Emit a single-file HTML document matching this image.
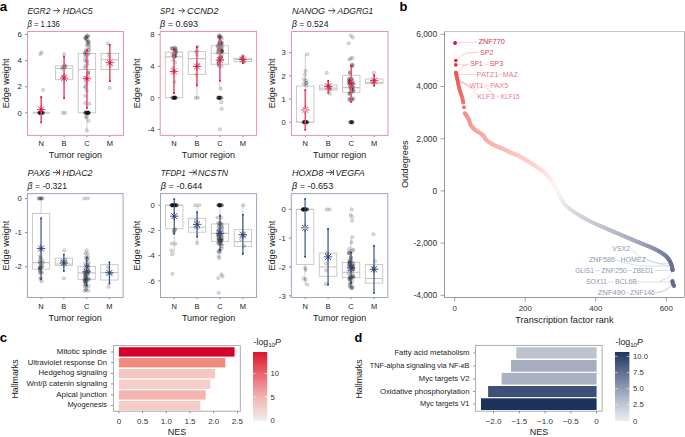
<!DOCTYPE html>
<html><head><meta charset="utf-8"><style>
html,body{margin:0;padding:0;background:#fff;}
body{width:685px;height:437px;overflow:hidden;}
svg{display:block;font-family:"Liberation Sans", sans-serif;}
</style></head><body>
<svg width="685" height="437" viewBox="0 0 685 437">
<rect width="685" height="437" fill="#fff"/>
<text x="-0.20" y="10.60" font-size="13.2" fill="#000" font-weight="bold" textLength="7.40" lengthAdjust="spacingAndGlyphs">a</text>
<text x="27.40" y="13.90" font-size="9.3" fill="#1a1a1a" font-style="italic" textLength="23.00" lengthAdjust="spacingAndGlyphs">EGR2</text>
<line x1="53.30" y1="10.70" x2="59.60" y2="10.70" stroke="#222" stroke-width="0.8"/>
<path d="M57.00,8.20 L59.60,10.70 L57.00,13.20" fill="none" stroke="#222" stroke-width="0.8"/>
<text x="62.80" y="13.90" font-size="9.3" fill="#1a1a1a" font-style="italic" textLength="29.90" lengthAdjust="spacingAndGlyphs">HDAC5</text>
<text x="27.40" y="27.10" font-size="9" fill="#1a1a1a" textLength="32.50" lengthAdjust="spacingAndGlyphs"><tspan font-style="italic">β</tspan> = 1.136</text>
<text x="9.30" y="83.45" font-size="9" fill="#1a1a1a" text-anchor="middle" textLength="49.80" lengthAdjust="spacingAndGlyphs" transform="rotate(-90 9.30 83.45)">Edge weight</text>
<line x1="25.20" y1="112.80" x2="27.50" y2="112.80" stroke="#333" stroke-width="0.6"/>
<text x="21.90" y="115.50" font-size="7.7" fill="#2a2a2a" text-anchor="end">0</text>
<line x1="25.20" y1="86.70" x2="27.50" y2="86.70" stroke="#333" stroke-width="0.6"/>
<text x="21.90" y="89.40" font-size="7.7" fill="#2a2a2a" text-anchor="end">2</text>
<line x1="25.20" y1="60.60" x2="27.50" y2="60.60" stroke="#333" stroke-width="0.6"/>
<text x="21.90" y="63.30" font-size="7.7" fill="#2a2a2a" text-anchor="end">4</text>
<line x1="25.20" y1="34.50" x2="27.50" y2="34.50" stroke="#333" stroke-width="0.6"/>
<text x="21.90" y="37.20" font-size="7.7" fill="#2a2a2a" text-anchor="end">6</text>
<line x1="41.21" y1="135.40" x2="41.21" y2="137.00" stroke="#333" stroke-width="0.6"/>
<text x="41.21" y="146.40" font-size="7.5" fill="#222" text-anchor="middle">N</text>
<line x1="64.07" y1="135.40" x2="64.07" y2="137.00" stroke="#333" stroke-width="0.6"/>
<text x="64.07" y="146.40" font-size="7.5" fill="#222" text-anchor="middle">B</text>
<line x1="86.93" y1="135.40" x2="86.93" y2="137.00" stroke="#333" stroke-width="0.6"/>
<text x="86.93" y="146.40" font-size="7.5" fill="#222" text-anchor="middle">C</text>
<line x1="109.79" y1="135.40" x2="109.79" y2="137.00" stroke="#333" stroke-width="0.6"/>
<text x="109.79" y="146.40" font-size="7.5" fill="#222" text-anchor="middle">M</text>
<text x="75.50" y="157.70" font-size="9.4" fill="#222" text-anchor="middle" textLength="53.30" lengthAdjust="spacingAndGlyphs">Tumor region</text>
<clipPath id="c1"><rect x="27.5" y="31.5" width="96.0" height="103.9"/></clipPath>
<g clip-path="url(#c1)">
<line x1="32.53" y1="112.80" x2="49.90" y2="112.80" stroke="#cfcfcf" stroke-width="2.0"/>
<circle cx="39.82" cy="112.75" r="1.65" fill="#000" fill-opacity="0.13" stroke="#000" stroke-opacity="0.26" stroke-width="0.55"/>
<circle cx="39.50" cy="112.85" r="1.65" fill="#000" fill-opacity="0.13" stroke="#000" stroke-opacity="0.26" stroke-width="0.55"/>
<circle cx="40.68" cy="112.81" r="1.65" fill="#000" fill-opacity="0.13" stroke="#000" stroke-opacity="0.26" stroke-width="0.55"/>
<circle cx="41.24" cy="112.67" r="1.65" fill="#000" fill-opacity="0.13" stroke="#000" stroke-opacity="0.26" stroke-width="0.55"/>
<circle cx="40.95" cy="112.66" r="1.65" fill="#000" fill-opacity="0.13" stroke="#000" stroke-opacity="0.26" stroke-width="0.55"/>
<circle cx="39.58" cy="112.67" r="1.65" fill="#000" fill-opacity="0.13" stroke="#000" stroke-opacity="0.26" stroke-width="0.55"/>
<circle cx="42.52" cy="112.78" r="1.65" fill="#000" fill-opacity="0.13" stroke="#000" stroke-opacity="0.26" stroke-width="0.55"/>
<circle cx="40.11" cy="112.69" r="1.65" fill="#000" fill-opacity="0.13" stroke="#000" stroke-opacity="0.26" stroke-width="0.55"/>
<circle cx="43.01" cy="112.84" r="1.65" fill="#000" fill-opacity="0.13" stroke="#000" stroke-opacity="0.26" stroke-width="0.55"/>
<circle cx="40.80" cy="112.82" r="1.65" fill="#000" fill-opacity="0.13" stroke="#000" stroke-opacity="0.26" stroke-width="0.55"/>
<circle cx="39.40" cy="112.94" r="1.65" fill="#000" fill-opacity="0.13" stroke="#000" stroke-opacity="0.26" stroke-width="0.55"/>
<circle cx="40.37" cy="112.91" r="1.65" fill="#000" fill-opacity="0.13" stroke="#000" stroke-opacity="0.26" stroke-width="0.55"/>
<circle cx="39.69" cy="112.69" r="1.65" fill="#000" fill-opacity="0.13" stroke="#000" stroke-opacity="0.26" stroke-width="0.55"/>
<circle cx="42.48" cy="112.74" r="1.65" fill="#000" fill-opacity="0.13" stroke="#000" stroke-opacity="0.26" stroke-width="0.55"/>
<circle cx="41.54" cy="112.70" r="1.65" fill="#000" fill-opacity="0.13" stroke="#000" stroke-opacity="0.26" stroke-width="0.55"/>
<circle cx="40.70" cy="112.84" r="1.65" fill="#000" fill-opacity="0.13" stroke="#000" stroke-opacity="0.26" stroke-width="0.55"/>
<circle cx="39.47" cy="112.81" r="1.65" fill="#000" fill-opacity="0.13" stroke="#000" stroke-opacity="0.26" stroke-width="0.55"/>
<circle cx="40.04" cy="112.67" r="1.65" fill="#000" fill-opacity="0.13" stroke="#000" stroke-opacity="0.26" stroke-width="0.55"/>
<circle cx="40.92" cy="112.85" r="1.65" fill="#000" fill-opacity="0.13" stroke="#000" stroke-opacity="0.26" stroke-width="0.55"/>
<circle cx="41.56" cy="112.74" r="1.65" fill="#000" fill-opacity="0.13" stroke="#000" stroke-opacity="0.26" stroke-width="0.55"/>
<circle cx="40.41" cy="112.79" r="1.65" fill="#000" fill-opacity="0.13" stroke="#000" stroke-opacity="0.26" stroke-width="0.55"/>
<circle cx="42.01" cy="112.89" r="1.65" fill="#000" fill-opacity="0.13" stroke="#000" stroke-opacity="0.26" stroke-width="0.55"/>
<circle cx="41.51" cy="112.72" r="1.65" fill="#000" fill-opacity="0.13" stroke="#000" stroke-opacity="0.26" stroke-width="0.55"/>
<circle cx="42.71" cy="112.81" r="1.65" fill="#000" fill-opacity="0.13" stroke="#000" stroke-opacity="0.26" stroke-width="0.55"/>
<circle cx="40.21" cy="54.07" r="1.65" fill="#000" fill-opacity="0.13" stroke="#000" stroke-opacity="0.26" stroke-width="0.55"/>
<circle cx="41.61" cy="52.51" r="1.65" fill="#000" fill-opacity="0.13" stroke="#000" stroke-opacity="0.26" stroke-width="0.55"/>
<circle cx="43.21" cy="89.96" r="1.65" fill="#000" fill-opacity="0.13" stroke="#000" stroke-opacity="0.26" stroke-width="0.55"/>
<rect x="55.39" y="65.82" width="17.37" height="13.83" fill="none" stroke="#c4c4c4" stroke-width="0.9"/>
<line x1="55.39" y1="68.43" x2="72.76" y2="68.43" stroke="#c4c4c4" stroke-width="1.1"/>
<circle cx="64.07" cy="54.07" r="1.65" fill="#000" fill-opacity="0.13" stroke="#000" stroke-opacity="0.26" stroke-width="0.55"/>
<circle cx="63.01" cy="67.55" r="1.65" fill="#000" fill-opacity="0.13" stroke="#000" stroke-opacity="0.26" stroke-width="0.55"/>
<circle cx="62.16" cy="68.37" r="1.65" fill="#000" fill-opacity="0.13" stroke="#000" stroke-opacity="0.26" stroke-width="0.55"/>
<circle cx="65.36" cy="66.53" r="1.65" fill="#000" fill-opacity="0.13" stroke="#000" stroke-opacity="0.26" stroke-width="0.55"/>
<circle cx="64.02" cy="65.66" r="1.65" fill="#000" fill-opacity="0.13" stroke="#000" stroke-opacity="0.26" stroke-width="0.55"/>
<circle cx="64.91" cy="65.30" r="1.65" fill="#000" fill-opacity="0.13" stroke="#000" stroke-opacity="0.26" stroke-width="0.55"/>
<circle cx="64.44" cy="67.66" r="1.65" fill="#000" fill-opacity="0.13" stroke="#000" stroke-opacity="0.26" stroke-width="0.55"/>
<circle cx="63.14" cy="76.75" r="1.65" fill="#000" fill-opacity="0.13" stroke="#000" stroke-opacity="0.26" stroke-width="0.55"/>
<circle cx="64.54" cy="75.58" r="1.65" fill="#000" fill-opacity="0.13" stroke="#000" stroke-opacity="0.26" stroke-width="0.55"/>
<circle cx="62.87" cy="112.80" r="1.65" fill="#000" fill-opacity="0.13" stroke="#000" stroke-opacity="0.26" stroke-width="0.55"/>
<circle cx="65.07" cy="112.80" r="1.65" fill="#000" fill-opacity="0.13" stroke="#000" stroke-opacity="0.26" stroke-width="0.55"/>
<line x1="86.93" y1="112.80" x2="86.93" y2="130.55" stroke="#c4c4c4" stroke-width="0.8"/>
<rect x="78.24" y="53.42" width="17.37" height="59.38" fill="none" stroke="#c4c4c4" stroke-width="0.9"/>
<line x1="78.24" y1="69.47" x2="95.61" y2="69.47" stroke="#c4c4c4" stroke-width="1.1"/>
<circle cx="86.73" cy="45.37" r="1.65" fill="#000" fill-opacity="0.13" stroke="#000" stroke-opacity="0.26" stroke-width="0.55"/>
<circle cx="88.97" cy="49.95" r="1.65" fill="#000" fill-opacity="0.13" stroke="#000" stroke-opacity="0.26" stroke-width="0.55"/>
<circle cx="87.68" cy="43.50" r="1.65" fill="#000" fill-opacity="0.13" stroke="#000" stroke-opacity="0.26" stroke-width="0.55"/>
<circle cx="87.86" cy="36.22" r="1.65" fill="#000" fill-opacity="0.13" stroke="#000" stroke-opacity="0.26" stroke-width="0.55"/>
<circle cx="89.20" cy="46.55" r="1.65" fill="#000" fill-opacity="0.13" stroke="#000" stroke-opacity="0.26" stroke-width="0.55"/>
<circle cx="85.94" cy="49.63" r="1.65" fill="#000" fill-opacity="0.13" stroke="#000" stroke-opacity="0.26" stroke-width="0.55"/>
<circle cx="87.70" cy="41.95" r="1.65" fill="#000" fill-opacity="0.13" stroke="#000" stroke-opacity="0.26" stroke-width="0.55"/>
<circle cx="86.75" cy="35.55" r="1.65" fill="#000" fill-opacity="0.13" stroke="#000" stroke-opacity="0.26" stroke-width="0.55"/>
<circle cx="85.17" cy="38.11" r="1.65" fill="#000" fill-opacity="0.13" stroke="#000" stroke-opacity="0.26" stroke-width="0.55"/>
<circle cx="88.16" cy="36.19" r="1.65" fill="#000" fill-opacity="0.13" stroke="#000" stroke-opacity="0.26" stroke-width="0.55"/>
<circle cx="85.77" cy="37.43" r="1.65" fill="#000" fill-opacity="0.13" stroke="#000" stroke-opacity="0.26" stroke-width="0.55"/>
<circle cx="88.64" cy="42.04" r="1.65" fill="#000" fill-opacity="0.13" stroke="#000" stroke-opacity="0.26" stroke-width="0.55"/>
<circle cx="86.69" cy="36.57" r="1.65" fill="#000" fill-opacity="0.13" stroke="#000" stroke-opacity="0.26" stroke-width="0.55"/>
<circle cx="88.69" cy="44.83" r="1.65" fill="#000" fill-opacity="0.13" stroke="#000" stroke-opacity="0.26" stroke-width="0.55"/>
<circle cx="88.60" cy="49.59" r="1.65" fill="#000" fill-opacity="0.13" stroke="#000" stroke-opacity="0.26" stroke-width="0.55"/>
<circle cx="86.54" cy="40.06" r="1.65" fill="#000" fill-opacity="0.13" stroke="#000" stroke-opacity="0.26" stroke-width="0.55"/>
<circle cx="88.70" cy="41.47" r="1.65" fill="#000" fill-opacity="0.13" stroke="#000" stroke-opacity="0.26" stroke-width="0.55"/>
<circle cx="85.32" cy="52.03" r="1.65" fill="#000" fill-opacity="0.13" stroke="#000" stroke-opacity="0.26" stroke-width="0.55"/>
<circle cx="85.70" cy="38.26" r="1.65" fill="#000" fill-opacity="0.13" stroke="#000" stroke-opacity="0.26" stroke-width="0.55"/>
<circle cx="86.86" cy="39.26" r="1.65" fill="#000" fill-opacity="0.13" stroke="#000" stroke-opacity="0.26" stroke-width="0.55"/>
<circle cx="85.84" cy="65.84" r="1.65" fill="#000" fill-opacity="0.13" stroke="#000" stroke-opacity="0.26" stroke-width="0.55"/>
<circle cx="86.56" cy="52.86" r="1.65" fill="#000" fill-opacity="0.13" stroke="#000" stroke-opacity="0.26" stroke-width="0.55"/>
<circle cx="87.23" cy="60.96" r="1.65" fill="#000" fill-opacity="0.13" stroke="#000" stroke-opacity="0.26" stroke-width="0.55"/>
<circle cx="87.80" cy="73.91" r="1.65" fill="#000" fill-opacity="0.13" stroke="#000" stroke-opacity="0.26" stroke-width="0.55"/>
<circle cx="87.47" cy="64.21" r="1.65" fill="#000" fill-opacity="0.13" stroke="#000" stroke-opacity="0.26" stroke-width="0.55"/>
<circle cx="84.88" cy="67.77" r="1.65" fill="#000" fill-opacity="0.13" stroke="#000" stroke-opacity="0.26" stroke-width="0.55"/>
<circle cx="88.22" cy="72.73" r="1.65" fill="#000" fill-opacity="0.13" stroke="#000" stroke-opacity="0.26" stroke-width="0.55"/>
<circle cx="88.30" cy="72.17" r="1.65" fill="#000" fill-opacity="0.13" stroke="#000" stroke-opacity="0.26" stroke-width="0.55"/>
<circle cx="86.46" cy="61.47" r="1.65" fill="#000" fill-opacity="0.13" stroke="#000" stroke-opacity="0.26" stroke-width="0.55"/>
<circle cx="87.55" cy="55.07" r="1.65" fill="#000" fill-opacity="0.13" stroke="#000" stroke-opacity="0.26" stroke-width="0.55"/>
<circle cx="84.94" cy="54.15" r="1.65" fill="#000" fill-opacity="0.13" stroke="#000" stroke-opacity="0.26" stroke-width="0.55"/>
<circle cx="85.38" cy="57.40" r="1.65" fill="#000" fill-opacity="0.13" stroke="#000" stroke-opacity="0.26" stroke-width="0.55"/>
<circle cx="84.87" cy="60.31" r="1.65" fill="#000" fill-opacity="0.13" stroke="#000" stroke-opacity="0.26" stroke-width="0.55"/>
<circle cx="85.32" cy="52.78" r="1.65" fill="#000" fill-opacity="0.13" stroke="#000" stroke-opacity="0.26" stroke-width="0.55"/>
<circle cx="86.30" cy="55.02" r="1.65" fill="#000" fill-opacity="0.13" stroke="#000" stroke-opacity="0.26" stroke-width="0.55"/>
<circle cx="88.65" cy="53.34" r="1.65" fill="#000" fill-opacity="0.13" stroke="#000" stroke-opacity="0.26" stroke-width="0.55"/>
<circle cx="85.31" cy="95.79" r="1.65" fill="#000" fill-opacity="0.13" stroke="#000" stroke-opacity="0.26" stroke-width="0.55"/>
<circle cx="86.23" cy="83.51" r="1.65" fill="#000" fill-opacity="0.13" stroke="#000" stroke-opacity="0.26" stroke-width="0.55"/>
<circle cx="85.19" cy="87.31" r="1.65" fill="#000" fill-opacity="0.13" stroke="#000" stroke-opacity="0.26" stroke-width="0.55"/>
<circle cx="89.20" cy="103.76" r="1.65" fill="#000" fill-opacity="0.13" stroke="#000" stroke-opacity="0.26" stroke-width="0.55"/>
<circle cx="86.85" cy="90.77" r="1.65" fill="#000" fill-opacity="0.13" stroke="#000" stroke-opacity="0.26" stroke-width="0.55"/>
<circle cx="85.10" cy="77.87" r="1.65" fill="#000" fill-opacity="0.13" stroke="#000" stroke-opacity="0.26" stroke-width="0.55"/>
<circle cx="85.85" cy="86.58" r="1.65" fill="#000" fill-opacity="0.13" stroke="#000" stroke-opacity="0.26" stroke-width="0.55"/>
<circle cx="85.37" cy="103.08" r="1.65" fill="#000" fill-opacity="0.13" stroke="#000" stroke-opacity="0.26" stroke-width="0.55"/>
<circle cx="88.55" cy="112.66" r="1.65" fill="#000" fill-opacity="0.13" stroke="#000" stroke-opacity="0.26" stroke-width="0.55"/>
<circle cx="85.66" cy="112.81" r="1.65" fill="#000" fill-opacity="0.13" stroke="#000" stroke-opacity="0.26" stroke-width="0.55"/>
<circle cx="85.23" cy="112.81" r="1.65" fill="#000" fill-opacity="0.13" stroke="#000" stroke-opacity="0.26" stroke-width="0.55"/>
<circle cx="88.65" cy="112.81" r="1.65" fill="#000" fill-opacity="0.13" stroke="#000" stroke-opacity="0.26" stroke-width="0.55"/>
<circle cx="87.63" cy="112.91" r="1.65" fill="#000" fill-opacity="0.13" stroke="#000" stroke-opacity="0.26" stroke-width="0.55"/>
<circle cx="86.45" cy="112.73" r="1.65" fill="#000" fill-opacity="0.13" stroke="#000" stroke-opacity="0.26" stroke-width="0.55"/>
<circle cx="87.91" cy="112.70" r="1.65" fill="#000" fill-opacity="0.13" stroke="#000" stroke-opacity="0.26" stroke-width="0.55"/>
<circle cx="87.93" cy="112.81" r="1.65" fill="#000" fill-opacity="0.13" stroke="#000" stroke-opacity="0.26" stroke-width="0.55"/>
<circle cx="85.93" cy="112.75" r="1.65" fill="#000" fill-opacity="0.13" stroke="#000" stroke-opacity="0.26" stroke-width="0.55"/>
<circle cx="88.67" cy="112.89" r="1.65" fill="#000" fill-opacity="0.13" stroke="#000" stroke-opacity="0.26" stroke-width="0.55"/>
<circle cx="88.03" cy="112.91" r="1.65" fill="#000" fill-opacity="0.13" stroke="#000" stroke-opacity="0.26" stroke-width="0.55"/>
<circle cx="87.79" cy="112.90" r="1.65" fill="#000" fill-opacity="0.13" stroke="#000" stroke-opacity="0.26" stroke-width="0.55"/>
<circle cx="86.99" cy="112.72" r="1.65" fill="#000" fill-opacity="0.13" stroke="#000" stroke-opacity="0.26" stroke-width="0.55"/>
<circle cx="85.23" cy="112.76" r="1.65" fill="#000" fill-opacity="0.13" stroke="#000" stroke-opacity="0.26" stroke-width="0.55"/>
<circle cx="86.13" cy="112.66" r="1.65" fill="#000" fill-opacity="0.13" stroke="#000" stroke-opacity="0.26" stroke-width="0.55"/>
<circle cx="87.62" cy="112.73" r="1.65" fill="#000" fill-opacity="0.13" stroke="#000" stroke-opacity="0.26" stroke-width="0.55"/>
<circle cx="86.74" cy="112.94" r="1.65" fill="#000" fill-opacity="0.13" stroke="#000" stroke-opacity="0.26" stroke-width="0.55"/>
<circle cx="88.69" cy="112.93" r="1.65" fill="#000" fill-opacity="0.13" stroke="#000" stroke-opacity="0.26" stroke-width="0.55"/>
<circle cx="86.93" cy="116.72" r="1.65" fill="#000" fill-opacity="0.13" stroke="#000" stroke-opacity="0.26" stroke-width="0.55"/>
<circle cx="85.73" cy="117.37" r="1.65" fill="#000" fill-opacity="0.13" stroke="#000" stroke-opacity="0.26" stroke-width="0.55"/>
<circle cx="88.53" cy="120.63" r="1.65" fill="#000" fill-opacity="0.13" stroke="#000" stroke-opacity="0.26" stroke-width="0.55"/>
<circle cx="86.93" cy="130.55" r="1.65" fill="#000" fill-opacity="0.13" stroke="#000" stroke-opacity="0.26" stroke-width="0.55"/>
<rect x="101.10" y="53.42" width="17.37" height="16.05" fill="none" stroke="#c4c4c4" stroke-width="0.9"/>
<line x1="101.10" y1="59.82" x2="118.47" y2="59.82" stroke="#c4c4c4" stroke-width="1.1"/>
<circle cx="107.79" cy="43.63" r="1.65" fill="#000" fill-opacity="0.13" stroke="#000" stroke-opacity="0.26" stroke-width="0.55"/>
<circle cx="109.79" cy="88.00" r="1.65" fill="#000" fill-opacity="0.13" stroke="#000" stroke-opacity="0.26" stroke-width="0.55"/>
<circle cx="109.38" cy="56.51" r="1.65" fill="#000" fill-opacity="0.13" stroke="#000" stroke-opacity="0.26" stroke-width="0.55"/>
<circle cx="108.97" cy="53.63" r="1.65" fill="#000" fill-opacity="0.13" stroke="#000" stroke-opacity="0.26" stroke-width="0.55"/>
<circle cx="110.79" cy="65.82" r="1.65" fill="#000" fill-opacity="0.13" stroke="#000" stroke-opacity="0.26" stroke-width="0.55"/>
<line x1="41.21" y1="96.62" x2="41.21" y2="122.85" stroke="#e4587a" stroke-width="1.6"/>
<line x1="41.21" y1="96.32" x2="41.21" y2="97.92" stroke="#d7153f" stroke-width="1.7"/>
<line x1="41.21" y1="121.55" x2="41.21" y2="123.15" stroke="#d7153f" stroke-width="1.7"/>
<path d="M37.01,109.41L45.41,109.41M38.24,106.44L44.18,112.38M41.21,105.21L41.21,113.61M44.18,106.44L38.24,112.38" stroke="#e02a50" stroke-width="0.95" fill="none"/>
<circle cx="41.21" cy="109.41" r="1.15" fill="#d7153f"/>
<line x1="64.07" y1="56.16" x2="64.07" y2="98.58" stroke="#e4587a" stroke-width="1.6"/>
<line x1="64.07" y1="55.86" x2="64.07" y2="57.46" stroke="#d7153f" stroke-width="1.7"/>
<line x1="64.07" y1="97.28" x2="64.07" y2="98.88" stroke="#d7153f" stroke-width="1.7"/>
<path d="M59.87,78.09L68.27,78.09M61.10,75.12L67.04,81.06M64.07,73.89L64.07,82.29M67.04,75.12L61.10,81.06" stroke="#e02a50" stroke-width="0.95" fill="none"/>
<circle cx="64.07" cy="78.09" r="1.15" fill="#d7153f"/>
<line x1="86.93" y1="49.64" x2="86.93" y2="108.49" stroke="#e4587a" stroke-width="1.6"/>
<line x1="86.93" y1="49.34" x2="86.93" y2="50.94" stroke="#d7153f" stroke-width="1.7"/>
<line x1="86.93" y1="107.19" x2="86.93" y2="108.79" stroke="#d7153f" stroke-width="1.7"/>
<path d="M82.73,78.74L91.13,78.74M83.96,75.77L89.90,81.71M86.93,74.54L86.93,82.94M89.90,75.77L83.96,81.71" stroke="#e02a50" stroke-width="0.95" fill="none"/>
<circle cx="86.93" cy="78.74" r="1.15" fill="#d7153f"/>
<line x1="109.79" y1="44.42" x2="109.79" y2="81.61" stroke="#e4587a" stroke-width="1.6"/>
<line x1="109.79" y1="44.12" x2="109.79" y2="45.72" stroke="#d7153f" stroke-width="1.7"/>
<line x1="109.79" y1="80.31" x2="109.79" y2="81.91" stroke="#d7153f" stroke-width="1.7"/>
<path d="M105.59,62.69L113.99,62.69M106.82,59.72L112.76,65.66M109.79,58.49L109.79,66.89M112.76,59.72L106.82,65.66" stroke="#e02a50" stroke-width="0.95" fill="none"/>
<circle cx="109.79" cy="62.69" r="1.15" fill="#d7153f"/>
</g>
<rect x="27.50" y="31.50" width="96.00" height="103.90" fill="none" stroke="#eb93a7" stroke-width="1"/>
<text x="160.10" y="13.90" font-size="9.3" fill="#1a1a1a" font-style="italic" textLength="14.60" lengthAdjust="spacingAndGlyphs">SP1</text>
<line x1="178.40" y1="10.70" x2="184.60" y2="10.70" stroke="#222" stroke-width="0.8"/>
<path d="M182.00,8.20 L184.60,10.70 L182.00,13.20" fill="none" stroke="#222" stroke-width="0.8"/>
<text x="187.10" y="13.90" font-size="9.3" fill="#1a1a1a" font-style="italic" textLength="31.40" lengthAdjust="spacingAndGlyphs">CCND2</text>
<text x="160.10" y="27.10" font-size="9" fill="#1a1a1a" textLength="38.00" lengthAdjust="spacingAndGlyphs"><tspan font-style="italic">β</tspan> = 0.693</text>
<text x="140.20" y="83.45" font-size="9" fill="#1a1a1a" text-anchor="middle" textLength="49.80" lengthAdjust="spacingAndGlyphs" transform="rotate(-90 140.20 83.45)">Edge weight</text>
<line x1="157.90" y1="129.40" x2="160.20" y2="129.40" stroke="#333" stroke-width="0.6"/>
<text x="154.60" y="132.10" font-size="7.7" fill="#2a2a2a" text-anchor="end">-4</text>
<line x1="157.90" y1="97.80" x2="160.20" y2="97.80" stroke="#333" stroke-width="0.6"/>
<text x="154.60" y="100.50" font-size="7.7" fill="#2a2a2a" text-anchor="end">0</text>
<line x1="157.90" y1="66.20" x2="160.20" y2="66.20" stroke="#333" stroke-width="0.6"/>
<text x="154.60" y="68.90" font-size="7.7" fill="#2a2a2a" text-anchor="end">4</text>
<line x1="157.90" y1="34.60" x2="160.20" y2="34.60" stroke="#333" stroke-width="0.6"/>
<text x="154.60" y="37.30" font-size="7.7" fill="#2a2a2a" text-anchor="end">8</text>
<line x1="173.97" y1="135.40" x2="173.97" y2="137.00" stroke="#333" stroke-width="0.6"/>
<text x="173.97" y="146.40" font-size="7.5" fill="#222" text-anchor="middle">N</text>
<line x1="196.92" y1="135.40" x2="196.92" y2="137.00" stroke="#333" stroke-width="0.6"/>
<text x="196.92" y="146.40" font-size="7.5" fill="#222" text-anchor="middle">B</text>
<line x1="219.88" y1="135.40" x2="219.88" y2="137.00" stroke="#333" stroke-width="0.6"/>
<text x="219.88" y="146.40" font-size="7.5" fill="#222" text-anchor="middle">C</text>
<line x1="242.83" y1="135.40" x2="242.83" y2="137.00" stroke="#333" stroke-width="0.6"/>
<text x="242.83" y="146.40" font-size="7.5" fill="#222" text-anchor="middle">M</text>
<text x="208.40" y="157.70" font-size="9.4" fill="#222" text-anchor="middle" textLength="53.30" lengthAdjust="spacingAndGlyphs">Tumor region</text>
<clipPath id="c2"><rect x="160.2" y="31.5" width="96.40000000000003" height="103.9"/></clipPath>
<g clip-path="url(#c2)">
<rect x="165.25" y="52.14" width="17.44" height="45.66" fill="none" stroke="#c4c4c4" stroke-width="0.9"/>
<line x1="165.25" y1="56.88" x2="182.69" y2="56.88" stroke="#c4c4c4" stroke-width="1.1"/>
<circle cx="172.61" cy="48.79" r="1.65" fill="#000" fill-opacity="0.13" stroke="#000" stroke-opacity="0.26" stroke-width="0.55"/>
<circle cx="175.81" cy="53.01" r="1.65" fill="#000" fill-opacity="0.13" stroke="#000" stroke-opacity="0.26" stroke-width="0.55"/>
<circle cx="173.88" cy="55.14" r="1.65" fill="#000" fill-opacity="0.13" stroke="#000" stroke-opacity="0.26" stroke-width="0.55"/>
<circle cx="175.35" cy="53.29" r="1.65" fill="#000" fill-opacity="0.13" stroke="#000" stroke-opacity="0.26" stroke-width="0.55"/>
<circle cx="174.71" cy="47.68" r="1.65" fill="#000" fill-opacity="0.13" stroke="#000" stroke-opacity="0.26" stroke-width="0.55"/>
<circle cx="175.27" cy="55.83" r="1.65" fill="#000" fill-opacity="0.13" stroke="#000" stroke-opacity="0.26" stroke-width="0.55"/>
<circle cx="173.87" cy="54.25" r="1.65" fill="#000" fill-opacity="0.13" stroke="#000" stroke-opacity="0.26" stroke-width="0.55"/>
<circle cx="175.30" cy="48.61" r="1.65" fill="#000" fill-opacity="0.13" stroke="#000" stroke-opacity="0.26" stroke-width="0.55"/>
<circle cx="175.36" cy="50.13" r="1.65" fill="#000" fill-opacity="0.13" stroke="#000" stroke-opacity="0.26" stroke-width="0.55"/>
<circle cx="173.49" cy="56.44" r="1.65" fill="#000" fill-opacity="0.13" stroke="#000" stroke-opacity="0.26" stroke-width="0.55"/>
<circle cx="176.03" cy="50.81" r="1.65" fill="#000" fill-opacity="0.13" stroke="#000" stroke-opacity="0.26" stroke-width="0.55"/>
<circle cx="172.45" cy="54.00" r="1.65" fill="#000" fill-opacity="0.13" stroke="#000" stroke-opacity="0.26" stroke-width="0.55"/>
<circle cx="172.37" cy="48.10" r="1.65" fill="#000" fill-opacity="0.13" stroke="#000" stroke-opacity="0.26" stroke-width="0.55"/>
<circle cx="175.38" cy="55.78" r="1.65" fill="#000" fill-opacity="0.13" stroke="#000" stroke-opacity="0.26" stroke-width="0.55"/>
<circle cx="175.47" cy="48.29" r="1.65" fill="#000" fill-opacity="0.13" stroke="#000" stroke-opacity="0.26" stroke-width="0.55"/>
<circle cx="174.69" cy="56.53" r="1.65" fill="#000" fill-opacity="0.13" stroke="#000" stroke-opacity="0.26" stroke-width="0.55"/>
<circle cx="174.20" cy="50.31" r="1.65" fill="#000" fill-opacity="0.13" stroke="#000" stroke-opacity="0.26" stroke-width="0.55"/>
<circle cx="171.74" cy="48.14" r="1.65" fill="#000" fill-opacity="0.13" stroke="#000" stroke-opacity="0.26" stroke-width="0.55"/>
<circle cx="174.66" cy="56.43" r="1.65" fill="#000" fill-opacity="0.13" stroke="#000" stroke-opacity="0.26" stroke-width="0.55"/>
<circle cx="175.97" cy="52.04" r="1.65" fill="#000" fill-opacity="0.13" stroke="#000" stroke-opacity="0.26" stroke-width="0.55"/>
<circle cx="175.09" cy="62.55" r="1.65" fill="#000" fill-opacity="0.13" stroke="#000" stroke-opacity="0.26" stroke-width="0.55"/>
<circle cx="173.10" cy="67.82" r="1.65" fill="#000" fill-opacity="0.13" stroke="#000" stroke-opacity="0.26" stroke-width="0.55"/>
<circle cx="173.35" cy="60.10" r="1.65" fill="#000" fill-opacity="0.13" stroke="#000" stroke-opacity="0.26" stroke-width="0.55"/>
<circle cx="174.47" cy="82.00" r="1.65" fill="#000" fill-opacity="0.13" stroke="#000" stroke-opacity="0.26" stroke-width="0.55"/>
<circle cx="174.32" cy="97.72" r="1.65" fill="#000" fill-opacity="0.13" stroke="#000" stroke-opacity="0.26" stroke-width="0.55"/>
<circle cx="173.65" cy="97.73" r="1.65" fill="#000" fill-opacity="0.13" stroke="#000" stroke-opacity="0.26" stroke-width="0.55"/>
<circle cx="175.61" cy="97.69" r="1.65" fill="#000" fill-opacity="0.13" stroke="#000" stroke-opacity="0.26" stroke-width="0.55"/>
<circle cx="173.80" cy="97.76" r="1.65" fill="#000" fill-opacity="0.13" stroke="#000" stroke-opacity="0.26" stroke-width="0.55"/>
<circle cx="175.59" cy="97.83" r="1.65" fill="#000" fill-opacity="0.13" stroke="#000" stroke-opacity="0.26" stroke-width="0.55"/>
<circle cx="175.64" cy="97.78" r="1.65" fill="#000" fill-opacity="0.13" stroke="#000" stroke-opacity="0.26" stroke-width="0.55"/>
<circle cx="174.10" cy="97.80" r="1.65" fill="#000" fill-opacity="0.13" stroke="#000" stroke-opacity="0.26" stroke-width="0.55"/>
<circle cx="172.05" cy="97.81" r="1.65" fill="#000" fill-opacity="0.13" stroke="#000" stroke-opacity="0.26" stroke-width="0.55"/>
<circle cx="172.70" cy="97.78" r="1.65" fill="#000" fill-opacity="0.13" stroke="#000" stroke-opacity="0.26" stroke-width="0.55"/>
<circle cx="175.17" cy="97.65" r="1.65" fill="#000" fill-opacity="0.13" stroke="#000" stroke-opacity="0.26" stroke-width="0.55"/>
<circle cx="173.87" cy="97.70" r="1.65" fill="#000" fill-opacity="0.13" stroke="#000" stroke-opacity="0.26" stroke-width="0.55"/>
<circle cx="174.20" cy="97.87" r="1.65" fill="#000" fill-opacity="0.13" stroke="#000" stroke-opacity="0.26" stroke-width="0.55"/>
<circle cx="174.04" cy="97.75" r="1.65" fill="#000" fill-opacity="0.13" stroke="#000" stroke-opacity="0.26" stroke-width="0.55"/>
<circle cx="175.11" cy="97.82" r="1.65" fill="#000" fill-opacity="0.13" stroke="#000" stroke-opacity="0.26" stroke-width="0.55"/>
<line x1="196.92" y1="97.80" x2="196.92" y2="74.42" stroke="#c4c4c4" stroke-width="0.8"/>
<rect x="188.20" y="51.66" width="17.44" height="22.75" fill="none" stroke="#c4c4c4" stroke-width="0.9"/>
<line x1="188.20" y1="58.62" x2="205.65" y2="58.62" stroke="#c4c4c4" stroke-width="1.1"/>
<circle cx="197.42" cy="46.45" r="1.65" fill="#000" fill-opacity="0.13" stroke="#000" stroke-opacity="0.26" stroke-width="0.55"/>
<circle cx="197.16" cy="50.99" r="1.65" fill="#000" fill-opacity="0.13" stroke="#000" stroke-opacity="0.26" stroke-width="0.55"/>
<circle cx="196.03" cy="51.77" r="1.65" fill="#000" fill-opacity="0.13" stroke="#000" stroke-opacity="0.26" stroke-width="0.55"/>
<circle cx="196.95" cy="54.67" r="1.65" fill="#000" fill-opacity="0.13" stroke="#000" stroke-opacity="0.26" stroke-width="0.55"/>
<circle cx="198.42" cy="64.62" r="1.65" fill="#000" fill-opacity="0.13" stroke="#000" stroke-opacity="0.26" stroke-width="0.55"/>
<circle cx="196.42" cy="74.49" r="1.65" fill="#000" fill-opacity="0.13" stroke="#000" stroke-opacity="0.26" stroke-width="0.55"/>
<circle cx="195.62" cy="97.80" r="1.65" fill="#000" fill-opacity="0.13" stroke="#000" stroke-opacity="0.26" stroke-width="0.55"/>
<circle cx="197.92" cy="97.80" r="1.65" fill="#000" fill-opacity="0.13" stroke="#000" stroke-opacity="0.26" stroke-width="0.55"/>
<line x1="219.88" y1="88.87" x2="219.88" y2="81.37" stroke="#c4c4c4" stroke-width="0.8"/>
<rect x="211.15" y="45.74" width="17.44" height="18.49" fill="none" stroke="#c4c4c4" stroke-width="0.9"/>
<line x1="211.15" y1="53.32" x2="228.60" y2="53.32" stroke="#c4c4c4" stroke-width="1.1"/>
<circle cx="221.07" cy="43.65" r="1.65" fill="#000" fill-opacity="0.13" stroke="#000" stroke-opacity="0.26" stroke-width="0.55"/>
<circle cx="219.62" cy="49.05" r="1.65" fill="#000" fill-opacity="0.13" stroke="#000" stroke-opacity="0.26" stroke-width="0.55"/>
<circle cx="219.90" cy="44.43" r="1.65" fill="#000" fill-opacity="0.13" stroke="#000" stroke-opacity="0.26" stroke-width="0.55"/>
<circle cx="220.76" cy="42.88" r="1.65" fill="#000" fill-opacity="0.13" stroke="#000" stroke-opacity="0.26" stroke-width="0.55"/>
<circle cx="220.03" cy="41.96" r="1.65" fill="#000" fill-opacity="0.13" stroke="#000" stroke-opacity="0.26" stroke-width="0.55"/>
<circle cx="221.91" cy="42.36" r="1.65" fill="#000" fill-opacity="0.13" stroke="#000" stroke-opacity="0.26" stroke-width="0.55"/>
<circle cx="221.61" cy="45.77" r="1.65" fill="#000" fill-opacity="0.13" stroke="#000" stroke-opacity="0.26" stroke-width="0.55"/>
<circle cx="218.77" cy="49.51" r="1.65" fill="#000" fill-opacity="0.13" stroke="#000" stroke-opacity="0.26" stroke-width="0.55"/>
<circle cx="221.92" cy="43.61" r="1.65" fill="#000" fill-opacity="0.13" stroke="#000" stroke-opacity="0.26" stroke-width="0.55"/>
<circle cx="218.21" cy="47.94" r="1.65" fill="#000" fill-opacity="0.13" stroke="#000" stroke-opacity="0.26" stroke-width="0.55"/>
<circle cx="219.61" cy="36.87" r="1.65" fill="#000" fill-opacity="0.13" stroke="#000" stroke-opacity="0.26" stroke-width="0.55"/>
<circle cx="218.68" cy="36.11" r="1.65" fill="#000" fill-opacity="0.13" stroke="#000" stroke-opacity="0.26" stroke-width="0.55"/>
<circle cx="220.66" cy="36.12" r="1.65" fill="#000" fill-opacity="0.13" stroke="#000" stroke-opacity="0.26" stroke-width="0.55"/>
<circle cx="221.70" cy="47.07" r="1.65" fill="#000" fill-opacity="0.13" stroke="#000" stroke-opacity="0.26" stroke-width="0.55"/>
<circle cx="220.87" cy="37.37" r="1.65" fill="#000" fill-opacity="0.13" stroke="#000" stroke-opacity="0.26" stroke-width="0.55"/>
<circle cx="218.23" cy="45.17" r="1.65" fill="#000" fill-opacity="0.13" stroke="#000" stroke-opacity="0.26" stroke-width="0.55"/>
<circle cx="222.03" cy="48.60" r="1.65" fill="#000" fill-opacity="0.13" stroke="#000" stroke-opacity="0.26" stroke-width="0.55"/>
<circle cx="221.96" cy="38.38" r="1.65" fill="#000" fill-opacity="0.13" stroke="#000" stroke-opacity="0.26" stroke-width="0.55"/>
<circle cx="219.82" cy="41.13" r="1.65" fill="#000" fill-opacity="0.13" stroke="#000" stroke-opacity="0.26" stroke-width="0.55"/>
<circle cx="221.41" cy="50.24" r="1.65" fill="#000" fill-opacity="0.13" stroke="#000" stroke-opacity="0.26" stroke-width="0.55"/>
<circle cx="219.56" cy="37.48" r="1.65" fill="#000" fill-opacity="0.13" stroke="#000" stroke-opacity="0.26" stroke-width="0.55"/>
<circle cx="219.14" cy="42.94" r="1.65" fill="#000" fill-opacity="0.13" stroke="#000" stroke-opacity="0.26" stroke-width="0.55"/>
<circle cx="219.04" cy="38.01" r="1.65" fill="#000" fill-opacity="0.13" stroke="#000" stroke-opacity="0.26" stroke-width="0.55"/>
<circle cx="217.67" cy="46.12" r="1.65" fill="#000" fill-opacity="0.13" stroke="#000" stroke-opacity="0.26" stroke-width="0.55"/>
<circle cx="219.60" cy="43.53" r="1.65" fill="#000" fill-opacity="0.13" stroke="#000" stroke-opacity="0.26" stroke-width="0.55"/>
<circle cx="219.10" cy="35.27" r="1.65" fill="#000" fill-opacity="0.13" stroke="#000" stroke-opacity="0.26" stroke-width="0.55"/>
<circle cx="219.93" cy="57.30" r="1.65" fill="#000" fill-opacity="0.13" stroke="#000" stroke-opacity="0.26" stroke-width="0.55"/>
<circle cx="222.11" cy="51.11" r="1.65" fill="#000" fill-opacity="0.13" stroke="#000" stroke-opacity="0.26" stroke-width="0.55"/>
<circle cx="222.05" cy="59.12" r="1.65" fill="#000" fill-opacity="0.13" stroke="#000" stroke-opacity="0.26" stroke-width="0.55"/>
<circle cx="218.80" cy="51.56" r="1.65" fill="#000" fill-opacity="0.13" stroke="#000" stroke-opacity="0.26" stroke-width="0.55"/>
<circle cx="221.16" cy="50.84" r="1.65" fill="#000" fill-opacity="0.13" stroke="#000" stroke-opacity="0.26" stroke-width="0.55"/>
<circle cx="218.17" cy="53.39" r="1.65" fill="#000" fill-opacity="0.13" stroke="#000" stroke-opacity="0.26" stroke-width="0.55"/>
<circle cx="221.77" cy="55.07" r="1.65" fill="#000" fill-opacity="0.13" stroke="#000" stroke-opacity="0.26" stroke-width="0.55"/>
<circle cx="218.77" cy="59.46" r="1.65" fill="#000" fill-opacity="0.13" stroke="#000" stroke-opacity="0.26" stroke-width="0.55"/>
<circle cx="221.80" cy="52.05" r="1.65" fill="#000" fill-opacity="0.13" stroke="#000" stroke-opacity="0.26" stroke-width="0.55"/>
<circle cx="220.80" cy="56.71" r="1.65" fill="#000" fill-opacity="0.13" stroke="#000" stroke-opacity="0.26" stroke-width="0.55"/>
<circle cx="217.84" cy="51.39" r="1.65" fill="#000" fill-opacity="0.13" stroke="#000" stroke-opacity="0.26" stroke-width="0.55"/>
<circle cx="219.53" cy="58.01" r="1.65" fill="#000" fill-opacity="0.13" stroke="#000" stroke-opacity="0.26" stroke-width="0.55"/>
<circle cx="221.89" cy="51.20" r="1.65" fill="#000" fill-opacity="0.13" stroke="#000" stroke-opacity="0.26" stroke-width="0.55"/>
<circle cx="221.26" cy="57.42" r="1.65" fill="#000" fill-opacity="0.13" stroke="#000" stroke-opacity="0.26" stroke-width="0.55"/>
<circle cx="221.51" cy="51.33" r="1.65" fill="#000" fill-opacity="0.13" stroke="#000" stroke-opacity="0.26" stroke-width="0.55"/>
<circle cx="221.54" cy="51.14" r="1.65" fill="#000" fill-opacity="0.13" stroke="#000" stroke-opacity="0.26" stroke-width="0.55"/>
<circle cx="219.23" cy="65.40" r="1.65" fill="#000" fill-opacity="0.13" stroke="#000" stroke-opacity="0.26" stroke-width="0.55"/>
<circle cx="221.58" cy="66.27" r="1.65" fill="#000" fill-opacity="0.13" stroke="#000" stroke-opacity="0.26" stroke-width="0.55"/>
<circle cx="218.39" cy="63.79" r="1.65" fill="#000" fill-opacity="0.13" stroke="#000" stroke-opacity="0.26" stroke-width="0.55"/>
<circle cx="218.83" cy="66.04" r="1.65" fill="#000" fill-opacity="0.13" stroke="#000" stroke-opacity="0.26" stroke-width="0.55"/>
<circle cx="218.52" cy="62.41" r="1.65" fill="#000" fill-opacity="0.13" stroke="#000" stroke-opacity="0.26" stroke-width="0.55"/>
<circle cx="218.68" cy="61.90" r="1.65" fill="#000" fill-opacity="0.13" stroke="#000" stroke-opacity="0.26" stroke-width="0.55"/>
<circle cx="220.68" cy="88.87" r="1.65" fill="#000" fill-opacity="0.13" stroke="#000" stroke-opacity="0.26" stroke-width="0.55"/>
<circle cx="219.17" cy="97.74" r="1.65" fill="#000" fill-opacity="0.13" stroke="#000" stroke-opacity="0.26" stroke-width="0.55"/>
<circle cx="219.12" cy="97.88" r="1.65" fill="#000" fill-opacity="0.13" stroke="#000" stroke-opacity="0.26" stroke-width="0.55"/>
<circle cx="218.72" cy="97.80" r="1.65" fill="#000" fill-opacity="0.13" stroke="#000" stroke-opacity="0.26" stroke-width="0.55"/>
<circle cx="218.14" cy="97.75" r="1.65" fill="#000" fill-opacity="0.13" stroke="#000" stroke-opacity="0.26" stroke-width="0.55"/>
<circle cx="218.13" cy="97.73" r="1.65" fill="#000" fill-opacity="0.13" stroke="#000" stroke-opacity="0.26" stroke-width="0.55"/>
<circle cx="220.06" cy="97.87" r="1.65" fill="#000" fill-opacity="0.13" stroke="#000" stroke-opacity="0.26" stroke-width="0.55"/>
<circle cx="219.79" cy="97.71" r="1.65" fill="#000" fill-opacity="0.13" stroke="#000" stroke-opacity="0.26" stroke-width="0.55"/>
<circle cx="218.46" cy="97.93" r="1.65" fill="#000" fill-opacity="0.13" stroke="#000" stroke-opacity="0.26" stroke-width="0.55"/>
<circle cx="219.63" cy="97.90" r="1.65" fill="#000" fill-opacity="0.13" stroke="#000" stroke-opacity="0.26" stroke-width="0.55"/>
<circle cx="221.08" cy="97.80" r="1.65" fill="#000" fill-opacity="0.13" stroke="#000" stroke-opacity="0.26" stroke-width="0.55"/>
<circle cx="219.90" cy="97.77" r="1.65" fill="#000" fill-opacity="0.13" stroke="#000" stroke-opacity="0.26" stroke-width="0.55"/>
<circle cx="221.61" cy="97.86" r="1.65" fill="#000" fill-opacity="0.13" stroke="#000" stroke-opacity="0.26" stroke-width="0.55"/>
<circle cx="221.38" cy="102.14" r="1.65" fill="#000" fill-opacity="0.13" stroke="#000" stroke-opacity="0.26" stroke-width="0.55"/>
<circle cx="221.68" cy="108.78" r="1.65" fill="#000" fill-opacity="0.13" stroke="#000" stroke-opacity="0.26" stroke-width="0.55"/>
<circle cx="219.88" cy="129.32" r="1.65" fill="#000" fill-opacity="0.13" stroke="#000" stroke-opacity="0.26" stroke-width="0.55"/>
<rect x="234.11" y="58.30" width="17.44" height="3.16" fill="none" stroke="#c4c4c4" stroke-width="0.9"/>
<line x1="234.11" y1="59.56" x2="251.55" y2="59.56" stroke="#c4c4c4" stroke-width="1.1"/>
<circle cx="242.83" cy="55.93" r="1.65" fill="#000" fill-opacity="0.13" stroke="#000" stroke-opacity="0.26" stroke-width="0.55"/>
<circle cx="243.83" cy="61.73" r="1.65" fill="#000" fill-opacity="0.13" stroke="#000" stroke-opacity="0.26" stroke-width="0.55"/>
<circle cx="243.24" cy="62.02" r="1.65" fill="#000" fill-opacity="0.13" stroke="#000" stroke-opacity="0.26" stroke-width="0.55"/>
<circle cx="242.22" cy="58.62" r="1.65" fill="#000" fill-opacity="0.13" stroke="#000" stroke-opacity="0.26" stroke-width="0.55"/>
<circle cx="241.35" cy="58.34" r="1.65" fill="#000" fill-opacity="0.13" stroke="#000" stroke-opacity="0.26" stroke-width="0.55"/>
<line x1="173.97" y1="49.53" x2="173.97" y2="93.61" stroke="#e4587a" stroke-width="1.6"/>
<line x1="173.97" y1="49.23" x2="173.97" y2="50.83" stroke="#d7153f" stroke-width="1.7"/>
<line x1="173.97" y1="92.31" x2="173.97" y2="93.91" stroke="#d7153f" stroke-width="1.7"/>
<path d="M169.77,71.41L178.17,71.41M171.00,68.44L176.94,74.38M173.97,67.21L173.97,75.61M176.94,68.44L171.00,74.38" stroke="#e02a50" stroke-width="0.95" fill="none"/>
<circle cx="173.97" cy="71.41" r="1.15" fill="#d7153f"/>
<line x1="196.92" y1="46.61" x2="196.92" y2="86.03" stroke="#e4587a" stroke-width="1.6"/>
<line x1="196.92" y1="46.31" x2="196.92" y2="47.91" stroke="#d7153f" stroke-width="1.7"/>
<line x1="196.92" y1="84.73" x2="196.92" y2="86.33" stroke="#d7153f" stroke-width="1.7"/>
<path d="M192.72,66.44L201.12,66.44M193.95,63.47L199.89,69.41M196.92,62.24L196.92,70.64M199.89,63.47L193.95,69.41" stroke="#e02a50" stroke-width="0.95" fill="none"/>
<circle cx="196.92" cy="66.44" r="1.15" fill="#d7153f"/>
<line x1="219.88" y1="38.23" x2="219.88" y2="81.37" stroke="#e4587a" stroke-width="1.6"/>
<line x1="219.88" y1="37.93" x2="219.88" y2="39.53" stroke="#d7153f" stroke-width="1.7"/>
<line x1="219.88" y1="80.07" x2="219.88" y2="81.67" stroke="#d7153f" stroke-width="1.7"/>
<path d="M215.68,60.04L224.08,60.04M216.91,57.07L222.85,63.01M219.88,55.84L219.88,64.24M222.85,57.07L216.91,63.01" stroke="#e02a50" stroke-width="0.95" fill="none"/>
<circle cx="219.88" cy="60.04" r="1.15" fill="#d7153f"/>
<line x1="242.83" y1="55.77" x2="242.83" y2="63.67" stroke="#e4587a" stroke-width="1.6"/>
<line x1="242.83" y1="55.47" x2="242.83" y2="57.07" stroke="#d7153f" stroke-width="1.7"/>
<line x1="242.83" y1="62.37" x2="242.83" y2="63.97" stroke="#d7153f" stroke-width="1.7"/>
<path d="M238.63,59.56L247.03,59.56M239.86,56.59L245.80,62.53M242.83,55.36L242.83,63.76M245.80,56.59L239.86,62.53" stroke="#e02a50" stroke-width="0.95" fill="none"/>
<circle cx="242.83" cy="59.56" r="1.15" fill="#d7153f"/>
</g>
<rect x="160.20" y="31.50" width="96.40" height="103.90" fill="none" stroke="#eb93a7" stroke-width="1"/>
<text x="292.00" y="13.90" font-size="9.3" fill="#1a1a1a" font-style="italic" textLength="33.10" lengthAdjust="spacingAndGlyphs">NANOG</text>
<line x1="328.10" y1="10.70" x2="335.10" y2="10.70" stroke="#222" stroke-width="0.8"/>
<path d="M332.50,8.20 L335.10,10.70 L332.50,13.20" fill="none" stroke="#222" stroke-width="0.8"/>
<text x="337.60" y="13.90" font-size="9.3" fill="#1a1a1a" font-style="italic" textLength="35.70" lengthAdjust="spacingAndGlyphs">ADGRG1</text>
<text x="292.00" y="27.10" font-size="9" fill="#1a1a1a" textLength="36.50" lengthAdjust="spacingAndGlyphs"><tspan font-style="italic">β</tspan> = 0.524</text>
<text x="275.10" y="83.45" font-size="9" fill="#1a1a1a" text-anchor="middle" textLength="49.80" lengthAdjust="spacingAndGlyphs" transform="rotate(-90 275.10 83.45)">Edge weight</text>
<line x1="289.20" y1="122.20" x2="291.50" y2="122.20" stroke="#333" stroke-width="0.6"/>
<text x="285.90" y="124.90" font-size="7.7" fill="#2a2a2a" text-anchor="end">0</text>
<line x1="289.20" y1="99.00" x2="291.50" y2="99.00" stroke="#333" stroke-width="0.6"/>
<text x="285.90" y="101.70" font-size="7.7" fill="#2a2a2a" text-anchor="end">1</text>
<line x1="289.20" y1="75.80" x2="291.50" y2="75.80" stroke="#333" stroke-width="0.6"/>
<text x="285.90" y="78.50" font-size="7.7" fill="#2a2a2a" text-anchor="end">2</text>
<line x1="289.20" y1="52.60" x2="291.50" y2="52.60" stroke="#333" stroke-width="0.6"/>
<text x="285.90" y="55.30" font-size="7.7" fill="#2a2a2a" text-anchor="end">3</text>
<line x1="305.29" y1="135.40" x2="305.29" y2="137.00" stroke="#333" stroke-width="0.6"/>
<text x="305.29" y="146.40" font-size="7.5" fill="#222" text-anchor="middle">N</text>
<line x1="328.26" y1="135.40" x2="328.26" y2="137.00" stroke="#333" stroke-width="0.6"/>
<text x="328.26" y="146.40" font-size="7.5" fill="#222" text-anchor="middle">B</text>
<line x1="351.24" y1="135.40" x2="351.24" y2="137.00" stroke="#333" stroke-width="0.6"/>
<text x="351.24" y="146.40" font-size="7.5" fill="#222" text-anchor="middle">C</text>
<line x1="374.21" y1="135.40" x2="374.21" y2="137.00" stroke="#333" stroke-width="0.6"/>
<text x="374.21" y="146.40" font-size="7.5" fill="#222" text-anchor="middle">M</text>
<text x="339.75" y="157.70" font-size="9.4" fill="#222" text-anchor="middle" textLength="53.30" lengthAdjust="spacingAndGlyphs">Tumor region</text>
<clipPath id="c3"><rect x="291.5" y="31.5" width="96.5" height="103.9"/></clipPath>
<g clip-path="url(#c3)">
<line x1="305.29" y1="86.01" x2="305.29" y2="54.46" stroke="#c4c4c4" stroke-width="0.8"/>
<rect x="296.55" y="86.01" width="17.46" height="36.19" fill="none" stroke="#c4c4c4" stroke-width="0.9"/>
<line x1="296.55" y1="122.20" x2="314.02" y2="122.20" stroke="#c4c4c4" stroke-width="1.1"/>
<circle cx="307.09" cy="54.46" r="1.65" fill="#000" fill-opacity="0.13" stroke="#000" stroke-opacity="0.26" stroke-width="0.55"/>
<circle cx="305.49" cy="70.93" r="1.65" fill="#000" fill-opacity="0.13" stroke="#000" stroke-opacity="0.26" stroke-width="0.55"/>
<circle cx="304.99" cy="74.64" r="1.65" fill="#000" fill-opacity="0.13" stroke="#000" stroke-opacity="0.26" stroke-width="0.55"/>
<circle cx="303.99" cy="79.28" r="1.65" fill="#000" fill-opacity="0.13" stroke="#000" stroke-opacity="0.26" stroke-width="0.55"/>
<circle cx="306.09" cy="80.44" r="1.65" fill="#000" fill-opacity="0.13" stroke="#000" stroke-opacity="0.26" stroke-width="0.55"/>
<circle cx="306.25" cy="83.01" r="1.65" fill="#000" fill-opacity="0.13" stroke="#000" stroke-opacity="0.26" stroke-width="0.55"/>
<circle cx="303.94" cy="83.65" r="1.65" fill="#000" fill-opacity="0.13" stroke="#000" stroke-opacity="0.26" stroke-width="0.55"/>
<circle cx="306.65" cy="83.05" r="1.65" fill="#000" fill-opacity="0.13" stroke="#000" stroke-opacity="0.26" stroke-width="0.55"/>
<circle cx="305.97" cy="85.79" r="1.65" fill="#000" fill-opacity="0.13" stroke="#000" stroke-opacity="0.26" stroke-width="0.55"/>
<circle cx="304.25" cy="122.13" r="1.65" fill="#000" fill-opacity="0.13" stroke="#000" stroke-opacity="0.26" stroke-width="0.55"/>
<circle cx="305.12" cy="122.14" r="1.65" fill="#000" fill-opacity="0.13" stroke="#000" stroke-opacity="0.26" stroke-width="0.55"/>
<circle cx="305.07" cy="122.10" r="1.65" fill="#000" fill-opacity="0.13" stroke="#000" stroke-opacity="0.26" stroke-width="0.55"/>
<circle cx="307.13" cy="122.13" r="1.65" fill="#000" fill-opacity="0.13" stroke="#000" stroke-opacity="0.26" stroke-width="0.55"/>
<circle cx="305.47" cy="122.34" r="1.65" fill="#000" fill-opacity="0.13" stroke="#000" stroke-opacity="0.26" stroke-width="0.55"/>
<circle cx="307.15" cy="122.12" r="1.65" fill="#000" fill-opacity="0.13" stroke="#000" stroke-opacity="0.26" stroke-width="0.55"/>
<circle cx="304.71" cy="122.14" r="1.65" fill="#000" fill-opacity="0.13" stroke="#000" stroke-opacity="0.26" stroke-width="0.55"/>
<circle cx="304.81" cy="122.05" r="1.65" fill="#000" fill-opacity="0.13" stroke="#000" stroke-opacity="0.26" stroke-width="0.55"/>
<circle cx="305.30" cy="122.19" r="1.65" fill="#000" fill-opacity="0.13" stroke="#000" stroke-opacity="0.26" stroke-width="0.55"/>
<circle cx="305.30" cy="122.11" r="1.65" fill="#000" fill-opacity="0.13" stroke="#000" stroke-opacity="0.26" stroke-width="0.55"/>
<circle cx="304.34" cy="122.05" r="1.65" fill="#000" fill-opacity="0.13" stroke="#000" stroke-opacity="0.26" stroke-width="0.55"/>
<circle cx="304.88" cy="122.08" r="1.65" fill="#000" fill-opacity="0.13" stroke="#000" stroke-opacity="0.26" stroke-width="0.55"/>
<circle cx="303.38" cy="122.06" r="1.65" fill="#000" fill-opacity="0.13" stroke="#000" stroke-opacity="0.26" stroke-width="0.55"/>
<circle cx="304.22" cy="122.14" r="1.65" fill="#000" fill-opacity="0.13" stroke="#000" stroke-opacity="0.26" stroke-width="0.55"/>
<circle cx="305.40" cy="122.23" r="1.65" fill="#000" fill-opacity="0.13" stroke="#000" stroke-opacity="0.26" stroke-width="0.55"/>
<circle cx="305.92" cy="122.28" r="1.65" fill="#000" fill-opacity="0.13" stroke="#000" stroke-opacity="0.26" stroke-width="0.55"/>
<circle cx="306.80" cy="122.26" r="1.65" fill="#000" fill-opacity="0.13" stroke="#000" stroke-opacity="0.26" stroke-width="0.55"/>
<circle cx="304.59" cy="122.17" r="1.65" fill="#000" fill-opacity="0.13" stroke="#000" stroke-opacity="0.26" stroke-width="0.55"/>
<circle cx="303.88" cy="122.35" r="1.65" fill="#000" fill-opacity="0.13" stroke="#000" stroke-opacity="0.26" stroke-width="0.55"/>
<circle cx="305.86" cy="122.27" r="1.65" fill="#000" fill-opacity="0.13" stroke="#000" stroke-opacity="0.26" stroke-width="0.55"/>
<circle cx="306.63" cy="122.06" r="1.65" fill="#000" fill-opacity="0.13" stroke="#000" stroke-opacity="0.26" stroke-width="0.55"/>
<circle cx="305.80" cy="122.32" r="1.65" fill="#000" fill-opacity="0.13" stroke="#000" stroke-opacity="0.26" stroke-width="0.55"/>
<rect x="319.53" y="85.08" width="17.46" height="4.87" fill="none" stroke="#c4c4c4" stroke-width="0.9"/>
<line x1="319.53" y1="88.10" x2="336.99" y2="88.10" stroke="#c4c4c4" stroke-width="1.1"/>
<circle cx="326.76" cy="72.78" r="1.65" fill="#000" fill-opacity="0.13" stroke="#000" stroke-opacity="0.26" stroke-width="0.55"/>
<circle cx="329.51" cy="89.03" r="1.65" fill="#000" fill-opacity="0.13" stroke="#000" stroke-opacity="0.26" stroke-width="0.55"/>
<circle cx="328.36" cy="84.89" r="1.65" fill="#000" fill-opacity="0.13" stroke="#000" stroke-opacity="0.26" stroke-width="0.55"/>
<circle cx="329.60" cy="87.43" r="1.65" fill="#000" fill-opacity="0.13" stroke="#000" stroke-opacity="0.26" stroke-width="0.55"/>
<circle cx="329.57" cy="89.52" r="1.65" fill="#000" fill-opacity="0.13" stroke="#000" stroke-opacity="0.26" stroke-width="0.55"/>
<circle cx="329.76" cy="93.66" r="1.65" fill="#000" fill-opacity="0.13" stroke="#000" stroke-opacity="0.26" stroke-width="0.55"/>
<rect x="342.51" y="75.34" width="17.46" height="16.94" fill="none" stroke="#c4c4c4" stroke-width="0.9"/>
<line x1="342.51" y1="87.63" x2="359.97" y2="87.63" stroke="#c4c4c4" stroke-width="1.1"/>
<circle cx="350.74" cy="35.43" r="1.65" fill="#000" fill-opacity="0.13" stroke="#000" stroke-opacity="0.26" stroke-width="0.55"/>
<circle cx="352.74" cy="37.52" r="1.65" fill="#000" fill-opacity="0.13" stroke="#000" stroke-opacity="0.26" stroke-width="0.55"/>
<circle cx="348.74" cy="43.32" r="1.65" fill="#000" fill-opacity="0.13" stroke="#000" stroke-opacity="0.26" stroke-width="0.55"/>
<circle cx="352.81" cy="64.98" r="1.65" fill="#000" fill-opacity="0.13" stroke="#000" stroke-opacity="0.26" stroke-width="0.55"/>
<circle cx="352.01" cy="66.45" r="1.65" fill="#000" fill-opacity="0.13" stroke="#000" stroke-opacity="0.26" stroke-width="0.55"/>
<circle cx="349.36" cy="59.73" r="1.65" fill="#000" fill-opacity="0.13" stroke="#000" stroke-opacity="0.26" stroke-width="0.55"/>
<circle cx="350.68" cy="58.29" r="1.65" fill="#000" fill-opacity="0.13" stroke="#000" stroke-opacity="0.26" stroke-width="0.55"/>
<circle cx="352.58" cy="57.87" r="1.65" fill="#000" fill-opacity="0.13" stroke="#000" stroke-opacity="0.26" stroke-width="0.55"/>
<circle cx="351.75" cy="64.61" r="1.65" fill="#000" fill-opacity="0.13" stroke="#000" stroke-opacity="0.26" stroke-width="0.55"/>
<circle cx="351.96" cy="65.61" r="1.65" fill="#000" fill-opacity="0.13" stroke="#000" stroke-opacity="0.26" stroke-width="0.55"/>
<circle cx="348.85" cy="79.11" r="1.65" fill="#000" fill-opacity="0.13" stroke="#000" stroke-opacity="0.26" stroke-width="0.55"/>
<circle cx="352.43" cy="84.11" r="1.65" fill="#000" fill-opacity="0.13" stroke="#000" stroke-opacity="0.26" stroke-width="0.55"/>
<circle cx="351.41" cy="79.33" r="1.65" fill="#000" fill-opacity="0.13" stroke="#000" stroke-opacity="0.26" stroke-width="0.55"/>
<circle cx="349.16" cy="81.87" r="1.65" fill="#000" fill-opacity="0.13" stroke="#000" stroke-opacity="0.26" stroke-width="0.55"/>
<circle cx="350.05" cy="83.13" r="1.65" fill="#000" fill-opacity="0.13" stroke="#000" stroke-opacity="0.26" stroke-width="0.55"/>
<circle cx="350.11" cy="72.37" r="1.65" fill="#000" fill-opacity="0.13" stroke="#000" stroke-opacity="0.26" stroke-width="0.55"/>
<circle cx="349.82" cy="83.00" r="1.65" fill="#000" fill-opacity="0.13" stroke="#000" stroke-opacity="0.26" stroke-width="0.55"/>
<circle cx="353.52" cy="83.17" r="1.65" fill="#000" fill-opacity="0.13" stroke="#000" stroke-opacity="0.26" stroke-width="0.55"/>
<circle cx="350.67" cy="79.18" r="1.65" fill="#000" fill-opacity="0.13" stroke="#000" stroke-opacity="0.26" stroke-width="0.55"/>
<circle cx="352.12" cy="78.94" r="1.65" fill="#000" fill-opacity="0.13" stroke="#000" stroke-opacity="0.26" stroke-width="0.55"/>
<circle cx="351.80" cy="83.62" r="1.65" fill="#000" fill-opacity="0.13" stroke="#000" stroke-opacity="0.26" stroke-width="0.55"/>
<circle cx="349.21" cy="81.60" r="1.65" fill="#000" fill-opacity="0.13" stroke="#000" stroke-opacity="0.26" stroke-width="0.55"/>
<circle cx="350.06" cy="73.55" r="1.65" fill="#000" fill-opacity="0.13" stroke="#000" stroke-opacity="0.26" stroke-width="0.55"/>
<circle cx="350.30" cy="83.23" r="1.65" fill="#000" fill-opacity="0.13" stroke="#000" stroke-opacity="0.26" stroke-width="0.55"/>
<circle cx="348.90" cy="80.38" r="1.65" fill="#000" fill-opacity="0.13" stroke="#000" stroke-opacity="0.26" stroke-width="0.55"/>
<circle cx="350.13" cy="72.15" r="1.65" fill="#000" fill-opacity="0.13" stroke="#000" stroke-opacity="0.26" stroke-width="0.55"/>
<circle cx="352.16" cy="82.07" r="1.65" fill="#000" fill-opacity="0.13" stroke="#000" stroke-opacity="0.26" stroke-width="0.55"/>
<circle cx="350.23" cy="82.13" r="1.65" fill="#000" fill-opacity="0.13" stroke="#000" stroke-opacity="0.26" stroke-width="0.55"/>
<circle cx="351.07" cy="79.55" r="1.65" fill="#000" fill-opacity="0.13" stroke="#000" stroke-opacity="0.26" stroke-width="0.55"/>
<circle cx="349.41" cy="78.73" r="1.65" fill="#000" fill-opacity="0.13" stroke="#000" stroke-opacity="0.26" stroke-width="0.55"/>
<circle cx="349.79" cy="85.67" r="1.65" fill="#000" fill-opacity="0.13" stroke="#000" stroke-opacity="0.26" stroke-width="0.55"/>
<circle cx="353.33" cy="87.04" r="1.65" fill="#000" fill-opacity="0.13" stroke="#000" stroke-opacity="0.26" stroke-width="0.55"/>
<circle cx="351.04" cy="87.64" r="1.65" fill="#000" fill-opacity="0.13" stroke="#000" stroke-opacity="0.26" stroke-width="0.55"/>
<circle cx="353.49" cy="98.43" r="1.65" fill="#000" fill-opacity="0.13" stroke="#000" stroke-opacity="0.26" stroke-width="0.55"/>
<circle cx="350.13" cy="93.45" r="1.65" fill="#000" fill-opacity="0.13" stroke="#000" stroke-opacity="0.26" stroke-width="0.55"/>
<circle cx="353.38" cy="90.22" r="1.65" fill="#000" fill-opacity="0.13" stroke="#000" stroke-opacity="0.26" stroke-width="0.55"/>
<circle cx="351.63" cy="90.24" r="1.65" fill="#000" fill-opacity="0.13" stroke="#000" stroke-opacity="0.26" stroke-width="0.55"/>
<circle cx="351.35" cy="89.31" r="1.65" fill="#000" fill-opacity="0.13" stroke="#000" stroke-opacity="0.26" stroke-width="0.55"/>
<circle cx="349.47" cy="100.22" r="1.65" fill="#000" fill-opacity="0.13" stroke="#000" stroke-opacity="0.26" stroke-width="0.55"/>
<circle cx="351.28" cy="98.44" r="1.65" fill="#000" fill-opacity="0.13" stroke="#000" stroke-opacity="0.26" stroke-width="0.55"/>
<circle cx="352.21" cy="99.33" r="1.65" fill="#000" fill-opacity="0.13" stroke="#000" stroke-opacity="0.26" stroke-width="0.55"/>
<circle cx="353.15" cy="90.51" r="1.65" fill="#000" fill-opacity="0.13" stroke="#000" stroke-opacity="0.26" stroke-width="0.55"/>
<circle cx="348.96" cy="93.94" r="1.65" fill="#000" fill-opacity="0.13" stroke="#000" stroke-opacity="0.26" stroke-width="0.55"/>
<circle cx="351.20" cy="87.45" r="1.65" fill="#000" fill-opacity="0.13" stroke="#000" stroke-opacity="0.26" stroke-width="0.55"/>
<circle cx="350.29" cy="93.47" r="1.65" fill="#000" fill-opacity="0.13" stroke="#000" stroke-opacity="0.26" stroke-width="0.55"/>
<circle cx="350.49" cy="89.29" r="1.65" fill="#000" fill-opacity="0.13" stroke="#000" stroke-opacity="0.26" stroke-width="0.55"/>
<circle cx="352.87" cy="91.65" r="1.65" fill="#000" fill-opacity="0.13" stroke="#000" stroke-opacity="0.26" stroke-width="0.55"/>
<circle cx="352.44" cy="87.42" r="1.65" fill="#000" fill-opacity="0.13" stroke="#000" stroke-opacity="0.26" stroke-width="0.55"/>
<circle cx="349.41" cy="98.69" r="1.65" fill="#000" fill-opacity="0.13" stroke="#000" stroke-opacity="0.26" stroke-width="0.55"/>
<circle cx="352.26" cy="99.87" r="1.65" fill="#000" fill-opacity="0.13" stroke="#000" stroke-opacity="0.26" stroke-width="0.55"/>
<circle cx="350.23" cy="99.53" r="1.65" fill="#000" fill-opacity="0.13" stroke="#000" stroke-opacity="0.26" stroke-width="0.55"/>
<circle cx="350.72" cy="92.41" r="1.65" fill="#000" fill-opacity="0.13" stroke="#000" stroke-opacity="0.26" stroke-width="0.55"/>
<circle cx="351.45" cy="122.35" r="1.65" fill="#000" fill-opacity="0.13" stroke="#000" stroke-opacity="0.26" stroke-width="0.55"/>
<circle cx="351.07" cy="122.16" r="1.65" fill="#000" fill-opacity="0.13" stroke="#000" stroke-opacity="0.26" stroke-width="0.55"/>
<circle cx="350.15" cy="122.13" r="1.65" fill="#000" fill-opacity="0.13" stroke="#000" stroke-opacity="0.26" stroke-width="0.55"/>
<circle cx="352.04" cy="122.08" r="1.65" fill="#000" fill-opacity="0.13" stroke="#000" stroke-opacity="0.26" stroke-width="0.55"/>
<circle cx="352.28" cy="122.14" r="1.65" fill="#000" fill-opacity="0.13" stroke="#000" stroke-opacity="0.26" stroke-width="0.55"/>
<circle cx="350.68" cy="122.12" r="1.65" fill="#000" fill-opacity="0.13" stroke="#000" stroke-opacity="0.26" stroke-width="0.55"/>
<circle cx="350.49" cy="122.20" r="1.65" fill="#000" fill-opacity="0.13" stroke="#000" stroke-opacity="0.26" stroke-width="0.55"/>
<circle cx="352.33" cy="122.16" r="1.65" fill="#000" fill-opacity="0.13" stroke="#000" stroke-opacity="0.26" stroke-width="0.55"/>
<circle cx="351.99" cy="122.32" r="1.65" fill="#000" fill-opacity="0.13" stroke="#000" stroke-opacity="0.26" stroke-width="0.55"/>
<circle cx="352.23" cy="122.24" r="1.65" fill="#000" fill-opacity="0.13" stroke="#000" stroke-opacity="0.26" stroke-width="0.55"/>
<rect x="365.48" y="79.05" width="17.46" height="4.64" fill="none" stroke="#c4c4c4" stroke-width="0.9"/>
<line x1="365.48" y1="82.30" x2="382.95" y2="82.30" stroke="#c4c4c4" stroke-width="1.1"/>
<circle cx="373.91" cy="72.55" r="1.65" fill="#000" fill-opacity="0.13" stroke="#000" stroke-opacity="0.26" stroke-width="0.55"/>
<circle cx="374.41" cy="82.62" r="1.65" fill="#000" fill-opacity="0.13" stroke="#000" stroke-opacity="0.26" stroke-width="0.55"/>
<circle cx="372.41" cy="82.11" r="1.65" fill="#000" fill-opacity="0.13" stroke="#000" stroke-opacity="0.26" stroke-width="0.55"/>
<line x1="305.29" y1="89.49" x2="305.29" y2="130.32" stroke="#e4587a" stroke-width="1.6"/>
<line x1="305.29" y1="89.19" x2="305.29" y2="90.79" stroke="#d7153f" stroke-width="1.7"/>
<line x1="305.29" y1="129.02" x2="305.29" y2="130.62" stroke="#d7153f" stroke-width="1.7"/>
<path d="M301.09,109.90L309.49,109.90M302.32,106.93L308.26,112.87M305.29,105.70L305.29,114.10M308.26,106.93L302.32,112.87" stroke="#e02a50" stroke-width="0.9" fill="none"/>
<circle cx="305.29" cy="109.90" r="1.6" fill="#fff" fill-opacity="0.55"/>
<line x1="328.26" y1="80.21" x2="328.26" y2="93.20" stroke="#e4587a" stroke-width="1.6"/>
<line x1="328.26" y1="79.91" x2="328.26" y2="81.51" stroke="#d7153f" stroke-width="1.7"/>
<line x1="328.26" y1="91.90" x2="328.26" y2="93.50" stroke="#d7153f" stroke-width="1.7"/>
<path d="M324.06,86.47L332.46,86.47M325.29,83.50L331.23,89.44M328.26,82.27L328.26,90.67M331.23,83.50L325.29,89.44" stroke="#e02a50" stroke-width="0.95" fill="none"/>
<circle cx="328.26" cy="86.47" r="1.15" fill="#d7153f"/>
<line x1="351.24" y1="65.59" x2="351.24" y2="102.48" stroke="#e4587a" stroke-width="1.6"/>
<line x1="351.24" y1="65.29" x2="351.24" y2="66.89" stroke="#d7153f" stroke-width="1.7"/>
<line x1="351.24" y1="101.18" x2="351.24" y2="102.78" stroke="#d7153f" stroke-width="1.7"/>
<path d="M347.04,83.92L355.44,83.92M348.27,80.95L354.21,86.89M351.24,79.72L351.24,88.12M354.21,80.95L348.27,86.89" stroke="#e02a50" stroke-width="0.95" fill="none"/>
<circle cx="351.24" cy="83.92" r="1.15" fill="#d7153f"/>
<line x1="374.21" y1="74.64" x2="374.21" y2="86.24" stroke="#e4587a" stroke-width="1.6"/>
<line x1="374.21" y1="74.34" x2="374.21" y2="75.94" stroke="#d7153f" stroke-width="1.7"/>
<line x1="374.21" y1="84.94" x2="374.21" y2="86.54" stroke="#d7153f" stroke-width="1.7"/>
<path d="M370.01,80.67L378.41,80.67M371.24,77.70L377.18,83.64M374.21,76.47L374.21,84.87M377.18,77.70L371.24,83.64" stroke="#e02a50" stroke-width="0.95" fill="none"/>
<circle cx="374.21" cy="80.67" r="1.15" fill="#d7153f"/>
</g>
<rect x="291.50" y="31.50" width="96.50" height="103.90" fill="none" stroke="#eb93a7" stroke-width="1"/>
<text x="27.60" y="175.60" font-size="9.3" fill="#1a1a1a" font-style="italic" textLength="22.30" lengthAdjust="spacingAndGlyphs">PAX6</text>
<line x1="52.80" y1="172.40" x2="58.70" y2="172.40" stroke="#222" stroke-width="0.8"/>
<path d="M56.10,170.00 L58.70,172.40 L56.10,174.80" fill="none" stroke="#222" stroke-width="0.8"/>
<line x1="59.60" y1="169.60" x2="59.60" y2="175.20" stroke="#222" stroke-width="0.9"/>
<text x="62.30" y="175.60" font-size="9.3" fill="#1a1a1a" font-style="italic" textLength="30.30" lengthAdjust="spacingAndGlyphs">HDAC2</text>
<text x="27.60" y="188.80" font-size="9" fill="#1a1a1a" textLength="39.40" lengthAdjust="spacingAndGlyphs"><tspan font-style="italic">β</tspan> = -0.321</text>
<text x="9.30" y="245.55" font-size="9" fill="#1a1a1a" text-anchor="middle" textLength="49.80" lengthAdjust="spacingAndGlyphs" transform="rotate(-90 9.30 245.55)">Edge weight</text>
<line x1="25.10" y1="266.70" x2="27.40" y2="266.70" stroke="#333" stroke-width="0.6"/>
<text x="21.80" y="269.40" font-size="7.7" fill="#2a2a2a" text-anchor="end">-2</text>
<line x1="25.10" y1="232.55" x2="27.40" y2="232.55" stroke="#333" stroke-width="0.6"/>
<text x="21.80" y="235.25" font-size="7.7" fill="#2a2a2a" text-anchor="end">-1</text>
<line x1="25.10" y1="198.40" x2="27.40" y2="198.40" stroke="#333" stroke-width="0.6"/>
<text x="21.80" y="201.10" font-size="7.7" fill="#2a2a2a" text-anchor="end">0</text>
<line x1="41.07" y1="297.50" x2="41.07" y2="299.10" stroke="#333" stroke-width="0.6"/>
<text x="41.07" y="308.50" font-size="7.5" fill="#222" text-anchor="middle">N</text>
<line x1="63.86" y1="297.50" x2="63.86" y2="299.10" stroke="#333" stroke-width="0.6"/>
<text x="63.86" y="308.50" font-size="7.5" fill="#222" text-anchor="middle">B</text>
<line x1="86.64" y1="297.50" x2="86.64" y2="299.10" stroke="#333" stroke-width="0.6"/>
<text x="86.64" y="308.50" font-size="7.5" fill="#222" text-anchor="middle">C</text>
<line x1="109.43" y1="297.50" x2="109.43" y2="299.10" stroke="#333" stroke-width="0.6"/>
<text x="109.43" y="308.50" font-size="7.5" fill="#222" text-anchor="middle">M</text>
<text x="75.25" y="320.80" font-size="9.4" fill="#222" text-anchor="middle" textLength="53.30" lengthAdjust="spacingAndGlyphs">Tumor region</text>
<clipPath id="c4"><rect x="27.4" y="193.6" width="95.69999999999999" height="103.9"/></clipPath>
<g clip-path="url(#c4)">
<line x1="41.07" y1="213.43" x2="41.07" y2="198.40" stroke="#c4c4c4" stroke-width="0.8"/>
<rect x="32.41" y="213.43" width="17.32" height="55.66" fill="none" stroke="#c4c4c4" stroke-width="0.9"/>
<line x1="32.41" y1="262.60" x2="49.73" y2="262.60" stroke="#c4c4c4" stroke-width="1.1"/>
<circle cx="40.82" cy="198.47" r="1.65" fill="#000" fill-opacity="0.13" stroke="#000" stroke-opacity="0.26" stroke-width="0.55"/>
<circle cx="41.82" cy="198.48" r="1.65" fill="#000" fill-opacity="0.13" stroke="#000" stroke-opacity="0.26" stroke-width="0.55"/>
<circle cx="38.73" cy="198.34" r="1.65" fill="#000" fill-opacity="0.13" stroke="#000" stroke-opacity="0.26" stroke-width="0.55"/>
<circle cx="39.13" cy="198.53" r="1.65" fill="#000" fill-opacity="0.13" stroke="#000" stroke-opacity="0.26" stroke-width="0.55"/>
<circle cx="40.26" cy="198.39" r="1.65" fill="#000" fill-opacity="0.13" stroke="#000" stroke-opacity="0.26" stroke-width="0.55"/>
<circle cx="42.31" cy="198.34" r="1.65" fill="#000" fill-opacity="0.13" stroke="#000" stroke-opacity="0.26" stroke-width="0.55"/>
<circle cx="40.30" cy="255.24" r="1.65" fill="#000" fill-opacity="0.13" stroke="#000" stroke-opacity="0.26" stroke-width="0.55"/>
<circle cx="40.43" cy="257.32" r="1.65" fill="#000" fill-opacity="0.13" stroke="#000" stroke-opacity="0.26" stroke-width="0.55"/>
<circle cx="40.73" cy="257.96" r="1.65" fill="#000" fill-opacity="0.13" stroke="#000" stroke-opacity="0.26" stroke-width="0.55"/>
<circle cx="39.99" cy="260.49" r="1.65" fill="#000" fill-opacity="0.13" stroke="#000" stroke-opacity="0.26" stroke-width="0.55"/>
<circle cx="42.37" cy="260.23" r="1.65" fill="#000" fill-opacity="0.13" stroke="#000" stroke-opacity="0.26" stroke-width="0.55"/>
<circle cx="40.12" cy="266.73" r="1.65" fill="#000" fill-opacity="0.13" stroke="#000" stroke-opacity="0.26" stroke-width="0.55"/>
<circle cx="42.76" cy="262.54" r="1.65" fill="#000" fill-opacity="0.13" stroke="#000" stroke-opacity="0.26" stroke-width="0.55"/>
<circle cx="39.85" cy="267.21" r="1.65" fill="#000" fill-opacity="0.13" stroke="#000" stroke-opacity="0.26" stroke-width="0.55"/>
<circle cx="39.68" cy="269.85" r="1.65" fill="#000" fill-opacity="0.13" stroke="#000" stroke-opacity="0.26" stroke-width="0.55"/>
<circle cx="39.68" cy="268.32" r="1.65" fill="#000" fill-opacity="0.13" stroke="#000" stroke-opacity="0.26" stroke-width="0.55"/>
<circle cx="40.25" cy="269.37" r="1.65" fill="#000" fill-opacity="0.13" stroke="#000" stroke-opacity="0.26" stroke-width="0.55"/>
<circle cx="42.39" cy="265.99" r="1.65" fill="#000" fill-opacity="0.13" stroke="#000" stroke-opacity="0.26" stroke-width="0.55"/>
<circle cx="40.77" cy="264.14" r="1.65" fill="#000" fill-opacity="0.13" stroke="#000" stroke-opacity="0.26" stroke-width="0.55"/>
<circle cx="41.15" cy="267.58" r="1.65" fill="#000" fill-opacity="0.13" stroke="#000" stroke-opacity="0.26" stroke-width="0.55"/>
<circle cx="40.52" cy="267.96" r="1.65" fill="#000" fill-opacity="0.13" stroke="#000" stroke-opacity="0.26" stroke-width="0.55"/>
<circle cx="40.31" cy="271.19" r="1.65" fill="#000" fill-opacity="0.13" stroke="#000" stroke-opacity="0.26" stroke-width="0.55"/>
<circle cx="39.80" cy="261.91" r="1.65" fill="#000" fill-opacity="0.13" stroke="#000" stroke-opacity="0.26" stroke-width="0.55"/>
<circle cx="41.51" cy="266.67" r="1.65" fill="#000" fill-opacity="0.13" stroke="#000" stroke-opacity="0.26" stroke-width="0.55"/>
<circle cx="40.11" cy="262.98" r="1.65" fill="#000" fill-opacity="0.13" stroke="#000" stroke-opacity="0.26" stroke-width="0.55"/>
<circle cx="40.32" cy="279.04" r="1.65" fill="#000" fill-opacity="0.13" stroke="#000" stroke-opacity="0.26" stroke-width="0.55"/>
<circle cx="40.91" cy="277.77" r="1.65" fill="#000" fill-opacity="0.13" stroke="#000" stroke-opacity="0.26" stroke-width="0.55"/>
<circle cx="42.12" cy="272.28" r="1.65" fill="#000" fill-opacity="0.13" stroke="#000" stroke-opacity="0.26" stroke-width="0.55"/>
<circle cx="39.64" cy="273.08" r="1.65" fill="#000" fill-opacity="0.13" stroke="#000" stroke-opacity="0.26" stroke-width="0.55"/>
<circle cx="41.70" cy="281.41" r="1.65" fill="#000" fill-opacity="0.13" stroke="#000" stroke-opacity="0.26" stroke-width="0.55"/>
<circle cx="40.99" cy="272.86" r="1.65" fill="#000" fill-opacity="0.13" stroke="#000" stroke-opacity="0.26" stroke-width="0.55"/>
<rect x="55.20" y="258.16" width="17.32" height="7.17" fill="none" stroke="#c4c4c4" stroke-width="0.9"/>
<line x1="55.20" y1="263.97" x2="72.52" y2="263.97" stroke="#c4c4c4" stroke-width="1.1"/>
<circle cx="64.46" cy="250.31" r="1.65" fill="#000" fill-opacity="0.13" stroke="#000" stroke-opacity="0.26" stroke-width="0.55"/>
<circle cx="63.86" cy="278.31" r="1.65" fill="#000" fill-opacity="0.13" stroke="#000" stroke-opacity="0.26" stroke-width="0.55"/>
<circle cx="61.86" cy="260.98" r="1.65" fill="#000" fill-opacity="0.13" stroke="#000" stroke-opacity="0.26" stroke-width="0.55"/>
<circle cx="65.56" cy="262.32" r="1.65" fill="#000" fill-opacity="0.13" stroke="#000" stroke-opacity="0.26" stroke-width="0.55"/>
<circle cx="65.28" cy="259.35" r="1.65" fill="#000" fill-opacity="0.13" stroke="#000" stroke-opacity="0.26" stroke-width="0.55"/>
<rect x="77.98" y="266.36" width="17.32" height="12.98" fill="none" stroke="#c4c4c4" stroke-width="0.9"/>
<line x1="77.98" y1="272.85" x2="95.30" y2="272.85" stroke="#c4c4c4" stroke-width="1.1"/>
<circle cx="84.34" cy="198.40" r="1.65" fill="#000" fill-opacity="0.13" stroke="#000" stroke-opacity="0.26" stroke-width="0.55"/>
<circle cx="87.84" cy="198.40" r="1.65" fill="#000" fill-opacity="0.13" stroke="#000" stroke-opacity="0.26" stroke-width="0.55"/>
<circle cx="86.64" cy="250.31" r="1.65" fill="#000" fill-opacity="0.13" stroke="#000" stroke-opacity="0.26" stroke-width="0.55"/>
<circle cx="85.49" cy="253.37" r="1.65" fill="#000" fill-opacity="0.13" stroke="#000" stroke-opacity="0.26" stroke-width="0.55"/>
<circle cx="85.05" cy="263.69" r="1.65" fill="#000" fill-opacity="0.13" stroke="#000" stroke-opacity="0.26" stroke-width="0.55"/>
<circle cx="87.48" cy="258.75" r="1.65" fill="#000" fill-opacity="0.13" stroke="#000" stroke-opacity="0.26" stroke-width="0.55"/>
<circle cx="87.66" cy="253.74" r="1.65" fill="#000" fill-opacity="0.13" stroke="#000" stroke-opacity="0.26" stroke-width="0.55"/>
<circle cx="87.86" cy="257.26" r="1.65" fill="#000" fill-opacity="0.13" stroke="#000" stroke-opacity="0.26" stroke-width="0.55"/>
<circle cx="86.88" cy="259.53" r="1.65" fill="#000" fill-opacity="0.13" stroke="#000" stroke-opacity="0.26" stroke-width="0.55"/>
<circle cx="87.94" cy="264.52" r="1.65" fill="#000" fill-opacity="0.13" stroke="#000" stroke-opacity="0.26" stroke-width="0.55"/>
<circle cx="88.57" cy="262.21" r="1.65" fill="#000" fill-opacity="0.13" stroke="#000" stroke-opacity="0.26" stroke-width="0.55"/>
<circle cx="85.74" cy="257.28" r="1.65" fill="#000" fill-opacity="0.13" stroke="#000" stroke-opacity="0.26" stroke-width="0.55"/>
<circle cx="85.50" cy="281.37" r="1.65" fill="#000" fill-opacity="0.13" stroke="#000" stroke-opacity="0.26" stroke-width="0.55"/>
<circle cx="87.56" cy="271.82" r="1.65" fill="#000" fill-opacity="0.13" stroke="#000" stroke-opacity="0.26" stroke-width="0.55"/>
<circle cx="84.67" cy="281.67" r="1.65" fill="#000" fill-opacity="0.13" stroke="#000" stroke-opacity="0.26" stroke-width="0.55"/>
<circle cx="87.02" cy="273.92" r="1.65" fill="#000" fill-opacity="0.13" stroke="#000" stroke-opacity="0.26" stroke-width="0.55"/>
<circle cx="85.37" cy="276.49" r="1.65" fill="#000" fill-opacity="0.13" stroke="#000" stroke-opacity="0.26" stroke-width="0.55"/>
<circle cx="84.39" cy="272.49" r="1.65" fill="#000" fill-opacity="0.13" stroke="#000" stroke-opacity="0.26" stroke-width="0.55"/>
<circle cx="86.46" cy="278.11" r="1.65" fill="#000" fill-opacity="0.13" stroke="#000" stroke-opacity="0.26" stroke-width="0.55"/>
<circle cx="87.31" cy="265.76" r="1.65" fill="#000" fill-opacity="0.13" stroke="#000" stroke-opacity="0.26" stroke-width="0.55"/>
<circle cx="86.53" cy="267.18" r="1.65" fill="#000" fill-opacity="0.13" stroke="#000" stroke-opacity="0.26" stroke-width="0.55"/>
<circle cx="85.48" cy="279.37" r="1.65" fill="#000" fill-opacity="0.13" stroke="#000" stroke-opacity="0.26" stroke-width="0.55"/>
<circle cx="87.58" cy="265.73" r="1.65" fill="#000" fill-opacity="0.13" stroke="#000" stroke-opacity="0.26" stroke-width="0.55"/>
<circle cx="84.44" cy="278.00" r="1.65" fill="#000" fill-opacity="0.13" stroke="#000" stroke-opacity="0.26" stroke-width="0.55"/>
<circle cx="87.45" cy="274.42" r="1.65" fill="#000" fill-opacity="0.13" stroke="#000" stroke-opacity="0.26" stroke-width="0.55"/>
<circle cx="85.53" cy="275.89" r="1.65" fill="#000" fill-opacity="0.13" stroke="#000" stroke-opacity="0.26" stroke-width="0.55"/>
<circle cx="88.60" cy="271.24" r="1.65" fill="#000" fill-opacity="0.13" stroke="#000" stroke-opacity="0.26" stroke-width="0.55"/>
<circle cx="84.50" cy="279.52" r="1.65" fill="#000" fill-opacity="0.13" stroke="#000" stroke-opacity="0.26" stroke-width="0.55"/>
<circle cx="86.28" cy="277.43" r="1.65" fill="#000" fill-opacity="0.13" stroke="#000" stroke-opacity="0.26" stroke-width="0.55"/>
<circle cx="85.25" cy="270.95" r="1.65" fill="#000" fill-opacity="0.13" stroke="#000" stroke-opacity="0.26" stroke-width="0.55"/>
<circle cx="87.74" cy="268.80" r="1.65" fill="#000" fill-opacity="0.13" stroke="#000" stroke-opacity="0.26" stroke-width="0.55"/>
<circle cx="85.29" cy="274.29" r="1.65" fill="#000" fill-opacity="0.13" stroke="#000" stroke-opacity="0.26" stroke-width="0.55"/>
<circle cx="85.78" cy="265.56" r="1.65" fill="#000" fill-opacity="0.13" stroke="#000" stroke-opacity="0.26" stroke-width="0.55"/>
<circle cx="85.40" cy="268.37" r="1.65" fill="#000" fill-opacity="0.13" stroke="#000" stroke-opacity="0.26" stroke-width="0.55"/>
<circle cx="87.84" cy="279.62" r="1.65" fill="#000" fill-opacity="0.13" stroke="#000" stroke-opacity="0.26" stroke-width="0.55"/>
<circle cx="88.72" cy="278.24" r="1.65" fill="#000" fill-opacity="0.13" stroke="#000" stroke-opacity="0.26" stroke-width="0.55"/>
<circle cx="85.20" cy="274.46" r="1.65" fill="#000" fill-opacity="0.13" stroke="#000" stroke-opacity="0.26" stroke-width="0.55"/>
<circle cx="86.26" cy="279.58" r="1.65" fill="#000" fill-opacity="0.13" stroke="#000" stroke-opacity="0.26" stroke-width="0.55"/>
<circle cx="88.71" cy="271.28" r="1.65" fill="#000" fill-opacity="0.13" stroke="#000" stroke-opacity="0.26" stroke-width="0.55"/>
<circle cx="86.15" cy="281.03" r="1.65" fill="#000" fill-opacity="0.13" stroke="#000" stroke-opacity="0.26" stroke-width="0.55"/>
<circle cx="88.82" cy="279.78" r="1.65" fill="#000" fill-opacity="0.13" stroke="#000" stroke-opacity="0.26" stroke-width="0.55"/>
<circle cx="84.58" cy="281.11" r="1.65" fill="#000" fill-opacity="0.13" stroke="#000" stroke-opacity="0.26" stroke-width="0.55"/>
<circle cx="86.15" cy="282.65" r="1.65" fill="#000" fill-opacity="0.13" stroke="#000" stroke-opacity="0.26" stroke-width="0.55"/>
<circle cx="88.41" cy="266.91" r="1.65" fill="#000" fill-opacity="0.13" stroke="#000" stroke-opacity="0.26" stroke-width="0.55"/>
<circle cx="88.63" cy="286.06" r="1.65" fill="#000" fill-opacity="0.13" stroke="#000" stroke-opacity="0.26" stroke-width="0.55"/>
<circle cx="85.96" cy="284.36" r="1.65" fill="#000" fill-opacity="0.13" stroke="#000" stroke-opacity="0.26" stroke-width="0.55"/>
<circle cx="88.39" cy="290.73" r="1.65" fill="#000" fill-opacity="0.13" stroke="#000" stroke-opacity="0.26" stroke-width="0.55"/>
<circle cx="84.77" cy="285.94" r="1.65" fill="#000" fill-opacity="0.13" stroke="#000" stroke-opacity="0.26" stroke-width="0.55"/>
<circle cx="86.16" cy="286.64" r="1.65" fill="#000" fill-opacity="0.13" stroke="#000" stroke-opacity="0.26" stroke-width="0.55"/>
<circle cx="85.97" cy="289.12" r="1.65" fill="#000" fill-opacity="0.13" stroke="#000" stroke-opacity="0.26" stroke-width="0.55"/>
<circle cx="84.65" cy="290.87" r="1.65" fill="#000" fill-opacity="0.13" stroke="#000" stroke-opacity="0.26" stroke-width="0.55"/>
<circle cx="86.05" cy="289.92" r="1.65" fill="#000" fill-opacity="0.13" stroke="#000" stroke-opacity="0.26" stroke-width="0.55"/>
<circle cx="85.14" cy="284.15" r="1.65" fill="#000" fill-opacity="0.13" stroke="#000" stroke-opacity="0.26" stroke-width="0.55"/>
<rect x="100.77" y="264.65" width="17.32" height="15.37" fill="none" stroke="#c4c4c4" stroke-width="0.9"/>
<line x1="100.77" y1="272.51" x2="118.09" y2="272.51" stroke="#c4c4c4" stroke-width="1.1"/>
<circle cx="108.53" cy="286.85" r="1.65" fill="#000" fill-opacity="0.13" stroke="#000" stroke-opacity="0.26" stroke-width="0.55"/>
<circle cx="108.26" cy="267.07" r="1.65" fill="#000" fill-opacity="0.13" stroke="#000" stroke-opacity="0.26" stroke-width="0.55"/>
<circle cx="110.71" cy="273.29" r="1.65" fill="#000" fill-opacity="0.13" stroke="#000" stroke-opacity="0.26" stroke-width="0.55"/>
<line x1="41.07" y1="217.87" x2="41.07" y2="279.34" stroke="#3a5583" stroke-width="1.2"/>
<line x1="41.07" y1="217.57" x2="41.07" y2="219.17" stroke="#284372" stroke-width="1.7"/>
<line x1="41.07" y1="278.04" x2="41.07" y2="279.64" stroke="#284372" stroke-width="1.7"/>
<path d="M36.87,248.60L45.27,248.60M38.10,245.63L44.04,251.57M41.07,244.40L41.07,252.80M44.04,245.63L38.10,251.57" stroke="#2c4775" stroke-width="0.95" fill="none"/>
<circle cx="41.07" cy="248.60" r="1.15" fill="#284372"/>
<line x1="63.86" y1="254.06" x2="63.86" y2="271.48" stroke="#3a5583" stroke-width="1.2"/>
<line x1="63.86" y1="253.76" x2="63.86" y2="255.36" stroke="#284372" stroke-width="1.7"/>
<line x1="63.86" y1="270.18" x2="63.86" y2="271.78" stroke="#284372" stroke-width="1.7"/>
<path d="M59.66,262.94L68.06,262.94M60.89,259.97L66.83,265.91M63.86,258.74L63.86,267.14M66.83,259.97L60.89,265.91" stroke="#2c4775" stroke-width="0.95" fill="none"/>
<circle cx="63.86" cy="262.94" r="1.15" fill="#284372"/>
<line x1="86.64" y1="256.80" x2="86.64" y2="286.17" stroke="#3a5583" stroke-width="1.2"/>
<line x1="86.64" y1="256.50" x2="86.64" y2="258.10" stroke="#284372" stroke-width="1.7"/>
<line x1="86.64" y1="284.87" x2="86.64" y2="286.47" stroke="#284372" stroke-width="1.7"/>
<path d="M82.44,271.82L90.84,271.82M83.67,268.85L89.61,274.79M86.64,267.62L86.64,276.02M89.61,268.85L83.67,274.79" stroke="#2c4775" stroke-width="0.95" fill="none"/>
<circle cx="86.64" cy="271.82" r="1.15" fill="#284372"/>
<line x1="109.43" y1="261.92" x2="109.43" y2="284.12" stroke="#3a5583" stroke-width="1.2"/>
<line x1="109.43" y1="261.62" x2="109.43" y2="263.22" stroke="#284372" stroke-width="1.7"/>
<line x1="109.43" y1="282.82" x2="109.43" y2="284.42" stroke="#284372" stroke-width="1.7"/>
<path d="M105.23,272.85L113.63,272.85M106.46,269.88L112.40,275.82M109.43,268.65L109.43,277.05M112.40,269.88L106.46,275.82" stroke="#2c4775" stroke-width="0.95" fill="none"/>
<circle cx="109.43" cy="272.85" r="1.15" fill="#284372"/>
</g>
<rect x="27.40" y="193.60" width="95.70" height="103.90" fill="none" stroke="#9ba7bf" stroke-width="1"/>
<text x="160.80" y="175.60" font-size="9.3" fill="#1a1a1a" font-style="italic" textLength="24.90" lengthAdjust="spacingAndGlyphs">TFDP1</text>
<line x1="188.90" y1="172.40" x2="195.20" y2="172.40" stroke="#222" stroke-width="0.8"/>
<path d="M192.60,170.00 L195.20,172.40 L192.60,174.80" fill="none" stroke="#222" stroke-width="0.8"/>
<line x1="196.10" y1="169.60" x2="196.10" y2="175.20" stroke="#222" stroke-width="0.9"/>
<text x="198.00" y="175.60" font-size="9.3" fill="#1a1a1a" font-style="italic" textLength="30.00" lengthAdjust="spacingAndGlyphs">NCSTN</text>
<text x="160.80" y="188.80" font-size="9" fill="#1a1a1a" textLength="41.60" lengthAdjust="spacingAndGlyphs"><tspan font-style="italic">β</tspan> = -0.644</text>
<text x="140.20" y="245.55" font-size="9" fill="#1a1a1a" text-anchor="middle" textLength="49.80" lengthAdjust="spacingAndGlyphs" transform="rotate(-90 140.20 245.55)">Edge weight</text>
<line x1="158.20" y1="280.80" x2="160.50" y2="280.80" stroke="#333" stroke-width="0.6"/>
<text x="154.90" y="283.50" font-size="7.7" fill="#2a2a2a" text-anchor="end">-6</text>
<line x1="158.20" y1="255.60" x2="160.50" y2="255.60" stroke="#333" stroke-width="0.6"/>
<text x="154.90" y="258.30" font-size="7.7" fill="#2a2a2a" text-anchor="end">-4</text>
<line x1="158.20" y1="230.40" x2="160.50" y2="230.40" stroke="#333" stroke-width="0.6"/>
<text x="154.90" y="233.10" font-size="7.7" fill="#2a2a2a" text-anchor="end">-2</text>
<line x1="158.20" y1="205.20" x2="160.50" y2="205.20" stroke="#333" stroke-width="0.6"/>
<text x="154.90" y="207.90" font-size="7.7" fill="#2a2a2a" text-anchor="end">0</text>
<line x1="174.23" y1="297.50" x2="174.23" y2="299.10" stroke="#333" stroke-width="0.6"/>
<text x="174.23" y="308.50" font-size="7.5" fill="#222" text-anchor="middle">N</text>
<line x1="197.11" y1="297.50" x2="197.11" y2="299.10" stroke="#333" stroke-width="0.6"/>
<text x="197.11" y="308.50" font-size="7.5" fill="#222" text-anchor="middle">B</text>
<line x1="219.99" y1="297.50" x2="219.99" y2="299.10" stroke="#333" stroke-width="0.6"/>
<text x="219.99" y="308.50" font-size="7.5" fill="#222" text-anchor="middle">C</text>
<line x1="242.87" y1="297.50" x2="242.87" y2="299.10" stroke="#333" stroke-width="0.6"/>
<text x="242.87" y="308.50" font-size="7.5" fill="#222" text-anchor="middle">M</text>
<text x="208.55" y="320.80" font-size="9.4" fill="#222" text-anchor="middle" textLength="53.30" lengthAdjust="spacingAndGlyphs">Tumor region</text>
<clipPath id="c5"><rect x="160.5" y="193.6" width="96.10000000000002" height="103.9"/></clipPath>
<g clip-path="url(#c5)">
<line x1="174.23" y1="228.76" x2="174.23" y2="254.34" stroke="#c4c4c4" stroke-width="0.8"/>
<rect x="165.53" y="205.20" width="17.39" height="23.56" fill="none" stroke="#c4c4c4" stroke-width="0.9"/>
<line x1="165.53" y1="205.20" x2="182.92" y2="205.20" stroke="#c4c4c4" stroke-width="1.1"/>
<circle cx="173.85" cy="205.30" r="1.65" fill="#000" fill-opacity="0.13" stroke="#000" stroke-opacity="0.26" stroke-width="0.55"/>
<circle cx="174.08" cy="205.06" r="1.65" fill="#000" fill-opacity="0.13" stroke="#000" stroke-opacity="0.26" stroke-width="0.55"/>
<circle cx="176.58" cy="205.16" r="1.65" fill="#000" fill-opacity="0.13" stroke="#000" stroke-opacity="0.26" stroke-width="0.55"/>
<circle cx="173.47" cy="205.11" r="1.65" fill="#000" fill-opacity="0.13" stroke="#000" stroke-opacity="0.26" stroke-width="0.55"/>
<circle cx="171.60" cy="205.32" r="1.65" fill="#000" fill-opacity="0.13" stroke="#000" stroke-opacity="0.26" stroke-width="0.55"/>
<circle cx="175.97" cy="205.17" r="1.65" fill="#000" fill-opacity="0.13" stroke="#000" stroke-opacity="0.26" stroke-width="0.55"/>
<circle cx="171.66" cy="205.28" r="1.65" fill="#000" fill-opacity="0.13" stroke="#000" stroke-opacity="0.26" stroke-width="0.55"/>
<circle cx="171.78" cy="205.06" r="1.65" fill="#000" fill-opacity="0.13" stroke="#000" stroke-opacity="0.26" stroke-width="0.55"/>
<circle cx="172.87" cy="205.33" r="1.65" fill="#000" fill-opacity="0.13" stroke="#000" stroke-opacity="0.26" stroke-width="0.55"/>
<circle cx="176.46" cy="205.27" r="1.65" fill="#000" fill-opacity="0.13" stroke="#000" stroke-opacity="0.26" stroke-width="0.55"/>
<circle cx="172.95" cy="205.15" r="1.65" fill="#000" fill-opacity="0.13" stroke="#000" stroke-opacity="0.26" stroke-width="0.55"/>
<circle cx="174.88" cy="205.34" r="1.65" fill="#000" fill-opacity="0.13" stroke="#000" stroke-opacity="0.26" stroke-width="0.55"/>
<circle cx="175.44" cy="205.13" r="1.65" fill="#000" fill-opacity="0.13" stroke="#000" stroke-opacity="0.26" stroke-width="0.55"/>
<circle cx="172.97" cy="205.14" r="1.65" fill="#000" fill-opacity="0.13" stroke="#000" stroke-opacity="0.26" stroke-width="0.55"/>
<circle cx="175.66" cy="205.05" r="1.65" fill="#000" fill-opacity="0.13" stroke="#000" stroke-opacity="0.26" stroke-width="0.55"/>
<circle cx="174.98" cy="205.32" r="1.65" fill="#000" fill-opacity="0.13" stroke="#000" stroke-opacity="0.26" stroke-width="0.55"/>
<circle cx="171.56" cy="205.33" r="1.65" fill="#000" fill-opacity="0.13" stroke="#000" stroke-opacity="0.26" stroke-width="0.55"/>
<circle cx="174.09" cy="205.12" r="1.65" fill="#000" fill-opacity="0.13" stroke="#000" stroke-opacity="0.26" stroke-width="0.55"/>
<circle cx="176.77" cy="205.34" r="1.65" fill="#000" fill-opacity="0.13" stroke="#000" stroke-opacity="0.26" stroke-width="0.55"/>
<circle cx="172.83" cy="205.17" r="1.65" fill="#000" fill-opacity="0.13" stroke="#000" stroke-opacity="0.26" stroke-width="0.55"/>
<circle cx="174.19" cy="205.18" r="1.65" fill="#000" fill-opacity="0.13" stroke="#000" stroke-opacity="0.26" stroke-width="0.55"/>
<circle cx="172.45" cy="205.33" r="1.65" fill="#000" fill-opacity="0.13" stroke="#000" stroke-opacity="0.26" stroke-width="0.55"/>
<circle cx="174.94" cy="229.63" r="1.65" fill="#000" fill-opacity="0.13" stroke="#000" stroke-opacity="0.26" stroke-width="0.55"/>
<circle cx="175.05" cy="229.51" r="1.65" fill="#000" fill-opacity="0.13" stroke="#000" stroke-opacity="0.26" stroke-width="0.55"/>
<circle cx="173.71" cy="230.74" r="1.65" fill="#000" fill-opacity="0.13" stroke="#000" stroke-opacity="0.26" stroke-width="0.55"/>
<circle cx="173.81" cy="232.37" r="1.65" fill="#000" fill-opacity="0.13" stroke="#000" stroke-opacity="0.26" stroke-width="0.55"/>
<circle cx="171.73" cy="243.63" r="1.65" fill="#000" fill-opacity="0.13" stroke="#000" stroke-opacity="0.26" stroke-width="0.55"/>
<circle cx="175.23" cy="243.63" r="1.65" fill="#000" fill-opacity="0.13" stroke="#000" stroke-opacity="0.26" stroke-width="0.55"/>
<circle cx="171.43" cy="250.56" r="1.65" fill="#000" fill-opacity="0.13" stroke="#000" stroke-opacity="0.26" stroke-width="0.55"/>
<circle cx="172.03" cy="254.34" r="1.65" fill="#000" fill-opacity="0.13" stroke="#000" stroke-opacity="0.26" stroke-width="0.55"/>
<circle cx="172.43" cy="273.87" r="1.65" fill="#000" fill-opacity="0.13" stroke="#000" stroke-opacity="0.26" stroke-width="0.55"/>
<line x1="197.11" y1="205.20" x2="197.11" y2="218.30" stroke="#c4c4c4" stroke-width="0.8"/>
<line x1="197.11" y1="232.16" x2="197.11" y2="243.00" stroke="#c4c4c4" stroke-width="0.8"/>
<rect x="188.41" y="218.30" width="17.39" height="13.86" fill="none" stroke="#c4c4c4" stroke-width="0.9"/>
<line x1="188.41" y1="227.25" x2="205.80" y2="227.25" stroke="#c4c4c4" stroke-width="1.1"/>
<circle cx="195.11" cy="205.20" r="1.65" fill="#000" fill-opacity="0.13" stroke="#000" stroke-opacity="0.26" stroke-width="0.55"/>
<circle cx="199.11" cy="205.20" r="1.65" fill="#000" fill-opacity="0.13" stroke="#000" stroke-opacity="0.26" stroke-width="0.55"/>
<circle cx="197.11" cy="243.00" r="1.65" fill="#000" fill-opacity="0.13" stroke="#000" stroke-opacity="0.26" stroke-width="0.55"/>
<circle cx="195.43" cy="220.54" r="1.65" fill="#000" fill-opacity="0.13" stroke="#000" stroke-opacity="0.26" stroke-width="0.55"/>
<circle cx="198.12" cy="227.91" r="1.65" fill="#000" fill-opacity="0.13" stroke="#000" stroke-opacity="0.26" stroke-width="0.55"/>
<circle cx="195.37" cy="227.28" r="1.65" fill="#000" fill-opacity="0.13" stroke="#000" stroke-opacity="0.26" stroke-width="0.55"/>
<line x1="219.99" y1="205.20" x2="219.99" y2="223.97" stroke="#c4c4c4" stroke-width="0.8"/>
<rect x="211.30" y="223.97" width="17.39" height="17.39" fill="none" stroke="#c4c4c4" stroke-width="0.9"/>
<line x1="211.30" y1="233.42" x2="228.69" y2="233.42" stroke="#c4c4c4" stroke-width="1.1"/>
<circle cx="220.20" cy="205.06" r="1.65" fill="#000" fill-opacity="0.13" stroke="#000" stroke-opacity="0.26" stroke-width="0.55"/>
<circle cx="221.91" cy="205.15" r="1.65" fill="#000" fill-opacity="0.13" stroke="#000" stroke-opacity="0.26" stroke-width="0.55"/>
<circle cx="221.94" cy="205.32" r="1.65" fill="#000" fill-opacity="0.13" stroke="#000" stroke-opacity="0.26" stroke-width="0.55"/>
<circle cx="218.33" cy="205.13" r="1.65" fill="#000" fill-opacity="0.13" stroke="#000" stroke-opacity="0.26" stroke-width="0.55"/>
<circle cx="219.98" cy="205.08" r="1.65" fill="#000" fill-opacity="0.13" stroke="#000" stroke-opacity="0.26" stroke-width="0.55"/>
<circle cx="219.78" cy="205.26" r="1.65" fill="#000" fill-opacity="0.13" stroke="#000" stroke-opacity="0.26" stroke-width="0.55"/>
<circle cx="219.66" cy="205.12" r="1.65" fill="#000" fill-opacity="0.13" stroke="#000" stroke-opacity="0.26" stroke-width="0.55"/>
<circle cx="220.69" cy="205.24" r="1.65" fill="#000" fill-opacity="0.13" stroke="#000" stroke-opacity="0.26" stroke-width="0.55"/>
<circle cx="221.38" cy="205.27" r="1.65" fill="#000" fill-opacity="0.13" stroke="#000" stroke-opacity="0.26" stroke-width="0.55"/>
<circle cx="218.48" cy="205.25" r="1.65" fill="#000" fill-opacity="0.13" stroke="#000" stroke-opacity="0.26" stroke-width="0.55"/>
<circle cx="219.17" cy="205.30" r="1.65" fill="#000" fill-opacity="0.13" stroke="#000" stroke-opacity="0.26" stroke-width="0.55"/>
<circle cx="219.48" cy="205.22" r="1.65" fill="#000" fill-opacity="0.13" stroke="#000" stroke-opacity="0.26" stroke-width="0.55"/>
<circle cx="218.79" cy="205.27" r="1.65" fill="#000" fill-opacity="0.13" stroke="#000" stroke-opacity="0.26" stroke-width="0.55"/>
<circle cx="218.97" cy="205.12" r="1.65" fill="#000" fill-opacity="0.13" stroke="#000" stroke-opacity="0.26" stroke-width="0.55"/>
<circle cx="217.49" cy="217.55" r="1.65" fill="#000" fill-opacity="0.13" stroke="#000" stroke-opacity="0.26" stroke-width="0.55"/>
<circle cx="221.29" cy="217.55" r="1.65" fill="#000" fill-opacity="0.13" stroke="#000" stroke-opacity="0.26" stroke-width="0.55"/>
<circle cx="221.76" cy="229.24" r="1.65" fill="#000" fill-opacity="0.13" stroke="#000" stroke-opacity="0.26" stroke-width="0.55"/>
<circle cx="219.19" cy="226.03" r="1.65" fill="#000" fill-opacity="0.13" stroke="#000" stroke-opacity="0.26" stroke-width="0.55"/>
<circle cx="222.26" cy="227.41" r="1.65" fill="#000" fill-opacity="0.13" stroke="#000" stroke-opacity="0.26" stroke-width="0.55"/>
<circle cx="218.75" cy="226.56" r="1.65" fill="#000" fill-opacity="0.13" stroke="#000" stroke-opacity="0.26" stroke-width="0.55"/>
<circle cx="220.70" cy="224.29" r="1.65" fill="#000" fill-opacity="0.13" stroke="#000" stroke-opacity="0.26" stroke-width="0.55"/>
<circle cx="218.16" cy="222.91" r="1.65" fill="#000" fill-opacity="0.13" stroke="#000" stroke-opacity="0.26" stroke-width="0.55"/>
<circle cx="221.46" cy="226.81" r="1.65" fill="#000" fill-opacity="0.13" stroke="#000" stroke-opacity="0.26" stroke-width="0.55"/>
<circle cx="221.90" cy="224.05" r="1.65" fill="#000" fill-opacity="0.13" stroke="#000" stroke-opacity="0.26" stroke-width="0.55"/>
<circle cx="219.04" cy="230.09" r="1.65" fill="#000" fill-opacity="0.13" stroke="#000" stroke-opacity="0.26" stroke-width="0.55"/>
<circle cx="218.56" cy="229.50" r="1.65" fill="#000" fill-opacity="0.13" stroke="#000" stroke-opacity="0.26" stroke-width="0.55"/>
<circle cx="220.37" cy="223.04" r="1.65" fill="#000" fill-opacity="0.13" stroke="#000" stroke-opacity="0.26" stroke-width="0.55"/>
<circle cx="219.40" cy="223.37" r="1.65" fill="#000" fill-opacity="0.13" stroke="#000" stroke-opacity="0.26" stroke-width="0.55"/>
<circle cx="219.76" cy="232.26" r="1.65" fill="#000" fill-opacity="0.13" stroke="#000" stroke-opacity="0.26" stroke-width="0.55"/>
<circle cx="221.27" cy="240.66" r="1.65" fill="#000" fill-opacity="0.13" stroke="#000" stroke-opacity="0.26" stroke-width="0.55"/>
<circle cx="218.18" cy="231.15" r="1.65" fill="#000" fill-opacity="0.13" stroke="#000" stroke-opacity="0.26" stroke-width="0.55"/>
<circle cx="220.54" cy="236.00" r="1.65" fill="#000" fill-opacity="0.13" stroke="#000" stroke-opacity="0.26" stroke-width="0.55"/>
<circle cx="219.39" cy="241.24" r="1.65" fill="#000" fill-opacity="0.13" stroke="#000" stroke-opacity="0.26" stroke-width="0.55"/>
<circle cx="218.63" cy="242.30" r="1.65" fill="#000" fill-opacity="0.13" stroke="#000" stroke-opacity="0.26" stroke-width="0.55"/>
<circle cx="220.45" cy="240.73" r="1.65" fill="#000" fill-opacity="0.13" stroke="#000" stroke-opacity="0.26" stroke-width="0.55"/>
<circle cx="218.63" cy="235.23" r="1.65" fill="#000" fill-opacity="0.13" stroke="#000" stroke-opacity="0.26" stroke-width="0.55"/>
<circle cx="219.20" cy="244.10" r="1.65" fill="#000" fill-opacity="0.13" stroke="#000" stroke-opacity="0.26" stroke-width="0.55"/>
<circle cx="218.54" cy="234.86" r="1.65" fill="#000" fill-opacity="0.13" stroke="#000" stroke-opacity="0.26" stroke-width="0.55"/>
<circle cx="218.63" cy="239.93" r="1.65" fill="#000" fill-opacity="0.13" stroke="#000" stroke-opacity="0.26" stroke-width="0.55"/>
<circle cx="220.21" cy="233.24" r="1.65" fill="#000" fill-opacity="0.13" stroke="#000" stroke-opacity="0.26" stroke-width="0.55"/>
<circle cx="218.16" cy="243.38" r="1.65" fill="#000" fill-opacity="0.13" stroke="#000" stroke-opacity="0.26" stroke-width="0.55"/>
<circle cx="220.22" cy="238.78" r="1.65" fill="#000" fill-opacity="0.13" stroke="#000" stroke-opacity="0.26" stroke-width="0.55"/>
<circle cx="218.11" cy="235.40" r="1.65" fill="#000" fill-opacity="0.13" stroke="#000" stroke-opacity="0.26" stroke-width="0.55"/>
<circle cx="220.89" cy="241.99" r="1.65" fill="#000" fill-opacity="0.13" stroke="#000" stroke-opacity="0.26" stroke-width="0.55"/>
<circle cx="218.99" cy="238.58" r="1.65" fill="#000" fill-opacity="0.13" stroke="#000" stroke-opacity="0.26" stroke-width="0.55"/>
<circle cx="222.08" cy="240.00" r="1.65" fill="#000" fill-opacity="0.13" stroke="#000" stroke-opacity="0.26" stroke-width="0.55"/>
<circle cx="220.30" cy="239.93" r="1.65" fill="#000" fill-opacity="0.13" stroke="#000" stroke-opacity="0.26" stroke-width="0.55"/>
<circle cx="219.61" cy="239.31" r="1.65" fill="#000" fill-opacity="0.13" stroke="#000" stroke-opacity="0.26" stroke-width="0.55"/>
<circle cx="222.27" cy="232.28" r="1.65" fill="#000" fill-opacity="0.13" stroke="#000" stroke-opacity="0.26" stroke-width="0.55"/>
<circle cx="218.60" cy="239.22" r="1.65" fill="#000" fill-opacity="0.13" stroke="#000" stroke-opacity="0.26" stroke-width="0.55"/>
<circle cx="218.63" cy="234.17" r="1.65" fill="#000" fill-opacity="0.13" stroke="#000" stroke-opacity="0.26" stroke-width="0.55"/>
<circle cx="221.84" cy="244.18" r="1.65" fill="#000" fill-opacity="0.13" stroke="#000" stroke-opacity="0.26" stroke-width="0.55"/>
<circle cx="221.46" cy="238.39" r="1.65" fill="#000" fill-opacity="0.13" stroke="#000" stroke-opacity="0.26" stroke-width="0.55"/>
<circle cx="221.75" cy="238.63" r="1.65" fill="#000" fill-opacity="0.13" stroke="#000" stroke-opacity="0.26" stroke-width="0.55"/>
<circle cx="218.44" cy="237.87" r="1.65" fill="#000" fill-opacity="0.13" stroke="#000" stroke-opacity="0.26" stroke-width="0.55"/>
<circle cx="220.23" cy="244.05" r="1.65" fill="#000" fill-opacity="0.13" stroke="#000" stroke-opacity="0.26" stroke-width="0.55"/>
<circle cx="221.88" cy="235.38" r="1.65" fill="#000" fill-opacity="0.13" stroke="#000" stroke-opacity="0.26" stroke-width="0.55"/>
<circle cx="220.55" cy="243.03" r="1.65" fill="#000" fill-opacity="0.13" stroke="#000" stroke-opacity="0.26" stroke-width="0.55"/>
<circle cx="220.01" cy="249.81" r="1.65" fill="#000" fill-opacity="0.13" stroke="#000" stroke-opacity="0.26" stroke-width="0.55"/>
<circle cx="219.12" cy="251.79" r="1.65" fill="#000" fill-opacity="0.13" stroke="#000" stroke-opacity="0.26" stroke-width="0.55"/>
<circle cx="221.69" cy="248.48" r="1.65" fill="#000" fill-opacity="0.13" stroke="#000" stroke-opacity="0.26" stroke-width="0.55"/>
<circle cx="219.95" cy="252.12" r="1.65" fill="#000" fill-opacity="0.13" stroke="#000" stroke-opacity="0.26" stroke-width="0.55"/>
<circle cx="221.86" cy="245.98" r="1.65" fill="#000" fill-opacity="0.13" stroke="#000" stroke-opacity="0.26" stroke-width="0.55"/>
<circle cx="218.50" cy="251.34" r="1.65" fill="#000" fill-opacity="0.13" stroke="#000" stroke-opacity="0.26" stroke-width="0.55"/>
<circle cx="218.79" cy="256.23" r="1.65" fill="#000" fill-opacity="0.13" stroke="#000" stroke-opacity="0.26" stroke-width="0.55"/>
<circle cx="219.19" cy="258.12" r="1.65" fill="#000" fill-opacity="0.13" stroke="#000" stroke-opacity="0.26" stroke-width="0.55"/>
<circle cx="221.19" cy="274.50" r="1.65" fill="#000" fill-opacity="0.13" stroke="#000" stroke-opacity="0.26" stroke-width="0.55"/>
<circle cx="218.19" cy="278.03" r="1.65" fill="#000" fill-opacity="0.13" stroke="#000" stroke-opacity="0.26" stroke-width="0.55"/>
<circle cx="222.59" cy="276.39" r="1.65" fill="#000" fill-opacity="0.13" stroke="#000" stroke-opacity="0.26" stroke-width="0.55"/>
<circle cx="218.69" cy="292.77" r="1.65" fill="#000" fill-opacity="0.13" stroke="#000" stroke-opacity="0.26" stroke-width="0.55"/>
<line x1="242.87" y1="205.20" x2="242.87" y2="229.64" stroke="#c4c4c4" stroke-width="0.8"/>
<rect x="234.18" y="229.64" width="17.39" height="16.76" fill="none" stroke="#c4c4c4" stroke-width="0.9"/>
<line x1="234.18" y1="241.61" x2="251.57" y2="241.61" stroke="#c4c4c4" stroke-width="1.1"/>
<circle cx="243.17" cy="205.20" r="1.65" fill="#000" fill-opacity="0.13" stroke="#000" stroke-opacity="0.26" stroke-width="0.55"/>
<circle cx="244.07" cy="246.02" r="1.65" fill="#000" fill-opacity="0.13" stroke="#000" stroke-opacity="0.26" stroke-width="0.55"/>
<circle cx="244.77" cy="235.87" r="1.65" fill="#000" fill-opacity="0.13" stroke="#000" stroke-opacity="0.26" stroke-width="0.55"/>
<circle cx="241.08" cy="239.35" r="1.65" fill="#000" fill-opacity="0.13" stroke="#000" stroke-opacity="0.26" stroke-width="0.55"/>
<circle cx="242.42" cy="236.00" r="1.65" fill="#000" fill-opacity="0.13" stroke="#000" stroke-opacity="0.26" stroke-width="0.55"/>
<line x1="174.23" y1="198.65" x2="174.23" y2="234.31" stroke="#3a5583" stroke-width="1.2"/>
<line x1="174.23" y1="198.35" x2="174.23" y2="199.95" stroke="#284372" stroke-width="1.7"/>
<line x1="174.23" y1="233.01" x2="174.23" y2="234.61" stroke="#284372" stroke-width="1.7"/>
<path d="M170.03,216.16L178.43,216.16M171.26,213.19L177.20,219.13M174.23,211.96L174.23,220.36M177.20,213.19L171.26,219.13" stroke="#2c4775" stroke-width="0.95" fill="none"/>
<circle cx="174.23" cy="216.16" r="1.15" fill="#284372"/>
<line x1="197.11" y1="211.75" x2="197.11" y2="237.20" stroke="#3a5583" stroke-width="1.2"/>
<line x1="197.11" y1="211.45" x2="197.11" y2="213.05" stroke="#284372" stroke-width="1.7"/>
<line x1="197.11" y1="235.90" x2="197.11" y2="237.50" stroke="#284372" stroke-width="1.7"/>
<path d="M192.91,224.35L201.31,224.35M194.14,221.38L200.08,227.32M197.11,220.15L197.11,228.55M200.08,221.38L194.14,227.32" stroke="#2c4775" stroke-width="0.95" fill="none"/>
<circle cx="197.11" cy="224.35" r="1.15" fill="#284372"/>
<line x1="219.99" y1="215.15" x2="219.99" y2="250.43" stroke="#3a5583" stroke-width="1.2"/>
<line x1="219.99" y1="214.85" x2="219.99" y2="216.45" stroke="#284372" stroke-width="1.7"/>
<line x1="219.99" y1="249.13" x2="219.99" y2="250.73" stroke="#284372" stroke-width="1.7"/>
<path d="M215.79,233.42L224.19,233.42M217.02,230.45L222.96,236.39M219.99,229.22L219.99,237.62M222.96,230.45L217.02,236.39" stroke="#2c4775" stroke-width="0.95" fill="none"/>
<circle cx="219.99" cy="233.42" r="1.15" fill="#284372"/>
<line x1="242.87" y1="214.27" x2="242.87" y2="254.34" stroke="#3a5583" stroke-width="1.2"/>
<line x1="242.87" y1="213.97" x2="242.87" y2="215.57" stroke="#284372" stroke-width="1.7"/>
<line x1="242.87" y1="253.04" x2="242.87" y2="254.64" stroke="#284372" stroke-width="1.7"/>
<path d="M238.67,234.68L247.07,234.68M239.90,231.71L245.84,237.65M242.87,230.48L242.87,238.88M245.84,231.71L239.90,237.65" stroke="#2c4775" stroke-width="0.95" fill="none"/>
<circle cx="242.87" cy="234.68" r="1.15" fill="#284372"/>
</g>
<rect x="160.50" y="193.60" width="96.10" height="103.90" fill="none" stroke="#9ba7bf" stroke-width="1"/>
<text x="292.00" y="175.60" font-size="9.3" fill="#1a1a1a" font-style="italic" textLength="31.20" lengthAdjust="spacingAndGlyphs">HOXD8</text>
<line x1="326.20" y1="172.40" x2="332.50" y2="172.40" stroke="#222" stroke-width="0.8"/>
<path d="M329.90,170.00 L332.50,172.40 L329.90,174.80" fill="none" stroke="#222" stroke-width="0.8"/>
<line x1="333.40" y1="169.60" x2="333.40" y2="175.20" stroke="#222" stroke-width="0.9"/>
<text x="335.40" y="175.60" font-size="9.3" fill="#1a1a1a" font-style="italic" textLength="29.20" lengthAdjust="spacingAndGlyphs">VEGFA</text>
<text x="292.00" y="188.80" font-size="9" fill="#1a1a1a" textLength="41.20" lengthAdjust="spacingAndGlyphs"><tspan font-style="italic">β</tspan> = -0.653</text>
<text x="275.10" y="245.55" font-size="9" fill="#1a1a1a" text-anchor="middle" textLength="49.80" lengthAdjust="spacingAndGlyphs" transform="rotate(-90 275.10 245.55)">Edge weight</text>
<line x1="289.00" y1="295.80" x2="291.30" y2="295.80" stroke="#333" stroke-width="0.6"/>
<text x="285.70" y="298.50" font-size="7.7" fill="#2a2a2a" text-anchor="end">-3</text>
<line x1="289.00" y1="267.00" x2="291.30" y2="267.00" stroke="#333" stroke-width="0.6"/>
<text x="285.70" y="269.70" font-size="7.7" fill="#2a2a2a" text-anchor="end">-2</text>
<line x1="289.00" y1="238.20" x2="291.30" y2="238.20" stroke="#333" stroke-width="0.6"/>
<text x="285.70" y="240.90" font-size="7.7" fill="#2a2a2a" text-anchor="end">-1</text>
<line x1="289.00" y1="209.40" x2="291.30" y2="209.40" stroke="#333" stroke-width="0.6"/>
<text x="285.70" y="212.10" font-size="7.7" fill="#2a2a2a" text-anchor="end">0</text>
<line x1="305.09" y1="297.50" x2="305.09" y2="299.10" stroke="#333" stroke-width="0.6"/>
<text x="305.09" y="308.50" font-size="7.5" fill="#222" text-anchor="middle">N</text>
<line x1="328.06" y1="297.50" x2="328.06" y2="299.10" stroke="#333" stroke-width="0.6"/>
<text x="328.06" y="308.50" font-size="7.5" fill="#222" text-anchor="middle">B</text>
<line x1="351.04" y1="297.50" x2="351.04" y2="299.10" stroke="#333" stroke-width="0.6"/>
<text x="351.04" y="308.50" font-size="7.5" fill="#222" text-anchor="middle">C</text>
<line x1="374.01" y1="297.50" x2="374.01" y2="299.10" stroke="#333" stroke-width="0.6"/>
<text x="374.01" y="308.50" font-size="7.5" fill="#222" text-anchor="middle">M</text>
<text x="339.55" y="320.80" font-size="9.4" fill="#222" text-anchor="middle" textLength="53.30" lengthAdjust="spacingAndGlyphs">Tumor region</text>
<clipPath id="c6"><rect x="291.3" y="193.6" width="96.5" height="103.9"/></clipPath>
<g clip-path="url(#c6)">
<line x1="305.09" y1="264.41" x2="305.09" y2="284.57" stroke="#c4c4c4" stroke-width="0.8"/>
<rect x="296.35" y="209.40" width="17.46" height="55.01" fill="none" stroke="#c4c4c4" stroke-width="0.9"/>
<line x1="296.35" y1="209.40" x2="313.82" y2="209.40" stroke="#c4c4c4" stroke-width="1.1"/>
<circle cx="305.76" cy="209.52" r="1.65" fill="#000" fill-opacity="0.13" stroke="#000" stroke-opacity="0.26" stroke-width="0.55"/>
<circle cx="303.18" cy="209.50" r="1.65" fill="#000" fill-opacity="0.13" stroke="#000" stroke-opacity="0.26" stroke-width="0.55"/>
<circle cx="303.53" cy="209.49" r="1.65" fill="#000" fill-opacity="0.13" stroke="#000" stroke-opacity="0.26" stroke-width="0.55"/>
<circle cx="307.03" cy="209.37" r="1.65" fill="#000" fill-opacity="0.13" stroke="#000" stroke-opacity="0.26" stroke-width="0.55"/>
<circle cx="303.31" cy="209.50" r="1.65" fill="#000" fill-opacity="0.13" stroke="#000" stroke-opacity="0.26" stroke-width="0.55"/>
<circle cx="304.52" cy="209.32" r="1.65" fill="#000" fill-opacity="0.13" stroke="#000" stroke-opacity="0.26" stroke-width="0.55"/>
<circle cx="304.43" cy="209.41" r="1.65" fill="#000" fill-opacity="0.13" stroke="#000" stroke-opacity="0.26" stroke-width="0.55"/>
<circle cx="303.67" cy="209.29" r="1.65" fill="#000" fill-opacity="0.13" stroke="#000" stroke-opacity="0.26" stroke-width="0.55"/>
<circle cx="307.31" cy="209.47" r="1.65" fill="#000" fill-opacity="0.13" stroke="#000" stroke-opacity="0.26" stroke-width="0.55"/>
<circle cx="305.43" cy="209.26" r="1.65" fill="#000" fill-opacity="0.13" stroke="#000" stroke-opacity="0.26" stroke-width="0.55"/>
<circle cx="302.50" cy="209.48" r="1.65" fill="#000" fill-opacity="0.13" stroke="#000" stroke-opacity="0.26" stroke-width="0.55"/>
<circle cx="302.95" cy="209.50" r="1.65" fill="#000" fill-opacity="0.13" stroke="#000" stroke-opacity="0.26" stroke-width="0.55"/>
<circle cx="305.37" cy="209.43" r="1.65" fill="#000" fill-opacity="0.13" stroke="#000" stroke-opacity="0.26" stroke-width="0.55"/>
<circle cx="304.00" cy="209.44" r="1.65" fill="#000" fill-opacity="0.13" stroke="#000" stroke-opacity="0.26" stroke-width="0.55"/>
<circle cx="305.55" cy="209.38" r="1.65" fill="#000" fill-opacity="0.13" stroke="#000" stroke-opacity="0.26" stroke-width="0.55"/>
<circle cx="305.98" cy="209.38" r="1.65" fill="#000" fill-opacity="0.13" stroke="#000" stroke-opacity="0.26" stroke-width="0.55"/>
<circle cx="304.74" cy="209.38" r="1.65" fill="#000" fill-opacity="0.13" stroke="#000" stroke-opacity="0.26" stroke-width="0.55"/>
<circle cx="305.75" cy="209.26" r="1.65" fill="#000" fill-opacity="0.13" stroke="#000" stroke-opacity="0.26" stroke-width="0.55"/>
<circle cx="303.60" cy="209.40" r="1.65" fill="#000" fill-opacity="0.13" stroke="#000" stroke-opacity="0.26" stroke-width="0.55"/>
<circle cx="306.65" cy="209.48" r="1.65" fill="#000" fill-opacity="0.13" stroke="#000" stroke-opacity="0.26" stroke-width="0.55"/>
<circle cx="303.29" cy="209.39" r="1.65" fill="#000" fill-opacity="0.13" stroke="#000" stroke-opacity="0.26" stroke-width="0.55"/>
<circle cx="302.89" cy="209.39" r="1.65" fill="#000" fill-opacity="0.13" stroke="#000" stroke-opacity="0.26" stroke-width="0.55"/>
<circle cx="305.19" cy="267.86" r="1.65" fill="#000" fill-opacity="0.13" stroke="#000" stroke-opacity="0.26" stroke-width="0.55"/>
<circle cx="305.69" cy="269.88" r="1.65" fill="#000" fill-opacity="0.13" stroke="#000" stroke-opacity="0.26" stroke-width="0.55"/>
<circle cx="303.69" cy="278.52" r="1.65" fill="#000" fill-opacity="0.13" stroke="#000" stroke-opacity="0.26" stroke-width="0.55"/>
<circle cx="305.69" cy="279.67" r="1.65" fill="#000" fill-opacity="0.13" stroke="#000" stroke-opacity="0.26" stroke-width="0.55"/>
<circle cx="307.19" cy="284.57" r="1.65" fill="#000" fill-opacity="0.13" stroke="#000" stroke-opacity="0.26" stroke-width="0.55"/>
<rect x="319.33" y="253.18" width="17.46" height="23.04" fill="none" stroke="#c4c4c4" stroke-width="0.9"/>
<line x1="319.33" y1="267.00" x2="336.79" y2="267.00" stroke="#c4c4c4" stroke-width="1.1"/>
<circle cx="326.76" cy="209.40" r="1.65" fill="#000" fill-opacity="0.13" stroke="#000" stroke-opacity="0.26" stroke-width="0.55"/>
<circle cx="329.56" cy="209.40" r="1.65" fill="#000" fill-opacity="0.13" stroke="#000" stroke-opacity="0.26" stroke-width="0.55"/>
<circle cx="327.16" cy="253.18" r="1.65" fill="#000" fill-opacity="0.13" stroke="#000" stroke-opacity="0.26" stroke-width="0.55"/>
<circle cx="326.16" cy="263.54" r="1.65" fill="#000" fill-opacity="0.13" stroke="#000" stroke-opacity="0.26" stroke-width="0.55"/>
<circle cx="326.16" cy="270.46" r="1.65" fill="#000" fill-opacity="0.13" stroke="#000" stroke-opacity="0.26" stroke-width="0.55"/>
<circle cx="325.66" cy="283.99" r="1.65" fill="#000" fill-opacity="0.13" stroke="#000" stroke-opacity="0.26" stroke-width="0.55"/>
<line x1="351.04" y1="252.02" x2="351.04" y2="237.62" stroke="#c4c4c4" stroke-width="0.8"/>
<rect x="342.31" y="262.39" width="17.46" height="15.26" fill="none" stroke="#c4c4c4" stroke-width="0.9"/>
<line x1="342.31" y1="272.18" x2="359.77" y2="272.18" stroke="#c4c4c4" stroke-width="1.1"/>
<circle cx="351.54" cy="209.40" r="1.65" fill="#000" fill-opacity="0.13" stroke="#000" stroke-opacity="0.26" stroke-width="0.55"/>
<circle cx="350.54" cy="214.87" r="1.65" fill="#000" fill-opacity="0.13" stroke="#000" stroke-opacity="0.26" stroke-width="0.55"/>
<circle cx="352.04" cy="216.89" r="1.65" fill="#000" fill-opacity="0.13" stroke="#000" stroke-opacity="0.26" stroke-width="0.55"/>
<circle cx="352.04" cy="220.63" r="1.65" fill="#000" fill-opacity="0.13" stroke="#000" stroke-opacity="0.26" stroke-width="0.55"/>
<circle cx="352.54" cy="237.05" r="1.65" fill="#000" fill-opacity="0.13" stroke="#000" stroke-opacity="0.26" stroke-width="0.55"/>
<circle cx="351.54" cy="242.23" r="1.65" fill="#000" fill-opacity="0.13" stroke="#000" stroke-opacity="0.26" stroke-width="0.55"/>
<circle cx="350.72" cy="257.07" r="1.65" fill="#000" fill-opacity="0.13" stroke="#000" stroke-opacity="0.26" stroke-width="0.55"/>
<circle cx="350.77" cy="257.44" r="1.65" fill="#000" fill-opacity="0.13" stroke="#000" stroke-opacity="0.26" stroke-width="0.55"/>
<circle cx="348.93" cy="253.22" r="1.65" fill="#000" fill-opacity="0.13" stroke="#000" stroke-opacity="0.26" stroke-width="0.55"/>
<circle cx="349.12" cy="251.94" r="1.65" fill="#000" fill-opacity="0.13" stroke="#000" stroke-opacity="0.26" stroke-width="0.55"/>
<circle cx="352.32" cy="250.97" r="1.65" fill="#000" fill-opacity="0.13" stroke="#000" stroke-opacity="0.26" stroke-width="0.55"/>
<circle cx="348.99" cy="253.20" r="1.65" fill="#000" fill-opacity="0.13" stroke="#000" stroke-opacity="0.26" stroke-width="0.55"/>
<circle cx="350.48" cy="253.28" r="1.65" fill="#000" fill-opacity="0.13" stroke="#000" stroke-opacity="0.26" stroke-width="0.55"/>
<circle cx="349.36" cy="248.78" r="1.65" fill="#000" fill-opacity="0.13" stroke="#000" stroke-opacity="0.26" stroke-width="0.55"/>
<circle cx="353.32" cy="249.72" r="1.65" fill="#000" fill-opacity="0.13" stroke="#000" stroke-opacity="0.26" stroke-width="0.55"/>
<circle cx="352.49" cy="264.15" r="1.65" fill="#000" fill-opacity="0.13" stroke="#000" stroke-opacity="0.26" stroke-width="0.55"/>
<circle cx="353.25" cy="275.78" r="1.65" fill="#000" fill-opacity="0.13" stroke="#000" stroke-opacity="0.26" stroke-width="0.55"/>
<circle cx="353.14" cy="269.34" r="1.65" fill="#000" fill-opacity="0.13" stroke="#000" stroke-opacity="0.26" stroke-width="0.55"/>
<circle cx="349.50" cy="260.17" r="1.65" fill="#000" fill-opacity="0.13" stroke="#000" stroke-opacity="0.26" stroke-width="0.55"/>
<circle cx="353.02" cy="262.93" r="1.65" fill="#000" fill-opacity="0.13" stroke="#000" stroke-opacity="0.26" stroke-width="0.55"/>
<circle cx="350.35" cy="278.54" r="1.65" fill="#000" fill-opacity="0.13" stroke="#000" stroke-opacity="0.26" stroke-width="0.55"/>
<circle cx="349.47" cy="263.63" r="1.65" fill="#000" fill-opacity="0.13" stroke="#000" stroke-opacity="0.26" stroke-width="0.55"/>
<circle cx="350.00" cy="260.59" r="1.65" fill="#000" fill-opacity="0.13" stroke="#000" stroke-opacity="0.26" stroke-width="0.55"/>
<circle cx="349.40" cy="262.34" r="1.65" fill="#000" fill-opacity="0.13" stroke="#000" stroke-opacity="0.26" stroke-width="0.55"/>
<circle cx="352.97" cy="269.11" r="1.65" fill="#000" fill-opacity="0.13" stroke="#000" stroke-opacity="0.26" stroke-width="0.55"/>
<circle cx="349.95" cy="275.46" r="1.65" fill="#000" fill-opacity="0.13" stroke="#000" stroke-opacity="0.26" stroke-width="0.55"/>
<circle cx="350.21" cy="269.03" r="1.65" fill="#000" fill-opacity="0.13" stroke="#000" stroke-opacity="0.26" stroke-width="0.55"/>
<circle cx="349.58" cy="279.16" r="1.65" fill="#000" fill-opacity="0.13" stroke="#000" stroke-opacity="0.26" stroke-width="0.55"/>
<circle cx="353.05" cy="276.48" r="1.65" fill="#000" fill-opacity="0.13" stroke="#000" stroke-opacity="0.26" stroke-width="0.55"/>
<circle cx="352.86" cy="265.28" r="1.65" fill="#000" fill-opacity="0.13" stroke="#000" stroke-opacity="0.26" stroke-width="0.55"/>
<circle cx="352.35" cy="276.32" r="1.65" fill="#000" fill-opacity="0.13" stroke="#000" stroke-opacity="0.26" stroke-width="0.55"/>
<circle cx="351.18" cy="277.47" r="1.65" fill="#000" fill-opacity="0.13" stroke="#000" stroke-opacity="0.26" stroke-width="0.55"/>
<circle cx="350.39" cy="266.22" r="1.65" fill="#000" fill-opacity="0.13" stroke="#000" stroke-opacity="0.26" stroke-width="0.55"/>
<circle cx="351.29" cy="261.10" r="1.65" fill="#000" fill-opacity="0.13" stroke="#000" stroke-opacity="0.26" stroke-width="0.55"/>
<circle cx="352.80" cy="267.43" r="1.65" fill="#000" fill-opacity="0.13" stroke="#000" stroke-opacity="0.26" stroke-width="0.55"/>
<circle cx="353.31" cy="277.70" r="1.65" fill="#000" fill-opacity="0.13" stroke="#000" stroke-opacity="0.26" stroke-width="0.55"/>
<circle cx="350.55" cy="266.36" r="1.65" fill="#000" fill-opacity="0.13" stroke="#000" stroke-opacity="0.26" stroke-width="0.55"/>
<circle cx="349.96" cy="262.73" r="1.65" fill="#000" fill-opacity="0.13" stroke="#000" stroke-opacity="0.26" stroke-width="0.55"/>
<circle cx="351.39" cy="258.57" r="1.65" fill="#000" fill-opacity="0.13" stroke="#000" stroke-opacity="0.26" stroke-width="0.55"/>
<circle cx="352.26" cy="272.18" r="1.65" fill="#000" fill-opacity="0.13" stroke="#000" stroke-opacity="0.26" stroke-width="0.55"/>
<circle cx="349.55" cy="270.41" r="1.65" fill="#000" fill-opacity="0.13" stroke="#000" stroke-opacity="0.26" stroke-width="0.55"/>
<circle cx="348.96" cy="263.90" r="1.65" fill="#000" fill-opacity="0.13" stroke="#000" stroke-opacity="0.26" stroke-width="0.55"/>
<circle cx="349.90" cy="262.25" r="1.65" fill="#000" fill-opacity="0.13" stroke="#000" stroke-opacity="0.26" stroke-width="0.55"/>
<circle cx="353.26" cy="266.15" r="1.65" fill="#000" fill-opacity="0.13" stroke="#000" stroke-opacity="0.26" stroke-width="0.55"/>
<circle cx="351.79" cy="267.31" r="1.65" fill="#000" fill-opacity="0.13" stroke="#000" stroke-opacity="0.26" stroke-width="0.55"/>
<circle cx="348.75" cy="273.21" r="1.65" fill="#000" fill-opacity="0.13" stroke="#000" stroke-opacity="0.26" stroke-width="0.55"/>
<circle cx="349.43" cy="279.23" r="1.65" fill="#000" fill-opacity="0.13" stroke="#000" stroke-opacity="0.26" stroke-width="0.55"/>
<circle cx="350.73" cy="266.65" r="1.65" fill="#000" fill-opacity="0.13" stroke="#000" stroke-opacity="0.26" stroke-width="0.55"/>
<circle cx="352.86" cy="268.89" r="1.65" fill="#000" fill-opacity="0.13" stroke="#000" stroke-opacity="0.26" stroke-width="0.55"/>
<circle cx="349.78" cy="277.11" r="1.65" fill="#000" fill-opacity="0.13" stroke="#000" stroke-opacity="0.26" stroke-width="0.55"/>
<circle cx="348.84" cy="265.85" r="1.65" fill="#000" fill-opacity="0.13" stroke="#000" stroke-opacity="0.26" stroke-width="0.55"/>
<circle cx="350.37" cy="279.90" r="1.65" fill="#000" fill-opacity="0.13" stroke="#000" stroke-opacity="0.26" stroke-width="0.55"/>
<circle cx="350.38" cy="277.66" r="1.65" fill="#000" fill-opacity="0.13" stroke="#000" stroke-opacity="0.26" stroke-width="0.55"/>
<circle cx="351.37" cy="286.66" r="1.65" fill="#000" fill-opacity="0.13" stroke="#000" stroke-opacity="0.26" stroke-width="0.55"/>
<circle cx="349.85" cy="283.51" r="1.65" fill="#000" fill-opacity="0.13" stroke="#000" stroke-opacity="0.26" stroke-width="0.55"/>
<circle cx="350.94" cy="283.21" r="1.65" fill="#000" fill-opacity="0.13" stroke="#000" stroke-opacity="0.26" stroke-width="0.55"/>
<circle cx="352.78" cy="287.44" r="1.65" fill="#000" fill-opacity="0.13" stroke="#000" stroke-opacity="0.26" stroke-width="0.55"/>
<circle cx="349.64" cy="286.50" r="1.65" fill="#000" fill-opacity="0.13" stroke="#000" stroke-opacity="0.26" stroke-width="0.55"/>
<circle cx="351.59" cy="287.77" r="1.65" fill="#000" fill-opacity="0.13" stroke="#000" stroke-opacity="0.26" stroke-width="0.55"/>
<circle cx="352.17" cy="281.07" r="1.65" fill="#000" fill-opacity="0.13" stroke="#000" stroke-opacity="0.26" stroke-width="0.55"/>
<circle cx="350.10" cy="285.13" r="1.65" fill="#000" fill-opacity="0.13" stroke="#000" stroke-opacity="0.26" stroke-width="0.55"/>
<circle cx="351.62" cy="288.50" r="1.65" fill="#000" fill-opacity="0.13" stroke="#000" stroke-opacity="0.26" stroke-width="0.55"/>
<rect x="365.28" y="264.41" width="17.46" height="18.72" fill="none" stroke="#c4c4c4" stroke-width="0.9"/>
<line x1="365.28" y1="278.52" x2="382.75" y2="278.52" stroke="#c4c4c4" stroke-width="1.1"/>
<circle cx="373.41" cy="234.17" r="1.65" fill="#000" fill-opacity="0.13" stroke="#000" stroke-opacity="0.26" stroke-width="0.55"/>
<circle cx="373.42" cy="269.25" r="1.65" fill="#000" fill-opacity="0.13" stroke="#000" stroke-opacity="0.26" stroke-width="0.55"/>
<circle cx="373.79" cy="267.45" r="1.65" fill="#000" fill-opacity="0.13" stroke="#000" stroke-opacity="0.26" stroke-width="0.55"/>
<circle cx="374.95" cy="261.16" r="1.65" fill="#000" fill-opacity="0.13" stroke="#000" stroke-opacity="0.26" stroke-width="0.55"/>
<line x1="305.09" y1="198.46" x2="305.09" y2="257.21" stroke="#3a5583" stroke-width="1.2"/>
<line x1="305.09" y1="198.16" x2="305.09" y2="199.76" stroke="#284372" stroke-width="1.7"/>
<line x1="305.09" y1="255.91" x2="305.09" y2="257.51" stroke="#284372" stroke-width="1.7"/>
<path d="M300.89,227.83L309.29,227.83M302.12,224.86L308.06,230.80M305.09,223.63L305.09,232.03M308.06,224.86L302.12,230.80" stroke="#2c4775" stroke-width="0.9" fill="none"/>
<circle cx="305.09" cy="227.83" r="1.6" fill="#fff" fill-opacity="0.55"/>
<line x1="328.06" y1="228.41" x2="328.06" y2="285.14" stroke="#3a5583" stroke-width="1.2"/>
<line x1="328.06" y1="228.11" x2="328.06" y2="229.71" stroke="#284372" stroke-width="1.7"/>
<line x1="328.06" y1="283.84" x2="328.06" y2="285.44" stroke="#284372" stroke-width="1.7"/>
<path d="M323.86,256.92L332.26,256.92M325.09,253.95L331.03,259.89M328.06,252.72L328.06,261.12M331.03,253.95L325.09,259.89" stroke="#2c4775" stroke-width="0.95" fill="none"/>
<circle cx="328.06" cy="256.92" r="1.15" fill="#284372"/>
<line x1="351.04" y1="252.02" x2="351.04" y2="283.42" stroke="#3a5583" stroke-width="1.2"/>
<line x1="351.04" y1="251.72" x2="351.04" y2="253.32" stroke="#284372" stroke-width="1.7"/>
<line x1="351.04" y1="282.12" x2="351.04" y2="283.72" stroke="#284372" stroke-width="1.7"/>
<path d="M346.84,267.86L355.24,267.86M348.07,264.89L354.01,270.83M351.04,263.66L351.04,272.06M354.01,264.89L348.07,270.83" stroke="#2c4775" stroke-width="0.95" fill="none"/>
<circle cx="351.04" cy="267.86" r="1.15" fill="#284372"/>
<line x1="374.01" y1="245.40" x2="374.01" y2="293.50" stroke="#3a5583" stroke-width="1.2"/>
<line x1="374.01" y1="245.10" x2="374.01" y2="246.70" stroke="#284372" stroke-width="1.7"/>
<line x1="374.01" y1="292.20" x2="374.01" y2="293.80" stroke="#284372" stroke-width="1.7"/>
<path d="M369.81,269.30L378.21,269.30M371.04,266.33L376.98,272.27M374.01,265.10L374.01,273.50M376.98,266.33L371.04,272.27" stroke="#2c4775" stroke-width="0.95" fill="none"/>
<circle cx="374.01" cy="269.30" r="1.15" fill="#284372"/>
</g>
<rect x="291.30" y="193.60" width="96.50" height="103.90" fill="none" stroke="#9ba7bf" stroke-width="1"/>
<text x="399.50" y="10.70" font-size="13.2" fill="#000" font-weight="bold" textLength="7.90" lengthAdjust="spacingAndGlyphs">b</text>
<line x1="444.50" y1="31.50" x2="684.50" y2="31.50" stroke="#bdbdbd" stroke-width="0.9"/>
<line x1="684.50" y1="31.50" x2="684.50" y2="297.50" stroke="#a8a8a8" stroke-width="0.9"/>
<line x1="444.50" y1="31.50" x2="444.50" y2="297.50" stroke="#8f8f8f" stroke-width="0.9"/>
<line x1="444.50" y1="297.50" x2="684.50" y2="297.50" stroke="#8f8f8f" stroke-width="0.9"/>
<line x1="440.50" y1="34.30" x2="444.50" y2="34.30" stroke="#666" stroke-width="0.6"/>
<text x="437.20" y="37.10" font-size="8.4" fill="#333" text-anchor="end">6,000</text>
<line x1="440.50" y1="86.50" x2="444.50" y2="86.50" stroke="#666" stroke-width="0.6"/>
<text x="437.20" y="89.30" font-size="8.4" fill="#333" text-anchor="end">4,000</text>
<line x1="440.50" y1="138.70" x2="444.50" y2="138.70" stroke="#666" stroke-width="0.6"/>
<text x="437.20" y="141.50" font-size="8.4" fill="#333" text-anchor="end">2,000</text>
<line x1="440.50" y1="190.90" x2="444.50" y2="190.90" stroke="#666" stroke-width="0.6"/>
<text x="437.20" y="193.70" font-size="8.4" fill="#333" text-anchor="end">0</text>
<line x1="440.50" y1="243.10" x2="444.50" y2="243.10" stroke="#666" stroke-width="0.6"/>
<text x="437.20" y="245.90" font-size="8.4" fill="#333" text-anchor="end">-2,000</text>
<line x1="440.50" y1="295.30" x2="444.50" y2="295.30" stroke="#666" stroke-width="0.6"/>
<text x="437.20" y="298.10" font-size="8.4" fill="#333" text-anchor="end">-4,000</text>
<line x1="454.70" y1="297.50" x2="454.70" y2="301.50" stroke="#666" stroke-width="0.6"/>
<text x="454.70" y="311.20" font-size="7.9" fill="#333" text-anchor="middle">0</text>
<line x1="525.23" y1="297.50" x2="525.23" y2="301.50" stroke="#666" stroke-width="0.6"/>
<text x="525.23" y="311.20" font-size="7.9" fill="#333" text-anchor="middle">200</text>
<line x1="595.77" y1="297.50" x2="595.77" y2="301.50" stroke="#666" stroke-width="0.6"/>
<text x="595.77" y="311.20" font-size="7.9" fill="#333" text-anchor="middle">400</text>
<line x1="666.30" y1="297.50" x2="666.30" y2="301.50" stroke="#666" stroke-width="0.6"/>
<text x="666.30" y="311.20" font-size="7.9" fill="#333" text-anchor="middle">600</text>
<text x="564.40" y="322.60" font-size="9" fill="#222" text-anchor="middle" textLength="98.20" lengthAdjust="spacingAndGlyphs">Transcription factor rank</text>
<text x="407.60" y="164.30" font-size="9" fill="#222" text-anchor="middle" textLength="47.60" lengthAdjust="spacingAndGlyphs" transform="rotate(-90 407.60 164.30)">Outdegrees</text>
<path d="M457.0,42.3 L477.5,42.3" fill="none" stroke="#f0a0a8" stroke-width="0.5"/>
<path d="M457.0,60.5 L462.0,55.0 L468.0,52.6 L478.5,52.6" fill="none" stroke="#f0a0a8" stroke-width="0.5"/>
<path d="M457.5,64.8 L469.5,64.8" fill="none" stroke="#f0a0a8" stroke-width="0.5"/>
<path d="M483.8,64.2 L488.5,64.2" fill="none" stroke="#f0a0a8" stroke-width="0.5"/>
<path d="M457.5,73.0 L462.0,67.0 L467.0,64.6" fill="none" stroke="#f0a0a8" stroke-width="0.5"/>
<path d="M458.0,74.4 L475.5,74.4" fill="none" stroke="#f0a0a8" stroke-width="0.5"/>
<path d="M499.3,74.4 L501.8,74.4" fill="none" stroke="#f0a0a8" stroke-width="0.5"/>
<path d="M458.5,79.5 L464.0,83.0 L468.8,85.4" fill="none" stroke="#f0a0a8" stroke-width="0.5"/>
<path d="M484.5,85.4 L489.5,85.4" fill="none" stroke="#f0a0a8" stroke-width="0.5"/>
<path d="M458.7,80.5 L465.0,84.0 L471.0,88.6 L477.0,94.4" fill="none" stroke="#f0a0a8" stroke-width="0.5"/>
<path d="M459.5,82.0 L468.0,85.5 L476.0,90.0 L482.0,85.4" fill="none" stroke="#f0a0a8" stroke-width="0.5"/>
<path d="M495.5,96.2 L499.8,96.2" fill="none" stroke="#f0a0a8" stroke-width="0.5"/>
<path d="M494.6,96.6 L490.0,91.0 L484.0,85.5" fill="none" stroke="#f0a0a8" stroke-width="0.5"/>
<path d="M631.0,249.0 L640.0,257.0 L655.0,263.0 L671.0,264.0" fill="none" stroke="#b8bdd0" stroke-width="0.5"/>
<path d="M616.2,260.0 L621.0,262.0 L640.0,266.0 L671.0,266.0" fill="none" stroke="#b8bdd0" stroke-width="0.5"/>
<path d="M647.0,260.0 L651.0,261.0 L671.0,267.0" fill="none" stroke="#b8bdd0" stroke-width="0.5"/>
<path d="M594.6,270.6 L600.4,270.6" fill="none" stroke="#b8bdd0" stroke-width="0.5"/>
<path d="M627.6,270.6 L632.0,270.6" fill="none" stroke="#b8bdd0" stroke-width="0.5"/>
<path d="M654.2,270.6 L671.0,270.2" fill="none" stroke="#b8bdd0" stroke-width="0.5"/>
<path d="M607.5,282.0 L614.0,282.0" fill="none" stroke="#b8bdd0" stroke-width="0.5"/>
<path d="M637.8,282.0 L671.0,282.0" fill="none" stroke="#b8bdd0" stroke-width="0.5"/>
<path d="M626.0,293.0 L629.5,293.0" fill="none" stroke="#b8bdd0" stroke-width="0.5"/>
<path d="M655.5,293.0 L662.0,292.0 L668.0,289.0 L672.5,285.0" fill="none" stroke="#b8bdd0" stroke-width="0.5"/>
<path d="M655.5,292.3 L663.0,291.0 L668.5,287.5 L672.0,283.5" fill="none" stroke="#b8bdd0" stroke-width="0.5"/>
<path d="M660.0,281.0 L668.0,278.0 L672.0,271.8" fill="none" stroke="#b8bdd0" stroke-width="0.5"/>
<circle cx="455.90" cy="72.60" r="2.0" fill="#ea5255"/>
<circle cx="456.14" cy="73.74" r="2.0" fill="#ea5457"/>
<circle cx="456.47" cy="75.37" r="2.0" fill="#eb5758"/>
<circle cx="456.87" cy="77.29" r="2.0" fill="#ec5a5a"/>
<circle cx="457.30" cy="79.30" r="2.0" fill="#ec5c5c"/>
<circle cx="457.65" cy="81.01" r="2.0" fill="#ec5e5d"/>
<circle cx="458.02" cy="82.88" r="2.0" fill="#ed605e"/>
<circle cx="458.42" cy="84.83" r="2.0" fill="#ed6260"/>
<circle cx="458.85" cy="86.76" r="2.0" fill="#ee6461"/>
<circle cx="459.30" cy="88.60" r="2.0" fill="#ee6662"/>
<circle cx="459.82" cy="90.37" r="2.0" fill="#ee6763"/>
<circle cx="460.40" cy="92.13" r="2.0" fill="#ee6964"/>
<circle cx="460.99" cy="93.83" r="2.0" fill="#ef6a66"/>
<circle cx="461.54" cy="95.44" r="2.0" fill="#ef6c67"/>
<circle cx="462.00" cy="96.90" r="2.0" fill="#ef6d68"/>
<circle cx="462.56" cy="99.14" r="2.0" fill="#ef6f6a"/>
<circle cx="462.94" cy="101.08" r="2.0" fill="#f0706b"/>
<circle cx="463.20" cy="102.40" r="2.0" fill="#f0726d"/>
<circle cx="464.00" cy="107.30" r="2.0" fill="#f07470"/>
<circle cx="464.90" cy="113.20" r="2.05" fill="#f58f88"/>
<circle cx="465.25" cy="113.74" r="2.05" fill="#f59089"/>
<circle cx="465.73" cy="114.47" r="2.05" fill="#f5918a"/>
<circle cx="466.30" cy="115.33" r="2.05" fill="#f5928b"/>
<circle cx="466.91" cy="116.29" r="2.05" fill="#f6938c"/>
<circle cx="467.53" cy="117.28" r="2.05" fill="#f6948d"/>
<circle cx="468.11" cy="118.27" r="2.05" fill="#f6958e"/>
<circle cx="468.60" cy="119.20" r="2.05" fill="#f6968f"/>
<circle cx="468.99" cy="120.11" r="2.05" fill="#f69790"/>
<circle cx="469.31" cy="121.05" r="2.05" fill="#f69891"/>
<circle cx="469.59" cy="122.00" r="2.05" fill="#f69992"/>
<circle cx="469.87" cy="122.95" r="2.05" fill="#f79a93"/>
<circle cx="470.18" cy="123.88" r="2.05" fill="#f79b94"/>
<circle cx="470.54" cy="124.77" r="2.05" fill="#f79c95"/>
<circle cx="471.00" cy="125.60" r="2.05" fill="#f79d96"/>
<circle cx="471.54" cy="126.37" r="2.05" fill="#f79e97"/>
<circle cx="472.13" cy="127.09" r="2.05" fill="#f79f98"/>
<circle cx="472.76" cy="127.76" r="2.05" fill="#f7a099"/>
<circle cx="473.45" cy="128.42" r="2.05" fill="#f8a099"/>
<circle cx="474.18" cy="129.07" r="2.05" fill="#f8a19a"/>
<circle cx="474.97" cy="129.72" r="2.05" fill="#f8a29b"/>
<circle cx="475.80" cy="130.40" r="2.05" fill="#f8a39c"/>
<circle cx="476.52" cy="130.94" r="2.05" fill="#f8a49d"/>
<circle cx="477.31" cy="131.48" r="2.05" fill="#f8a59e"/>
<circle cx="478.17" cy="132.03" r="2.05" fill="#f8a59e"/>
<circle cx="479.05" cy="132.58" r="2.05" fill="#f8a69f"/>
<circle cx="479.94" cy="133.12" r="2.05" fill="#f9a7a0"/>
<circle cx="480.80" cy="133.67" r="2.05" fill="#f9a8a1"/>
<circle cx="481.62" cy="134.22" r="2.05" fill="#f9a8a1"/>
<circle cx="482.36" cy="134.76" r="2.05" fill="#f9a9a2"/>
<circle cx="483.00" cy="135.30" r="2.05" fill="#f9aaa3"/>
<circle cx="483.73" cy="136.11" r="2.05" fill="#f9aba4"/>
<circle cx="484.24" cy="136.91" r="2.05" fill="#f9aba4"/>
<circle cx="484.65" cy="137.71" r="2.05" fill="#f9aca5"/>
<circle cx="485.06" cy="138.50" r="2.05" fill="#f9ada6"/>
<circle cx="485.57" cy="139.30" r="2.05" fill="#f9ada6"/>
<circle cx="486.30" cy="140.10" r="2.05" fill="#f9aea7"/>
<circle cx="486.92" cy="140.64" r="2.05" fill="#f9afa8"/>
<circle cx="487.59" cy="141.18" r="2.05" fill="#f9afa8"/>
<circle cx="488.32" cy="141.73" r="2.05" fill="#f9b0a9"/>
<circle cx="489.10" cy="142.28" r="2.05" fill="#f9b1aa"/>
<circle cx="489.92" cy="142.82" r="2.05" fill="#fab1aa"/>
<circle cx="490.78" cy="143.36" r="2.05" fill="#fab2ab"/>
<circle cx="491.66" cy="143.89" r="2.05" fill="#fab3ac"/>
<circle cx="492.57" cy="144.40" r="2.05" fill="#fab3ac"/>
<circle cx="493.50" cy="144.90" r="2.05" fill="#fab4ad"/>
<circle cx="494.29" cy="145.30" r="2.05" fill="#fab5ae"/>
<circle cx="495.14" cy="145.69" r="2.05" fill="#fab5ae"/>
<circle cx="496.03" cy="146.07" r="2.05" fill="#fab6af"/>
<circle cx="496.95" cy="146.45" r="2.05" fill="#fab7b0"/>
<circle cx="497.88" cy="146.82" r="2.05" fill="#fab7b1"/>
<circle cx="498.82" cy="147.18" r="2.05" fill="#fab8b1"/>
<circle cx="499.74" cy="147.54" r="2.05" fill="#fab8b2"/>
<circle cx="500.65" cy="147.89" r="2.05" fill="#fab9b3"/>
<circle cx="501.52" cy="148.23" r="2.05" fill="#fabab4"/>
<circle cx="502.34" cy="148.57" r="2.05" fill="#fabab4"/>
<circle cx="503.10" cy="148.90" r="2.05" fill="#fabbb5"/>
<circle cx="504.15" cy="149.39" r="2.05" fill="#fabcb6"/>
<circle cx="505.07" cy="149.85" r="2.05" fill="#fabdb7"/>
<circle cx="505.90" cy="150.29" r="2.05" fill="#fabeb8"/>
<circle cx="506.70" cy="150.71" r="2.05" fill="#fbbeb8"/>
<circle cx="507.53" cy="151.15" r="2.05" fill="#fbbfb9"/>
<circle cx="508.45" cy="151.61" r="2.05" fill="#fbc0ba"/>
<circle cx="509.50" cy="152.10" r="2.05" fill="#fbc1bb"/>
<circle cx="510.25" cy="152.43" r="2.05" fill="#fbc2bc"/>
<circle cx="511.05" cy="152.76" r="2.05" fill="#fbc2bc"/>
<circle cx="511.89" cy="153.09" r="2.05" fill="#fbc3bd"/>
<circle cx="512.76" cy="153.43" r="2.05" fill="#fbc3be"/>
<circle cx="513.65" cy="153.77" r="2.05" fill="#fbc4be"/>
<circle cx="514.56" cy="154.13" r="2.05" fill="#fbc4bf"/>
<circle cx="515.47" cy="154.49" r="2.05" fill="#fbc5bf"/>
<circle cx="516.40" cy="154.87" r="2.05" fill="#fbc5c0"/>
<circle cx="517.31" cy="155.26" r="2.05" fill="#fbc6c1"/>
<circle cx="518.22" cy="155.67" r="2.05" fill="#fbc6c1"/>
<circle cx="519.10" cy="156.10" r="2.05" fill="#fbc7c2"/>
<circle cx="519.90" cy="156.51" r="2.05" fill="#fbc8c3"/>
<circle cx="520.69" cy="156.92" r="2.05" fill="#fbc8c3"/>
<circle cx="521.48" cy="157.35" r="2.05" fill="#fbc9c4"/>
<circle cx="522.27" cy="157.80" r="2.05" fill="#fbc9c4"/>
<circle cx="523.05" cy="158.25" r="2.05" fill="#fbcac5"/>
<circle cx="523.84" cy="158.71" r="2.05" fill="#fccac6"/>
<circle cx="524.64" cy="159.19" r="2.05" fill="#fccbc6"/>
<circle cx="525.43" cy="159.67" r="2.05" fill="#fcccc7"/>
<circle cx="526.24" cy="160.16" r="2.05" fill="#fcccc7"/>
<circle cx="527.05" cy="160.67" r="2.05" fill="#fccdc8"/>
<circle cx="527.87" cy="161.18" r="2.05" fill="#fccdc8"/>
<circle cx="528.70" cy="161.70" r="2.05" fill="#fccec9"/>
<circle cx="529.43" cy="162.16" r="2.05" fill="#fccfca"/>
<circle cx="530.18" cy="162.64" r="2.05" fill="#fcd0cb"/>
<circle cx="530.95" cy="163.13" r="2.05" fill="#fcd0cc"/>
<circle cx="531.74" cy="163.63" r="2.05" fill="#fcd1cc"/>
<circle cx="532.53" cy="164.14" r="2.05" fill="#fcd2cd"/>
<circle cx="533.32" cy="164.66" r="2.05" fill="#fcd3ce"/>
<circle cx="534.11" cy="165.18" r="2.05" fill="#fcd4cf"/>
<circle cx="534.90" cy="165.70" r="2.05" fill="#fcd4d0"/>
<circle cx="535.67" cy="166.22" r="2.05" fill="#fcd5d1"/>
<circle cx="536.43" cy="166.74" r="2.05" fill="#fcd6d2"/>
<circle cx="537.17" cy="167.25" r="2.05" fill="#fcd7d2"/>
<circle cx="537.88" cy="167.75" r="2.05" fill="#fcd7d3"/>
<circle cx="538.56" cy="168.23" r="2.05" fill="#fcd8d4"/>
<circle cx="539.20" cy="168.70" r="2.05" fill="#fcd9d5"/>
<circle cx="540.04" cy="169.33" r="2.05" fill="#fcdad6"/>
<circle cx="540.84" cy="169.93" r="2.05" fill="#fcdbd7"/>
<circle cx="541.58" cy="170.50" r="2.05" fill="#fcdcd8"/>
<circle cx="542.29" cy="171.07" r="2.05" fill="#fcddd9"/>
<circle cx="542.96" cy="171.62" r="2.05" fill="#fcdeda"/>
<circle cx="543.62" cy="172.18" r="2.05" fill="#fddfdc"/>
<circle cx="544.26" cy="172.75" r="2.05" fill="#fde0dd"/>
<circle cx="544.90" cy="173.34" r="2.05" fill="#fde1de"/>
<circle cx="545.54" cy="173.95" r="2.05" fill="#fde2df"/>
<circle cx="546.20" cy="174.60" r="2.05" fill="#fde3e0"/>
<circle cx="546.87" cy="175.27" r="2.05" fill="#fde4e1"/>
<circle cx="547.53" cy="175.96" r="2.05" fill="#fde5e2"/>
<circle cx="548.19" cy="176.66" r="2.05" fill="#fde6e4"/>
<circle cx="548.85" cy="177.38" r="2.05" fill="#fde7e5"/>
<circle cx="549.49" cy="178.11" r="2.05" fill="#fee8e6"/>
<circle cx="550.13" cy="178.85" r="2.05" fill="#feeae7"/>
<circle cx="550.75" cy="179.62" r="2.05" fill="#feebe8"/>
<circle cx="551.35" cy="180.39" r="2.05" fill="#feecea"/>
<circle cx="551.94" cy="181.19" r="2.05" fill="#feedeb"/>
<circle cx="552.50" cy="182.00" r="2.05" fill="#feeeec"/>
<circle cx="552.99" cy="182.76" r="2.05" fill="#feefed"/>
<circle cx="553.46" cy="183.56" r="2.05" fill="#fef0ee"/>
<circle cx="553.92" cy="184.38" r="2.05" fill="#fdf1ef"/>
<circle cx="554.36" cy="185.22" r="2.05" fill="#fdf2f0"/>
<circle cx="554.80" cy="186.07" r="2.05" fill="#fdf3f1"/>
<circle cx="555.21" cy="186.92" r="2.05" fill="#fdf3f3"/>
<circle cx="555.62" cy="187.77" r="2.05" fill="#fdf4f4"/>
<circle cx="556.03" cy="188.61" r="2.05" fill="#fdf5f5"/>
<circle cx="556.42" cy="189.43" r="2.05" fill="#fcf6f6"/>
<circle cx="556.81" cy="190.23" r="2.05" fill="#fcf7f7"/>
<circle cx="557.20" cy="191.00" r="2.05" fill="#fcf8f8"/>
<circle cx="557.66" cy="191.90" r="2.05" fill="#faf7f7"/>
<circle cx="558.09" cy="192.79" r="2.05" fill="#f9f6f7"/>
<circle cx="558.51" cy="193.65" r="2.05" fill="#f7f5f6"/>
<circle cx="558.91" cy="194.49" r="2.05" fill="#f6f4f6"/>
<circle cx="559.31" cy="195.32" r="2.05" fill="#f4f4f5"/>
<circle cx="559.71" cy="196.13" r="2.05" fill="#f3f3f5"/>
<circle cx="560.13" cy="196.93" r="1.85" fill="#f1f2f4"/>
<circle cx="560.55" cy="197.72" r="1.85" fill="#f0f1f4"/>
<circle cx="561.00" cy="198.50" r="1.85" fill="#eef0f3"/>
<circle cx="561.51" cy="199.37" r="1.85" fill="#edeff2"/>
<circle cx="562.03" cy="200.22" r="1.85" fill="#ebedf1"/>
<circle cx="562.54" cy="201.05" r="1.85" fill="#eaecf0"/>
<circle cx="563.08" cy="201.87" r="1.85" fill="#e8eaf0"/>
<circle cx="563.63" cy="202.67" r="1.85" fill="#e7e9ef"/>
<circle cx="564.21" cy="203.46" r="1.85" fill="#e6e8ee"/>
<circle cx="564.83" cy="204.24" r="1.85" fill="#e4e6ed"/>
<circle cx="565.50" cy="205.00" r="1.85" fill="#e3e5ec"/>
<circle cx="566.14" cy="205.67" r="1.85" fill="#e2e4eb"/>
<circle cx="566.82" cy="206.33" r="1.85" fill="#e1e3ea"/>
<circle cx="567.53" cy="206.97" r="1.85" fill="#e0e2ea"/>
<circle cx="568.26" cy="207.61" r="1.85" fill="#dfe1e9"/>
<circle cx="569.02" cy="208.24" r="1.85" fill="#dde0e8"/>
<circle cx="569.79" cy="208.85" r="1.85" fill="#dcdfe7"/>
<circle cx="570.56" cy="209.45" r="1.85" fill="#dbdee7"/>
<circle cx="571.33" cy="210.03" r="1.85" fill="#dadde6"/>
<circle cx="572.10" cy="210.60" r="1.85" fill="#d9dce5"/>
<circle cx="572.84" cy="211.14" r="1.85" fill="#d8dbe4"/>
<circle cx="573.57" cy="211.64" r="1.85" fill="#d7dae3"/>
<circle cx="574.28" cy="212.11" r="1.85" fill="#d6d9e3"/>
<circle cx="575.00" cy="212.58" r="1.85" fill="#d5d8e2"/>
<circle cx="575.74" cy="213.04" r="1.85" fill="#d4d8e1"/>
<circle cx="576.51" cy="213.51" r="1.85" fill="#d3d7e0"/>
<circle cx="577.34" cy="214.00" r="1.85" fill="#d2d6e0"/>
<circle cx="578.23" cy="214.53" r="1.85" fill="#d1d5df"/>
<circle cx="579.20" cy="215.10" r="1.85" fill="#d0d4de"/>
<circle cx="579.87" cy="215.49" r="1.85" fill="#cfd3de"/>
<circle cx="580.56" cy="215.90" r="1.85" fill="#cfd3dd"/>
<circle cx="581.27" cy="216.33" r="1.85" fill="#ced2dc"/>
<circle cx="582.01" cy="216.76" r="1.85" fill="#ced2dc"/>
<circle cx="582.77" cy="217.21" r="1.85" fill="#cdd1dc"/>
<circle cx="583.55" cy="217.66" r="1.85" fill="#cdd1db"/>
<circle cx="584.34" cy="218.13" r="1.85" fill="#ccd0da"/>
<circle cx="585.16" cy="218.59" r="1.85" fill="#cbcfda"/>
<circle cx="586.00" cy="219.06" r="1.85" fill="#cbcfda"/>
<circle cx="586.85" cy="219.53" r="1.85" fill="#caced9"/>
<circle cx="587.71" cy="220.00" r="1.85" fill="#caced8"/>
<circle cx="588.60" cy="220.47" r="1.85" fill="#c9cdd8"/>
<circle cx="589.49" cy="220.94" r="1.85" fill="#c9cdd8"/>
<circle cx="590.40" cy="221.40" r="1.85" fill="#c8ccd7"/>
<circle cx="591.17" cy="221.78" r="1.85" fill="#c7ccd7"/>
<circle cx="591.96" cy="222.16" r="1.85" fill="#c7cbd6"/>
<circle cx="592.78" cy="222.55" r="1.85" fill="#c6cbd6"/>
<circle cx="593.61" cy="222.94" r="1.85" fill="#c6cad6"/>
<circle cx="594.47" cy="223.33" r="1.85" fill="#c5cad5"/>
<circle cx="595.33" cy="223.73" r="1.85" fill="#c5c9d5"/>
<circle cx="596.21" cy="224.12" r="1.85" fill="#c4c9d5"/>
<circle cx="597.09" cy="224.52" r="1.85" fill="#c4c8d4"/>
<circle cx="597.98" cy="224.91" r="1.85" fill="#c3c8d4"/>
<circle cx="598.87" cy="225.30" r="1.85" fill="#c3c7d3"/>
<circle cx="599.75" cy="225.69" r="1.85" fill="#c2c7d3"/>
<circle cx="600.63" cy="226.07" r="2.05" fill="#c2c6d3"/>
<circle cx="601.50" cy="226.45" r="2.05" fill="#c1c6d2"/>
<circle cx="602.35" cy="226.82" r="2.05" fill="#c1c5d2"/>
<circle cx="603.19" cy="227.19" r="2.05" fill="#c0c5d2"/>
<circle cx="604.01" cy="227.55" r="2.05" fill="#c0c4d1"/>
<circle cx="604.80" cy="227.90" r="2.05" fill="#bfc4d1"/>
<circle cx="605.74" cy="228.31" r="2.05" fill="#bec3d0"/>
<circle cx="606.65" cy="228.72" r="2.05" fill="#bec3d0"/>
<circle cx="607.54" cy="229.11" r="2.05" fill="#bdc2d0"/>
<circle cx="608.41" cy="229.49" r="2.05" fill="#bcc1cf"/>
<circle cx="609.27" cy="229.87" r="2.05" fill="#bbc1ce"/>
<circle cx="610.11" cy="230.23" r="2.05" fill="#bbc0ce"/>
<circle cx="610.96" cy="230.60" r="2.05" fill="#bac0ce"/>
<circle cx="611.80" cy="230.96" r="2.05" fill="#b9bfcd"/>
<circle cx="612.64" cy="231.33" r="2.05" fill="#b9becc"/>
<circle cx="613.48" cy="231.69" r="2.05" fill="#b8becc"/>
<circle cx="614.34" cy="232.06" r="2.05" fill="#b7bdcc"/>
<circle cx="615.21" cy="232.43" r="2.05" fill="#b6bccb"/>
<circle cx="616.09" cy="232.81" r="2.05" fill="#b6bcca"/>
<circle cx="617.00" cy="233.20" r="2.05" fill="#b5bbca"/>
<circle cx="617.81" cy="233.55" r="2.05" fill="#b4baca"/>
<circle cx="618.64" cy="233.90" r="2.05" fill="#b4bac9"/>
<circle cx="619.49" cy="234.26" r="2.05" fill="#b3b9c8"/>
<circle cx="620.34" cy="234.62" r="2.05" fill="#b2b8c8"/>
<circle cx="621.21" cy="234.99" r="2.05" fill="#b1b8c8"/>
<circle cx="622.08" cy="235.36" r="2.05" fill="#b0b7c7"/>
<circle cx="622.95" cy="235.73" r="2.05" fill="#b0b6c6"/>
<circle cx="623.83" cy="236.09" r="2.05" fill="#afb6c6"/>
<circle cx="624.70" cy="236.46" r="2.05" fill="#aeb5c6"/>
<circle cx="625.56" cy="236.83" r="2.05" fill="#aeb4c5"/>
<circle cx="626.42" cy="237.19" r="2.05" fill="#adb3c4"/>
<circle cx="627.27" cy="237.54" r="2.05" fill="#acb3c4"/>
<circle cx="628.10" cy="237.89" r="2.05" fill="#abb2c4"/>
<circle cx="628.92" cy="238.24" r="2.05" fill="#aab1c3"/>
<circle cx="629.72" cy="238.57" r="2.05" fill="#aab1c2"/>
<circle cx="630.50" cy="238.90" r="2.05" fill="#a9b0c2"/>
<circle cx="631.43" cy="239.29" r="2.05" fill="#a8afc1"/>
<circle cx="632.33" cy="239.67" r="2.05" fill="#a7aec1"/>
<circle cx="633.21" cy="240.04" r="2.05" fill="#a6adc0"/>
<circle cx="634.07" cy="240.40" r="2.05" fill="#a5acbf"/>
<circle cx="634.91" cy="240.75" r="2.05" fill="#a4abbf"/>
<circle cx="635.74" cy="241.10" r="2.05" fill="#a3aabe"/>
<circle cx="636.57" cy="241.45" r="2.05" fill="#a2aabd"/>
<circle cx="637.38" cy="241.79" r="2.05" fill="#a1a9bc"/>
<circle cx="638.20" cy="242.13" r="2.05" fill="#a0a8bc"/>
<circle cx="639.01" cy="242.47" r="2.05" fill="#9fa7bb"/>
<circle cx="639.83" cy="242.81" r="2.05" fill="#9ea6ba"/>
<circle cx="640.66" cy="243.15" r="2.05" fill="#9da5ba"/>
<circle cx="641.50" cy="243.50" r="2.05" fill="#9ca4b9"/>
<circle cx="642.35" cy="243.85" r="2.05" fill="#9ba3b8"/>
<circle cx="643.22" cy="244.20" r="2.05" fill="#9aa2b7"/>
<circle cx="644.09" cy="244.55" r="2.05" fill="#99a1b6"/>
<circle cx="644.97" cy="244.89" r="2.05" fill="#97a0b6"/>
<circle cx="645.84" cy="245.24" r="2.05" fill="#969fb5"/>
<circle cx="646.72" cy="245.58" r="2.05" fill="#959eb4"/>
<circle cx="647.59" cy="245.93" r="2.05" fill="#949cb3"/>
<circle cx="648.45" cy="246.27" r="2.05" fill="#939bb2"/>
<circle cx="649.30" cy="246.62" r="2.05" fill="#929ab1"/>
<circle cx="650.13" cy="246.96" r="2.05" fill="#9099b1"/>
<circle cx="650.95" cy="247.31" r="2.05" fill="#8f98b0"/>
<circle cx="651.74" cy="247.65" r="2.05" fill="#8e97af"/>
<circle cx="652.50" cy="248.00" r="2.05" fill="#8d96ae"/>
<circle cx="653.46" cy="248.45" r="2.05" fill="#8c95ad"/>
<circle cx="654.40" cy="248.90" r="2.05" fill="#8a93ac"/>
<circle cx="655.31" cy="249.34" r="2.05" fill="#8992ab"/>
<circle cx="656.20" cy="249.79" r="2.05" fill="#8791aa"/>
<circle cx="657.06" cy="250.24" r="2.05" fill="#8690a8"/>
<circle cx="657.89" cy="250.69" r="2.05" fill="#858ea7"/>
<circle cx="658.71" cy="251.14" r="2.05" fill="#838da6"/>
<circle cx="659.49" cy="251.59" r="2.05" fill="#828ca5"/>
<circle cx="660.26" cy="252.04" r="2.05" fill="#808aa4"/>
<circle cx="661.00" cy="252.50" r="2.05" fill="#7f89a3"/>
<circle cx="661.89" cy="253.07" r="2.05" fill="#7e88a2"/>
<circle cx="662.75" cy="253.62" r="2.05" fill="#7c86a0"/>
<circle cx="663.56" cy="254.18" r="2.05" fill="#7a849f"/>
<circle cx="664.34" cy="254.74" r="2.05" fill="#79839e"/>
<circle cx="665.08" cy="255.31" r="2.05" fill="#78829d"/>
<circle cx="665.79" cy="255.91" r="2.05" fill="#76809c"/>
<circle cx="666.46" cy="256.53" r="2.05" fill="#747e9a"/>
<circle cx="667.10" cy="257.20" r="2.05" fill="#737d99"/>
<circle cx="667.71" cy="257.91" r="2.05" fill="#727c98"/>
<circle cx="668.28" cy="258.65" r="2.05" fill="#717b97"/>
<circle cx="668.82" cy="259.43" r="2.05" fill="#707a96"/>
<circle cx="669.33" cy="260.23" r="2.05" fill="#6e7996"/>
<circle cx="669.80" cy="261.04" r="2.05" fill="#6d7895"/>
<circle cx="670.24" cy="261.86" r="2.05" fill="#6c7794"/>
<circle cx="670.64" cy="262.68" r="2.05" fill="#6b7693"/>
<circle cx="671.00" cy="263.50" r="2.05" fill="#6a7592"/>
<circle cx="671.36" cy="264.49" r="2.05" fill="#697491"/>
<circle cx="671.67" cy="265.58" r="2.05" fill="#697491"/>
<circle cx="671.93" cy="266.70" r="2.05" fill="#687390"/>
<circle cx="672.15" cy="267.78" r="2.05" fill="#677290"/>
<circle cx="672.33" cy="268.76" r="2.05" fill="#66718f"/>
<circle cx="672.48" cy="269.59" r="2.05" fill="#66718f"/>
<circle cx="672.60" cy="270.20" r="2.05" fill="#65708e"/>
<circle cx="672.40" cy="281.00" r="2.05" fill="#5f6a89"/>
<circle cx="672.52" cy="282.10" r="2.05" fill="#5f6a89"/>
<circle cx="672.80" cy="283.50" r="2.05" fill="#5f6a89"/>
<circle cx="673.42" cy="284.86" r="2.05" fill="#5f6a89"/>
<circle cx="674.00" cy="285.90" r="2.05" fill="#5f6a89"/>
<circle cx="455.1" cy="43.0" r="1.9" fill="#d7143c"/>
<circle cx="455.8" cy="60.5" r="1.85" fill="#df2e45"/>
<circle cx="455.8" cy="64.8" r="1.85" fill="#e03448"/>
<text x="478.50" y="44.10" font-size="7.4" fill="#dc2a48" textLength="26.40" lengthAdjust="spacingAndGlyphs">ZNF770</text>
<text x="480.10" y="55.10" font-size="7.4" fill="#e04a5e" textLength="13.20" lengthAdjust="spacingAndGlyphs">SP2</text>
<text x="470.50" y="66.10" font-size="7.4" fill="#e04a5e" textLength="12.10" lengthAdjust="spacingAndGlyphs">SP1</text>
<text x="489.50" y="66.10" font-size="7.4" fill="#e04a5e" textLength="13.70" lengthAdjust="spacingAndGlyphs">SP3</text>
<text x="476.60" y="76.50" font-size="7.4" fill="#ec7a82" textLength="21.90" lengthAdjust="spacingAndGlyphs">PATZ1</text>
<text x="502.70" y="76.50" font-size="7.4" fill="#ec7a82" textLength="15.10" lengthAdjust="spacingAndGlyphs">MAZ</text>
<text x="469.70" y="87.50" font-size="7.4" fill="#ec7a82" textLength="13.70" lengthAdjust="spacingAndGlyphs">WT1</text>
<text x="490.30" y="87.50" font-size="7.4" fill="#ec7a82" textLength="17.90" lengthAdjust="spacingAndGlyphs">PAX5</text>
<text x="477.40" y="98.50" font-size="7.4" fill="#ec7a82" textLength="17.00" lengthAdjust="spacingAndGlyphs">KLF3</text>
<text x="500.70" y="98.50" font-size="7.4" fill="#ec7a82" textLength="19.00" lengthAdjust="spacingAndGlyphs">KLF15</text>
<text x="612.30" y="251.20" font-size="7.4" fill="#9097b0" textLength="17.80" lengthAdjust="spacingAndGlyphs">VSX2</text>
<text x="588.90" y="262.20" font-size="7.4" fill="#9097b0" textLength="26.10" lengthAdjust="spacingAndGlyphs">ZNF586</text>
<text x="620.50" y="262.20" font-size="7.4" fill="#9097b0" textLength="25.50" lengthAdjust="spacingAndGlyphs">HOMEZ</text>
<text x="575.20" y="272.60" font-size="7.4" fill="#9097b0" textLength="18.70" lengthAdjust="spacingAndGlyphs">GLIS1</text>
<text x="601.30" y="272.60" font-size="7.4" fill="#9097b0" textLength="25.50" lengthAdjust="spacingAndGlyphs">ZNF250</text>
<text x="632.80" y="272.60" font-size="7.4" fill="#9097b0" textLength="20.60" lengthAdjust="spacingAndGlyphs">ZBED1</text>
<text x="586.20" y="284.20" font-size="7.4" fill="#9097b0" textLength="20.60" lengthAdjust="spacingAndGlyphs">SOX11</text>
<text x="615.00" y="284.20" font-size="7.4" fill="#9097b0" textLength="22.00" lengthAdjust="spacingAndGlyphs">BCL6B</text>
<text x="597.70" y="295.10" font-size="7.4" fill="#9097b0" textLength="27.70" lengthAdjust="spacingAndGlyphs">ZNF490</text>
<text x="630.10" y="295.10" font-size="7.4" fill="#9097b0" textLength="24.70" lengthAdjust="spacingAndGlyphs">ZNF146</text>
<text x="-0.30" y="341.80" font-size="13.2" fill="#000" font-weight="bold" textLength="7.40" lengthAdjust="spacingAndGlyphs">c</text>
<rect x="118.90" y="347.20" width="115.66" height="9.40" fill="#d6002c" stroke="none" stroke-width="1"/>
<line x1="111.00" y1="352.00" x2="113.40" y2="352.00" stroke="#444" stroke-width="0.6"/>
<text x="107.00" y="354.00" font-size="7.9" fill="#222" text-anchor="end" textLength="50.20" lengthAdjust="spacingAndGlyphs">Mitotic spindle</text>
<rect x="118.90" y="358.00" width="106.41" height="9.40" fill="#ee8a80" stroke="none" stroke-width="1"/>
<line x1="111.00" y1="362.60" x2="113.40" y2="362.60" stroke="#444" stroke-width="0.6"/>
<text x="107.00" y="364.60" font-size="7.9" fill="#222" text-anchor="end" textLength="79.30" lengthAdjust="spacingAndGlyphs">Ultraviolet response Dn</text>
<rect x="118.90" y="369.00" width="96.22" height="9.30" fill="#f6c6c2" stroke="none" stroke-width="1"/>
<line x1="111.00" y1="373.30" x2="113.40" y2="373.30" stroke="#444" stroke-width="0.6"/>
<text x="107.00" y="375.30" font-size="7.9" fill="#222" text-anchor="end" textLength="68.50" lengthAdjust="spacingAndGlyphs">Hedgehog signaling</text>
<rect x="118.90" y="379.60" width="91.48" height="9.30" fill="#f6cdca" stroke="none" stroke-width="1"/>
<line x1="111.00" y1="383.90" x2="113.40" y2="383.90" stroke="#444" stroke-width="0.6"/>
<text x="107.00" y="385.90" font-size="7.9" fill="#222" text-anchor="end" textLength="80.50" lengthAdjust="spacingAndGlyphs">Wnt/β catenin signaling</text>
<rect x="118.90" y="390.30" width="86.74" height="9.30" fill="#f4b4b0" stroke="none" stroke-width="1"/>
<line x1="111.00" y1="394.90" x2="113.40" y2="394.90" stroke="#444" stroke-width="0.6"/>
<text x="107.00" y="396.90" font-size="7.9" fill="#222" text-anchor="end" textLength="50.70" lengthAdjust="spacingAndGlyphs">Apical junction</text>
<rect x="118.90" y="401.00" width="81.53" height="9.30" fill="#f6cac7" stroke="none" stroke-width="1"/>
<line x1="111.00" y1="405.40" x2="113.40" y2="405.40" stroke="#444" stroke-width="0.6"/>
<text x="107.00" y="407.40" font-size="7.9" fill="#222" text-anchor="end" textLength="39.60" lengthAdjust="spacingAndGlyphs">Myogenesis</text>
<rect x="113.40" y="345.60" width="126.90" height="65.60" fill="none" stroke="#a3a3a3" stroke-width="0.9"/>
<line x1="118.90" y1="411.20" x2="118.90" y2="413.40" stroke="#444" stroke-width="0.6"/>
<text x="118.90" y="423.50" font-size="8.0" fill="#333" text-anchor="middle">0</text>
<line x1="142.60" y1="411.20" x2="142.60" y2="413.40" stroke="#444" stroke-width="0.6"/>
<text x="142.60" y="423.50" font-size="8.0" fill="#333" text-anchor="middle">0.5</text>
<line x1="166.30" y1="411.20" x2="166.30" y2="413.40" stroke="#444" stroke-width="0.6"/>
<text x="166.30" y="423.50" font-size="8.0" fill="#333" text-anchor="middle">1.0</text>
<line x1="190.00" y1="411.20" x2="190.00" y2="413.40" stroke="#444" stroke-width="0.6"/>
<text x="190.00" y="423.50" font-size="8.0" fill="#333" text-anchor="middle">1.5</text>
<line x1="213.70" y1="411.20" x2="213.70" y2="413.40" stroke="#444" stroke-width="0.6"/>
<text x="213.70" y="423.50" font-size="8.0" fill="#333" text-anchor="middle">2.0</text>
<line x1="237.40" y1="411.20" x2="237.40" y2="413.40" stroke="#444" stroke-width="0.6"/>
<text x="237.40" y="423.50" font-size="8.0" fill="#333" text-anchor="middle">2.5</text>
<text x="177.00" y="434.60" font-size="9" fill="#222" text-anchor="middle">NES</text>
<text x="17.70" y="379.00" font-size="9" fill="#222" text-anchor="middle" textLength="39.20" lengthAdjust="spacingAndGlyphs" transform="rotate(-90 17.70 379.00)">Hallmarks</text>
<defs><linearGradient id="gc" x1="0" y1="1" x2="0" y2="0"><stop offset="0" stop-color="#efefef"/><stop offset="0.35" stop-color="#f1b2b0"/><stop offset="0.7" stop-color="#e86168"/><stop offset="1" stop-color="#d9162f"/></linearGradient><linearGradient id="gd" x1="0" y1="1" x2="0" y2="0"><stop offset="0" stop-color="#eceef2"/><stop offset="0.3" stop-color="#b6bdcd"/><stop offset="0.65" stop-color="#6b7a98"/><stop offset="1" stop-color="#1f3560"/></linearGradient></defs>
<rect x="253.00" y="352.00" width="14.20" height="68.70" fill="url(#gc)" stroke="none" stroke-width="1"/>
<line x1="253.00" y1="373.40" x2="255.60" y2="373.40" stroke="#fff" stroke-width="0.6"/>
<line x1="264.60" y1="373.40" x2="267.20" y2="373.40" stroke="#fff" stroke-width="0.6"/>
<text x="270.40" y="376.10" font-size="7.7" fill="#333">10</text>
<line x1="253.00" y1="396.90" x2="255.60" y2="396.90" stroke="#fff" stroke-width="0.6"/>
<line x1="264.60" y1="396.90" x2="267.20" y2="396.90" stroke="#fff" stroke-width="0.6"/>
<text x="270.40" y="399.60" font-size="7.7" fill="#333">5</text>
<text x="270.40" y="423.40" font-size="7.7" fill="#333">0</text>
<text x="253.5" y="345.0" font-size="8.8" fill="#222">-log<tspan font-size="6.2" dy="2">10</tspan><tspan dy="-2" font-style="italic">P</tspan></text>
<text x="354.60" y="341.70" font-size="13.2" fill="#000" font-weight="bold" textLength="7.80" lengthAdjust="spacingAndGlyphs">d</text>
<rect x="516.30" y="347.20" width="80.30" height="11.30" fill="#bcc2ce" stroke="none" stroke-width="1"/>
<line x1="473.20" y1="352.90" x2="475.60" y2="352.90" stroke="#444" stroke-width="0.6"/>
<text x="469.50" y="355.20" font-size="7.8" fill="#222" text-anchor="end" textLength="75.10" lengthAdjust="spacingAndGlyphs">Fatty acid metabolism</text>
<rect x="511.00" y="360.00" width="85.60" height="11.70" fill="#a5adbf" stroke="none" stroke-width="1"/>
<line x1="473.20" y1="366.00" x2="475.60" y2="366.00" stroke="#444" stroke-width="0.6"/>
<text x="469.50" y="368.30" font-size="7.8" fill="#222" text-anchor="end" textLength="99.80" lengthAdjust="spacingAndGlyphs">TNF-alpha signaling via NF-κB</text>
<rect x="501.60" y="372.90" width="95.00" height="11.70" fill="#a9b1c2" stroke="none" stroke-width="1"/>
<line x1="473.20" y1="378.90" x2="475.60" y2="378.90" stroke="#444" stroke-width="0.6"/>
<text x="469.50" y="381.20" font-size="7.8" fill="#222" text-anchor="end" textLength="50.70" lengthAdjust="spacingAndGlyphs">Myc targets V2</text>
<rect x="488.10" y="386.00" width="108.50" height="11.10" fill="#3e5078" stroke="none" stroke-width="1"/>
<line x1="473.20" y1="391.50" x2="475.60" y2="391.50" stroke="#444" stroke-width="0.6"/>
<text x="469.50" y="393.80" font-size="7.8" fill="#222" text-anchor="end" textLength="89.60" lengthAdjust="spacingAndGlyphs">Oxidative phosphorylation</text>
<rect x="481.00" y="398.30" width="115.60" height="11.70" fill="#1c335c" stroke="none" stroke-width="1"/>
<line x1="473.20" y1="404.10" x2="475.60" y2="404.10" stroke="#444" stroke-width="0.6"/>
<text x="469.50" y="406.40" font-size="7.8" fill="#222" text-anchor="end" textLength="49.40" lengthAdjust="spacingAndGlyphs">Myc targets V1</text>
<rect x="475.60" y="345.40" width="126.50" height="65.80" fill="none" stroke="#a3a3a3" stroke-width="0.9"/>
<line x1="493.60" y1="411.20" x2="493.60" y2="413.40" stroke="#444" stroke-width="0.6"/>
<text x="493.60" y="424.30" font-size="8.0" fill="#333" text-anchor="middle">−2.0</text>
<line x1="519.35" y1="411.20" x2="519.35" y2="413.40" stroke="#444" stroke-width="0.6"/>
<text x="519.35" y="424.30" font-size="8.0" fill="#333" text-anchor="middle">−1.5</text>
<line x1="545.10" y1="411.20" x2="545.10" y2="413.40" stroke="#444" stroke-width="0.6"/>
<text x="545.10" y="424.30" font-size="8.0" fill="#333" text-anchor="middle">−1.0</text>
<line x1="570.85" y1="411.20" x2="570.85" y2="413.40" stroke="#444" stroke-width="0.6"/>
<text x="570.85" y="424.30" font-size="8.0" fill="#333" text-anchor="middle">−0.5</text>
<line x1="596.60" y1="411.20" x2="596.60" y2="413.40" stroke="#444" stroke-width="0.6"/>
<text x="596.60" y="424.30" font-size="8.0" fill="#333" text-anchor="middle">0</text>
<text x="539.00" y="435.30" font-size="9" fill="#222" text-anchor="middle">NES</text>
<text x="362.20" y="378.90" font-size="9" fill="#222" text-anchor="middle" textLength="39.20" lengthAdjust="spacingAndGlyphs" transform="rotate(-90 362.20 378.90)">Hallmarks</text>
<rect x="615.00" y="352.00" width="14.40" height="69.00" fill="url(#gd)" stroke="none" stroke-width="1"/>
<line x1="615.00" y1="356.40" x2="617.60" y2="356.40" stroke="#fff" stroke-width="0.6"/>
<line x1="626.80" y1="356.40" x2="629.40" y2="356.40" stroke="#fff" stroke-width="0.6"/>
<text x="633.00" y="359.10" font-size="7.7" fill="#333">10.0</text>
<line x1="615.00" y1="372.70" x2="617.60" y2="372.70" stroke="#fff" stroke-width="0.6"/>
<line x1="626.80" y1="372.70" x2="629.40" y2="372.70" stroke="#fff" stroke-width="0.6"/>
<text x="633.00" y="375.40" font-size="7.7" fill="#333">7.5</text>
<line x1="615.00" y1="388.70" x2="617.60" y2="388.70" stroke="#fff" stroke-width="0.6"/>
<line x1="626.80" y1="388.70" x2="629.40" y2="388.70" stroke="#fff" stroke-width="0.6"/>
<text x="633.00" y="391.40" font-size="7.7" fill="#333">5.0</text>
<line x1="615.00" y1="404.70" x2="617.60" y2="404.70" stroke="#fff" stroke-width="0.6"/>
<line x1="626.80" y1="404.70" x2="629.40" y2="404.70" stroke="#fff" stroke-width="0.6"/>
<text x="633.00" y="407.40" font-size="7.7" fill="#333">2.5</text>
<text x="633.00" y="423.70" font-size="7.7" fill="#333">0</text>
<text x="615.5" y="345.3" font-size="8.8" fill="#222">-log<tspan font-size="6.2" dy="2">10</tspan><tspan dy="-2" font-style="italic">P</tspan></text>
</svg></body></html>
